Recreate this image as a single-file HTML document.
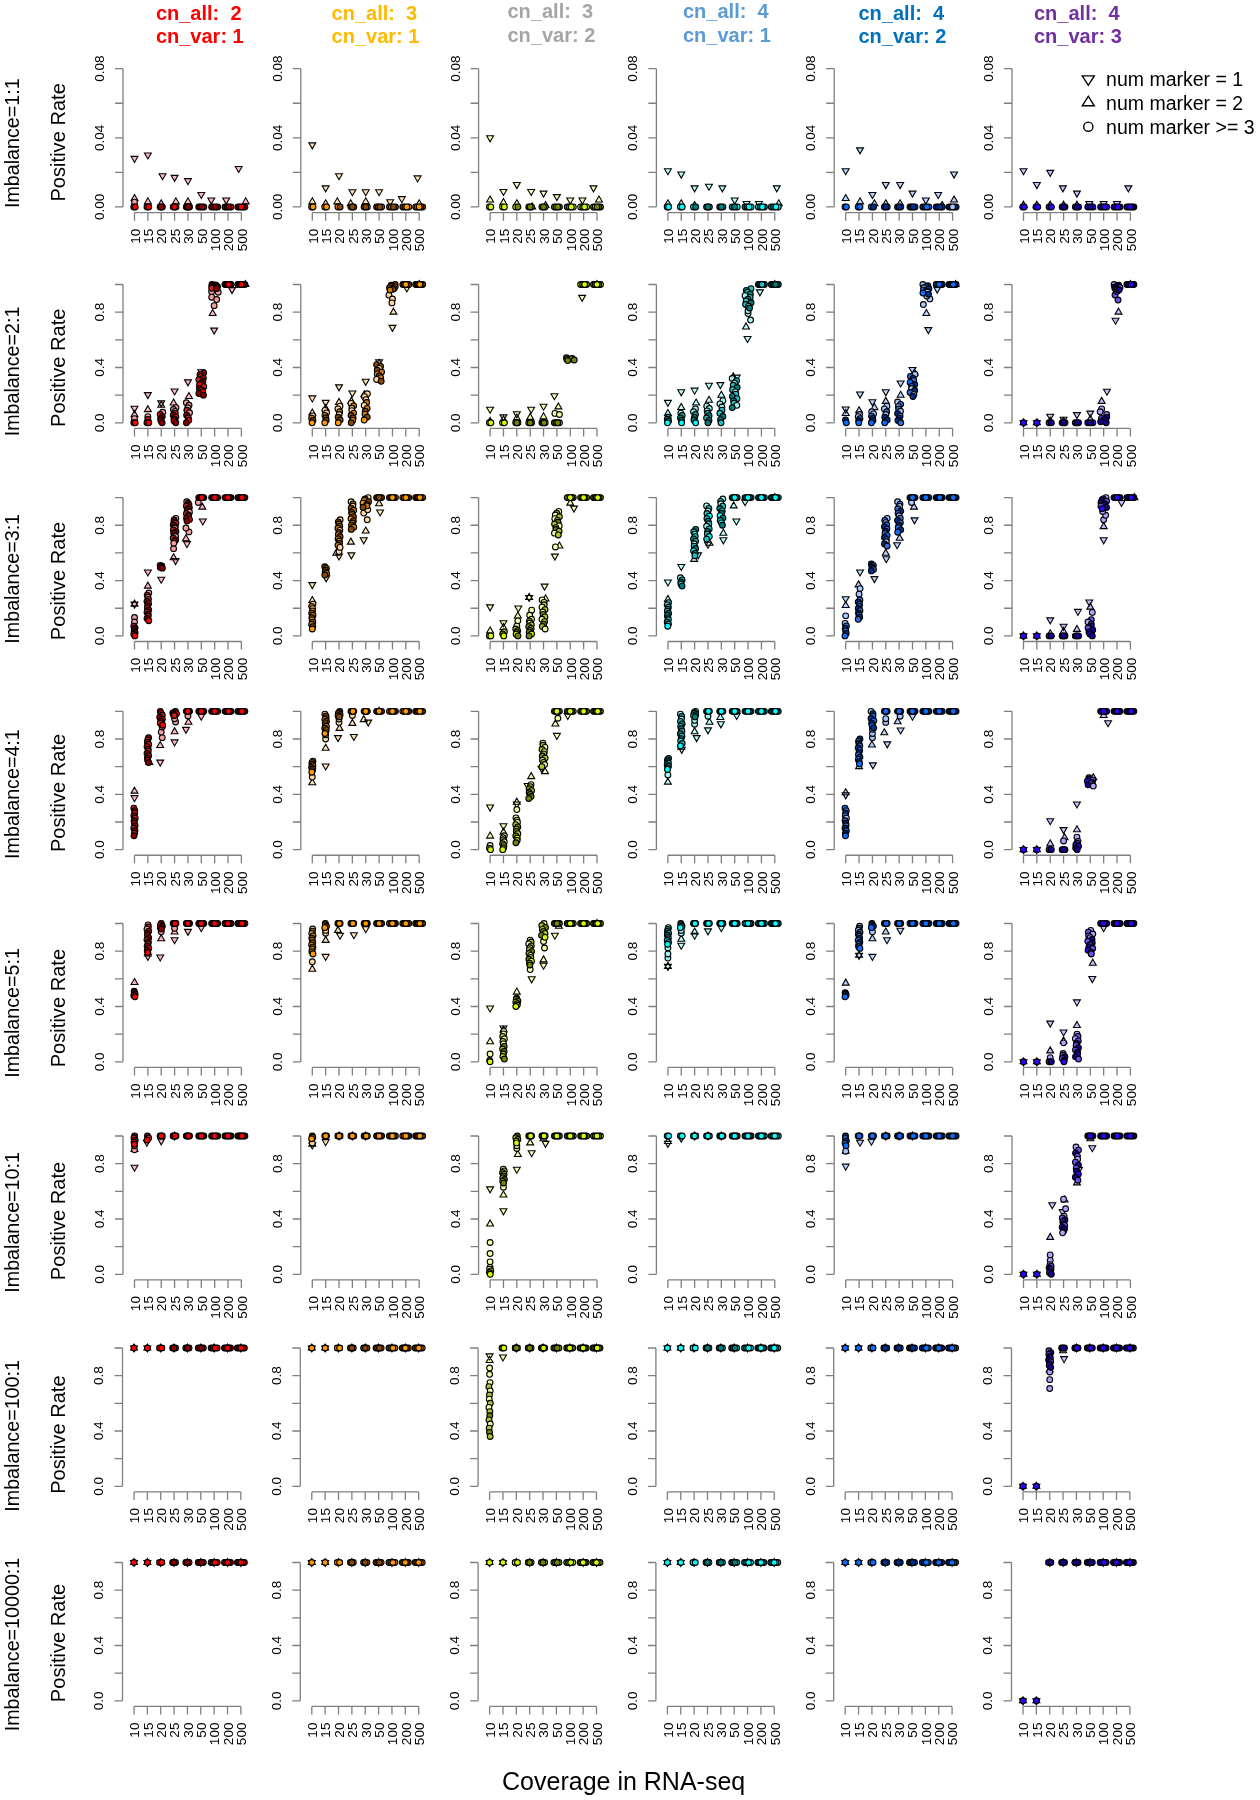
<!DOCTYPE html><html><head><meta charset="utf-8"><style>html,body{margin:0;padding:0;background:#fff;}svg{display:block;will-change:transform;}text{font-family:"Liberation Sans",sans-serif;}</style></head><body>
<svg width="1260" height="1800" viewBox="0 0 1260 1800">
<rect width="1260" height="1800" fill="#fff"/>
<text x="155.91" y="19.8" font-size="20" font-weight="bold" fill="#ff0000" xml:space="preserve">cn_all:  2</text>
<text x="155.91" y="42.9" font-size="20" font-weight="bold" fill="#ff0000" xml:space="preserve">cn_var: 1</text>
<text x="331.61" y="19.8" font-size="20" font-weight="bold" fill="#ffba00" xml:space="preserve">cn_all:  3</text>
<text x="331.61" y="42.9" font-size="20" font-weight="bold" fill="#ffba00" xml:space="preserve">cn_var: 1</text>
<text x="507.51" y="18.3" font-size="20" font-weight="bold" fill="#a5a5a5" xml:space="preserve">cn_all:  3</text>
<text x="507.51" y="41.6" font-size="20" font-weight="bold" fill="#a5a5a5" xml:space="preserve">cn_var: 2</text>
<text x="683.01" y="18.3" font-size="20" font-weight="bold" fill="#5b9bd5" xml:space="preserve">cn_all:  4</text>
<text x="683.01" y="41.6" font-size="20" font-weight="bold" fill="#5b9bd5" xml:space="preserve">cn_var: 1</text>
<text x="858.51" y="19.8" font-size="20" font-weight="bold" fill="#0070c0" xml:space="preserve">cn_all:  4</text>
<text x="858.51" y="42.9" font-size="20" font-weight="bold" fill="#0070c0" xml:space="preserve">cn_var: 2</text>
<text x="1034.01" y="19.8" font-size="20" font-weight="bold" fill="#7030a0" xml:space="preserve">cn_all:  4</text>
<text x="1034.01" y="42.9" font-size="20" font-weight="bold" fill="#7030a0" xml:space="preserve">cn_var: 3</text>
<text transform="translate(18.7,143.25) rotate(-90)" text-anchor="middle" font-size="19.7">Imbalance=1:1</text>
<text transform="translate(64.8,142.35) rotate(-90)" text-anchor="middle" font-size="20.1">Positive Rate</text>
<text transform="translate(18.7,371.5) rotate(-90)" text-anchor="middle" font-size="19.7">Imbalance=2:1</text>
<text transform="translate(64.8,367.8) rotate(-90)" text-anchor="middle" font-size="20.1">Positive Rate</text>
<text transform="translate(18.7,578.8) rotate(-90)" text-anchor="middle" font-size="19.7">Imbalance=3:1</text>
<text transform="translate(64.8,581) rotate(-90)" text-anchor="middle" font-size="20.1">Positive Rate</text>
<text transform="translate(18.7,794.1) rotate(-90)" text-anchor="middle" font-size="19.7">Imbalance=4:1</text>
<text transform="translate(64.8,792.9) rotate(-90)" text-anchor="middle" font-size="20.1">Positive Rate</text>
<text transform="translate(18.7,1013) rotate(-90)" text-anchor="middle" font-size="19.7">Imbalance=5:1</text>
<text transform="translate(64.8,1008.1) rotate(-90)" text-anchor="middle" font-size="20.1">Positive Rate</text>
<text transform="translate(18.7,1222.4) rotate(-90)" text-anchor="middle" font-size="19.7">Imbalance=10:1</text>
<text transform="translate(64.8,1221) rotate(-90)" text-anchor="middle" font-size="20.1">Positive Rate</text>
<text transform="translate(18.7,1435.9) rotate(-90)" text-anchor="middle" font-size="19.7">Imbalance=100:1</text>
<text transform="translate(64.8,1434.6) rotate(-90)" text-anchor="middle" font-size="20.1">Positive Rate</text>
<text transform="translate(18.7,1644.5) rotate(-90)" text-anchor="middle" font-size="19.7">Imbalance=10000:1</text>
<text transform="translate(64.8,1643) rotate(-90)" text-anchor="middle" font-size="20.1">Positive Rate</text>
<path d="M123 68.65V206.95M115 206.95H123M115 172.38H123M115 137.8H123M115 103.23H123M115 68.65H123M134.5 212.55H241.38M134.5 212.55V220.65M147.86 212.55V220.65M161.22 212.55V220.65M174.58 212.55V220.65M187.94 212.55V220.65M201.3 212.55V220.65M214.66 212.55V220.65M228.02 212.55V220.65M241.38 212.55V220.65M300.8 68.65V206.95M292.8 206.95H300.8M292.8 172.38H300.8M292.8 137.8H300.8M292.8 103.23H300.8M292.8 68.65H300.8M312.3 212.55H419.18M312.3 212.55V220.65M325.66 212.55V220.65M339.02 212.55V220.65M352.38 212.55V220.65M365.74 212.55V220.65M379.1 212.55V220.65M392.46 212.55V220.65M405.82 212.55V220.65M419.18 212.55V220.65M478.6 68.65V206.95M470.6 206.95H478.6M470.6 172.38H478.6M470.6 137.8H478.6M470.6 103.23H478.6M470.6 68.65H478.6M490.1 212.55H596.98M490.1 212.55V220.65M503.46 212.55V220.65M516.82 212.55V220.65M530.18 212.55V220.65M543.54 212.55V220.65M556.9 212.55V220.65M570.26 212.55V220.65M583.62 212.55V220.65M596.98 212.55V220.65M656.4 68.65V206.95M648.4 206.95H656.4M648.4 172.38H656.4M648.4 137.8H656.4M648.4 103.23H656.4M648.4 68.65H656.4M667.9 212.55H774.78M667.9 212.55V220.65M681.26 212.55V220.65M694.62 212.55V220.65M707.98 212.55V220.65M721.34 212.55V220.65M734.7 212.55V220.65M748.06 212.55V220.65M761.42 212.55V220.65M774.78 212.55V220.65M834.2 68.65V206.95M826.2 206.95H834.2M826.2 172.38H834.2M826.2 137.8H834.2M826.2 103.23H834.2M826.2 68.65H834.2M845.7 212.55H952.58M845.7 212.55V220.65M859.06 212.55V220.65M872.42 212.55V220.65M885.78 212.55V220.65M899.14 212.55V220.65M912.5 212.55V220.65M925.86 212.55V220.65M939.22 212.55V220.65M952.58 212.55V220.65M1012 68.65V206.95M1004 206.95H1012M1004 172.38H1012M1004 137.8H1012M1004 103.23H1012M1004 68.65H1012M1023.5 212.55H1130.38M1023.5 212.55V220.65M1036.86 212.55V220.65M1050.22 212.55V220.65M1063.58 212.55V220.65M1076.94 212.55V220.65M1090.3 212.55V220.65M1103.66 212.55V220.65M1117.02 212.55V220.65M1130.38 212.55V220.65M123 284.5V422.8M115 422.8H123M115 395.14H123M115 367.48H123M115 339.82H123M115 312.16H123M115 284.5H123M134.5 428.4H241.38M134.5 428.4V436.5M147.86 428.4V436.5M161.22 428.4V436.5M174.58 428.4V436.5M187.94 428.4V436.5M201.3 428.4V436.5M214.66 428.4V436.5M228.02 428.4V436.5M241.38 428.4V436.5M300.8 284.5V422.8M292.8 422.8H300.8M292.8 395.14H300.8M292.8 367.48H300.8M292.8 339.82H300.8M292.8 312.16H300.8M292.8 284.5H300.8M312.3 428.4H419.18M312.3 428.4V436.5M325.66 428.4V436.5M339.02 428.4V436.5M352.38 428.4V436.5M365.74 428.4V436.5M379.1 428.4V436.5M392.46 428.4V436.5M405.82 428.4V436.5M419.18 428.4V436.5M478.6 284.5V422.8M470.6 422.8H478.6M470.6 395.14H478.6M470.6 367.48H478.6M470.6 339.82H478.6M470.6 312.16H478.6M470.6 284.5H478.6M490.1 428.4H596.98M490.1 428.4V436.5M503.46 428.4V436.5M516.82 428.4V436.5M530.18 428.4V436.5M543.54 428.4V436.5M556.9 428.4V436.5M570.26 428.4V436.5M583.62 428.4V436.5M596.98 428.4V436.5M656.4 284.5V422.8M648.4 422.8H656.4M648.4 395.14H656.4M648.4 367.48H656.4M648.4 339.82H656.4M648.4 312.16H656.4M648.4 284.5H656.4M667.9 428.4H774.78M667.9 428.4V436.5M681.26 428.4V436.5M694.62 428.4V436.5M707.98 428.4V436.5M721.34 428.4V436.5M734.7 428.4V436.5M748.06 428.4V436.5M761.42 428.4V436.5M774.78 428.4V436.5M834.2 284.5V422.8M826.2 422.8H834.2M826.2 395.14H834.2M826.2 367.48H834.2M826.2 339.82H834.2M826.2 312.16H834.2M826.2 284.5H834.2M845.7 428.4H952.58M845.7 428.4V436.5M859.06 428.4V436.5M872.42 428.4V436.5M885.78 428.4V436.5M899.14 428.4V436.5M912.5 428.4V436.5M925.86 428.4V436.5M939.22 428.4V436.5M952.58 428.4V436.5M1012 284.5V422.8M1004 422.8H1012M1004 395.14H1012M1004 367.48H1012M1004 339.82H1012M1004 312.16H1012M1004 284.5H1012M1023.5 428.4H1130.38M1023.5 428.4V436.5M1036.86 428.4V436.5M1050.22 428.4V436.5M1063.58 428.4V436.5M1076.94 428.4V436.5M1090.3 428.4V436.5M1103.66 428.4V436.5M1117.02 428.4V436.5M1130.38 428.4V436.5M123 497.6V635.9M115 635.9H123M115 608.24H123M115 580.58H123M115 552.92H123M115 525.26H123M115 497.6H123M134.5 641.5H241.38M134.5 641.5V649.6M147.86 641.5V649.6M161.22 641.5V649.6M174.58 641.5V649.6M187.94 641.5V649.6M201.3 641.5V649.6M214.66 641.5V649.6M228.02 641.5V649.6M241.38 641.5V649.6M300.8 497.6V635.9M292.8 635.9H300.8M292.8 608.24H300.8M292.8 580.58H300.8M292.8 552.92H300.8M292.8 525.26H300.8M292.8 497.6H300.8M312.3 641.5H419.18M312.3 641.5V649.6M325.66 641.5V649.6M339.02 641.5V649.6M352.38 641.5V649.6M365.74 641.5V649.6M379.1 641.5V649.6M392.46 641.5V649.6M405.82 641.5V649.6M419.18 641.5V649.6M478.6 497.6V635.9M470.6 635.9H478.6M470.6 608.24H478.6M470.6 580.58H478.6M470.6 552.92H478.6M470.6 525.26H478.6M470.6 497.6H478.6M490.1 641.5H596.98M490.1 641.5V649.6M503.46 641.5V649.6M516.82 641.5V649.6M530.18 641.5V649.6M543.54 641.5V649.6M556.9 641.5V649.6M570.26 641.5V649.6M583.62 641.5V649.6M596.98 641.5V649.6M656.4 497.6V635.9M648.4 635.9H656.4M648.4 608.24H656.4M648.4 580.58H656.4M648.4 552.92H656.4M648.4 525.26H656.4M648.4 497.6H656.4M667.9 641.5H774.78M667.9 641.5V649.6M681.26 641.5V649.6M694.62 641.5V649.6M707.98 641.5V649.6M721.34 641.5V649.6M734.7 641.5V649.6M748.06 641.5V649.6M761.42 641.5V649.6M774.78 641.5V649.6M834.2 497.6V635.9M826.2 635.9H834.2M826.2 608.24H834.2M826.2 580.58H834.2M826.2 552.92H834.2M826.2 525.26H834.2M826.2 497.6H834.2M845.7 641.5H952.58M845.7 641.5V649.6M859.06 641.5V649.6M872.42 641.5V649.6M885.78 641.5V649.6M899.14 641.5V649.6M912.5 641.5V649.6M925.86 641.5V649.6M939.22 641.5V649.6M952.58 641.5V649.6M1012 497.6V635.9M1004 635.9H1012M1004 608.24H1012M1004 580.58H1012M1004 552.92H1012M1004 525.26H1012M1004 497.6H1012M1023.5 641.5H1130.38M1023.5 641.5V649.6M1036.86 641.5V649.6M1050.22 641.5V649.6M1063.58 641.5V649.6M1076.94 641.5V649.6M1090.3 641.5V649.6M1103.66 641.5V649.6M1117.02 641.5V649.6M1130.38 641.5V649.6M123 711.35V849.65M115 849.65H123M115 821.99H123M115 794.33H123M115 766.67H123M115 739.01H123M115 711.35H123M134.5 855.25H241.38M134.5 855.25V863.35M147.86 855.25V863.35M161.22 855.25V863.35M174.58 855.25V863.35M187.94 855.25V863.35M201.3 855.25V863.35M214.66 855.25V863.35M228.02 855.25V863.35M241.38 855.25V863.35M300.8 711.35V849.65M292.8 849.65H300.8M292.8 821.99H300.8M292.8 794.33H300.8M292.8 766.67H300.8M292.8 739.01H300.8M292.8 711.35H300.8M312.3 855.25H419.18M312.3 855.25V863.35M325.66 855.25V863.35M339.02 855.25V863.35M352.38 855.25V863.35M365.74 855.25V863.35M379.1 855.25V863.35M392.46 855.25V863.35M405.82 855.25V863.35M419.18 855.25V863.35M478.6 711.35V849.65M470.6 849.65H478.6M470.6 821.99H478.6M470.6 794.33H478.6M470.6 766.67H478.6M470.6 739.01H478.6M470.6 711.35H478.6M490.1 855.25H596.98M490.1 855.25V863.35M503.46 855.25V863.35M516.82 855.25V863.35M530.18 855.25V863.35M543.54 855.25V863.35M556.9 855.25V863.35M570.26 855.25V863.35M583.62 855.25V863.35M596.98 855.25V863.35M656.4 711.35V849.65M648.4 849.65H656.4M648.4 821.99H656.4M648.4 794.33H656.4M648.4 766.67H656.4M648.4 739.01H656.4M648.4 711.35H656.4M667.9 855.25H774.78M667.9 855.25V863.35M681.26 855.25V863.35M694.62 855.25V863.35M707.98 855.25V863.35M721.34 855.25V863.35M734.7 855.25V863.35M748.06 855.25V863.35M761.42 855.25V863.35M774.78 855.25V863.35M834.2 711.35V849.65M826.2 849.65H834.2M826.2 821.99H834.2M826.2 794.33H834.2M826.2 766.67H834.2M826.2 739.01H834.2M826.2 711.35H834.2M845.7 855.25H952.58M845.7 855.25V863.35M859.06 855.25V863.35M872.42 855.25V863.35M885.78 855.25V863.35M899.14 855.25V863.35M912.5 855.25V863.35M925.86 855.25V863.35M939.22 855.25V863.35M952.58 855.25V863.35M1012 711.35V849.65M1004 849.65H1012M1004 821.99H1012M1004 794.33H1012M1004 766.67H1012M1004 739.01H1012M1004 711.35H1012M1023.5 855.25H1130.38M1023.5 855.25V863.35M1036.86 855.25V863.35M1050.22 855.25V863.35M1063.58 855.25V863.35M1076.94 855.25V863.35M1090.3 855.25V863.35M1103.66 855.25V863.35M1117.02 855.25V863.35M1130.38 855.25V863.35M123 923.5V1061.8M115 1061.8H123M115 1034.14H123M115 1006.48H123M115 978.82H123M115 951.16H123M115 923.5H123M134.5 1067.4H241.38M134.5 1067.4V1075.5M147.86 1067.4V1075.5M161.22 1067.4V1075.5M174.58 1067.4V1075.5M187.94 1067.4V1075.5M201.3 1067.4V1075.5M214.66 1067.4V1075.5M228.02 1067.4V1075.5M241.38 1067.4V1075.5M300.8 923.5V1061.8M292.8 1061.8H300.8M292.8 1034.14H300.8M292.8 1006.48H300.8M292.8 978.82H300.8M292.8 951.16H300.8M292.8 923.5H300.8M312.3 1067.4H419.18M312.3 1067.4V1075.5M325.66 1067.4V1075.5M339.02 1067.4V1075.5M352.38 1067.4V1075.5M365.74 1067.4V1075.5M379.1 1067.4V1075.5M392.46 1067.4V1075.5M405.82 1067.4V1075.5M419.18 1067.4V1075.5M478.6 923.5V1061.8M470.6 1061.8H478.6M470.6 1034.14H478.6M470.6 1006.48H478.6M470.6 978.82H478.6M470.6 951.16H478.6M470.6 923.5H478.6M490.1 1067.4H596.98M490.1 1067.4V1075.5M503.46 1067.4V1075.5M516.82 1067.4V1075.5M530.18 1067.4V1075.5M543.54 1067.4V1075.5M556.9 1067.4V1075.5M570.26 1067.4V1075.5M583.62 1067.4V1075.5M596.98 1067.4V1075.5M656.4 923.5V1061.8M648.4 1061.8H656.4M648.4 1034.14H656.4M648.4 1006.48H656.4M648.4 978.82H656.4M648.4 951.16H656.4M648.4 923.5H656.4M667.9 1067.4H774.78M667.9 1067.4V1075.5M681.26 1067.4V1075.5M694.62 1067.4V1075.5M707.98 1067.4V1075.5M721.34 1067.4V1075.5M734.7 1067.4V1075.5M748.06 1067.4V1075.5M761.42 1067.4V1075.5M774.78 1067.4V1075.5M834.2 923.5V1061.8M826.2 1061.8H834.2M826.2 1034.14H834.2M826.2 1006.48H834.2M826.2 978.82H834.2M826.2 951.16H834.2M826.2 923.5H834.2M845.7 1067.4H952.58M845.7 1067.4V1075.5M859.06 1067.4V1075.5M872.42 1067.4V1075.5M885.78 1067.4V1075.5M899.14 1067.4V1075.5M912.5 1067.4V1075.5M925.86 1067.4V1075.5M939.22 1067.4V1075.5M952.58 1067.4V1075.5M1012 923.5V1061.8M1004 1061.8H1012M1004 1034.14H1012M1004 1006.48H1012M1004 978.82H1012M1004 951.16H1012M1004 923.5H1012M1023.5 1067.4H1130.38M1023.5 1067.4V1075.5M1036.86 1067.4V1075.5M1050.22 1067.4V1075.5M1063.58 1067.4V1075.5M1076.94 1067.4V1075.5M1090.3 1067.4V1075.5M1103.66 1067.4V1075.5M1117.02 1067.4V1075.5M1130.38 1067.4V1075.5M123 1136V1274.3M115 1274.3H123M115 1246.64H123M115 1218.98H123M115 1191.32H123M115 1163.66H123M115 1136H123M134.5 1279.9H241.38M134.5 1279.9V1288M147.86 1279.9V1288M161.22 1279.9V1288M174.58 1279.9V1288M187.94 1279.9V1288M201.3 1279.9V1288M214.66 1279.9V1288M228.02 1279.9V1288M241.38 1279.9V1288M300.8 1136V1274.3M292.8 1274.3H300.8M292.8 1246.64H300.8M292.8 1218.98H300.8M292.8 1191.32H300.8M292.8 1163.66H300.8M292.8 1136H300.8M312.3 1279.9H419.18M312.3 1279.9V1288M325.66 1279.9V1288M339.02 1279.9V1288M352.38 1279.9V1288M365.74 1279.9V1288M379.1 1279.9V1288M392.46 1279.9V1288M405.82 1279.9V1288M419.18 1279.9V1288M478.6 1136V1274.3M470.6 1274.3H478.6M470.6 1246.64H478.6M470.6 1218.98H478.6M470.6 1191.32H478.6M470.6 1163.66H478.6M470.6 1136H478.6M490.1 1279.9H596.98M490.1 1279.9V1288M503.46 1279.9V1288M516.82 1279.9V1288M530.18 1279.9V1288M543.54 1279.9V1288M556.9 1279.9V1288M570.26 1279.9V1288M583.62 1279.9V1288M596.98 1279.9V1288M656.4 1136V1274.3M648.4 1274.3H656.4M648.4 1246.64H656.4M648.4 1218.98H656.4M648.4 1191.32H656.4M648.4 1163.66H656.4M648.4 1136H656.4M667.9 1279.9H774.78M667.9 1279.9V1288M681.26 1279.9V1288M694.62 1279.9V1288M707.98 1279.9V1288M721.34 1279.9V1288M734.7 1279.9V1288M748.06 1279.9V1288M761.42 1279.9V1288M774.78 1279.9V1288M834.2 1136V1274.3M826.2 1274.3H834.2M826.2 1246.64H834.2M826.2 1218.98H834.2M826.2 1191.32H834.2M826.2 1163.66H834.2M826.2 1136H834.2M845.7 1279.9H952.58M845.7 1279.9V1288M859.06 1279.9V1288M872.42 1279.9V1288M885.78 1279.9V1288M899.14 1279.9V1288M912.5 1279.9V1288M925.86 1279.9V1288M939.22 1279.9V1288M952.58 1279.9V1288M1012 1136V1274.3M1004 1274.3H1012M1004 1246.64H1012M1004 1218.98H1012M1004 1191.32H1012M1004 1163.66H1012M1004 1136H1012M1023.5 1279.9H1130.38M1023.5 1279.9V1288M1036.86 1279.9V1288M1050.22 1279.9V1288M1063.58 1279.9V1288M1076.94 1279.9V1288M1090.3 1279.9V1288M1103.66 1279.9V1288M1117.02 1279.9V1288M1130.38 1279.9V1288M122.5 1348V1486.3M114.5 1486.3H122.5M114.5 1458.64H122.5M114.5 1430.98H122.5M114.5 1403.32H122.5M114.5 1375.66H122.5M114.5 1348H122.5M134 1491.9H240.88M134 1491.9V1500M147.36 1491.9V1500M160.72 1491.9V1500M174.08 1491.9V1500M187.44 1491.9V1500M200.8 1491.9V1500M214.16 1491.9V1500M227.52 1491.9V1500M240.88 1491.9V1500M300.3 1348V1486.3M292.3 1486.3H300.3M292.3 1458.64H300.3M292.3 1430.98H300.3M292.3 1403.32H300.3M292.3 1375.66H300.3M292.3 1348H300.3M311.8 1491.9H418.68M311.8 1491.9V1500M325.16 1491.9V1500M338.52 1491.9V1500M351.88 1491.9V1500M365.24 1491.9V1500M378.6 1491.9V1500M391.96 1491.9V1500M405.32 1491.9V1500M418.68 1491.9V1500M478.1 1348V1486.3M470.1 1486.3H478.1M470.1 1458.64H478.1M470.1 1430.98H478.1M470.1 1403.32H478.1M470.1 1375.66H478.1M470.1 1348H478.1M489.6 1491.9H596.48M489.6 1491.9V1500M502.96 1491.9V1500M516.32 1491.9V1500M529.68 1491.9V1500M543.04 1491.9V1500M556.4 1491.9V1500M569.76 1491.9V1500M583.12 1491.9V1500M596.48 1491.9V1500M655.9 1348V1486.3M647.9 1486.3H655.9M647.9 1458.64H655.9M647.9 1430.98H655.9M647.9 1403.32H655.9M647.9 1375.66H655.9M647.9 1348H655.9M667.4 1491.9H774.28M667.4 1491.9V1500M680.76 1491.9V1500M694.12 1491.9V1500M707.48 1491.9V1500M720.84 1491.9V1500M734.2 1491.9V1500M747.56 1491.9V1500M760.92 1491.9V1500M774.28 1491.9V1500M833.7 1348V1486.3M825.7 1486.3H833.7M825.7 1458.64H833.7M825.7 1430.98H833.7M825.7 1403.32H833.7M825.7 1375.66H833.7M825.7 1348H833.7M845.2 1491.9H952.08M845.2 1491.9V1500M858.56 1491.9V1500M871.92 1491.9V1500M885.28 1491.9V1500M898.64 1491.9V1500M912 1491.9V1500M925.36 1491.9V1500M938.72 1491.9V1500M952.08 1491.9V1500M1011.5 1348V1486.3M1003.5 1486.3H1011.5M1003.5 1458.64H1011.5M1003.5 1430.98H1011.5M1003.5 1403.32H1011.5M1003.5 1375.66H1011.5M1003.5 1348H1011.5M1023 1491.9H1129.88M1023 1491.9V1500M1036.36 1491.9V1500M1049.72 1491.9V1500M1063.08 1491.9V1500M1076.44 1491.9V1500M1089.8 1491.9V1500M1103.16 1491.9V1500M1116.52 1491.9V1500M1129.88 1491.9V1500M122.5 1562.5V1700.8M114.5 1700.8H122.5M114.5 1673.14H122.5M114.5 1645.48H122.5M114.5 1617.82H122.5M114.5 1590.16H122.5M114.5 1562.5H122.5M134 1706.4H240.88M134 1706.4V1714.5M147.36 1706.4V1714.5M160.72 1706.4V1714.5M174.08 1706.4V1714.5M187.44 1706.4V1714.5M200.8 1706.4V1714.5M214.16 1706.4V1714.5M227.52 1706.4V1714.5M240.88 1706.4V1714.5M300.3 1562.5V1700.8M292.3 1700.8H300.3M292.3 1673.14H300.3M292.3 1645.48H300.3M292.3 1617.82H300.3M292.3 1590.16H300.3M292.3 1562.5H300.3M311.8 1706.4H418.68M311.8 1706.4V1714.5M325.16 1706.4V1714.5M338.52 1706.4V1714.5M351.88 1706.4V1714.5M365.24 1706.4V1714.5M378.6 1706.4V1714.5M391.96 1706.4V1714.5M405.32 1706.4V1714.5M418.68 1706.4V1714.5M478.1 1562.5V1700.8M470.1 1700.8H478.1M470.1 1673.14H478.1M470.1 1645.48H478.1M470.1 1617.82H478.1M470.1 1590.16H478.1M470.1 1562.5H478.1M489.6 1706.4H596.48M489.6 1706.4V1714.5M502.96 1706.4V1714.5M516.32 1706.4V1714.5M529.68 1706.4V1714.5M543.04 1706.4V1714.5M556.4 1706.4V1714.5M569.76 1706.4V1714.5M583.12 1706.4V1714.5M596.48 1706.4V1714.5M655.9 1562.5V1700.8M647.9 1700.8H655.9M647.9 1673.14H655.9M647.9 1645.48H655.9M647.9 1617.82H655.9M647.9 1590.16H655.9M647.9 1562.5H655.9M667.4 1706.4H774.28M667.4 1706.4V1714.5M680.76 1706.4V1714.5M694.12 1706.4V1714.5M707.48 1706.4V1714.5M720.84 1706.4V1714.5M734.2 1706.4V1714.5M747.56 1706.4V1714.5M760.92 1706.4V1714.5M774.28 1706.4V1714.5M833.7 1562.5V1700.8M825.7 1700.8H833.7M825.7 1673.14H833.7M825.7 1645.48H833.7M825.7 1617.82H833.7M825.7 1590.16H833.7M825.7 1562.5H833.7M845.2 1706.4H952.08M845.2 1706.4V1714.5M858.56 1706.4V1714.5M871.92 1706.4V1714.5M885.28 1706.4V1714.5M898.64 1706.4V1714.5M912 1706.4V1714.5M925.36 1706.4V1714.5M938.72 1706.4V1714.5M952.08 1706.4V1714.5M1011.5 1562.5V1700.8M1003.5 1700.8H1011.5M1003.5 1673.14H1011.5M1003.5 1645.48H1011.5M1003.5 1617.82H1011.5M1003.5 1590.16H1011.5M1003.5 1562.5H1011.5M1023 1706.4H1129.88M1023 1706.4V1714.5M1036.36 1706.4V1714.5M1049.72 1706.4V1714.5M1063.08 1706.4V1714.5M1076.44 1706.4V1714.5M1089.8 1706.4V1714.5M1103.16 1706.4V1714.5M1116.52 1706.4V1714.5M1129.88 1706.4V1714.5" fill="none" stroke="#7f7f7f" stroke-width="1.3" stroke-linejoin="round"/>
<g font-size="13.5" fill="#000"><text transform="translate(103.9,206.95) rotate(-90)" text-anchor="middle">0.00</text><text transform="translate(103.9,137.8) rotate(-90)" text-anchor="middle">0.04</text><text transform="translate(103.9,68.65) rotate(-90)" text-anchor="middle">0.08</text><text transform="translate(139.76,228.75) rotate(-90)" text-anchor="end">10</text><text transform="translate(153.12,228.75) rotate(-90)" text-anchor="end">15</text><text transform="translate(166.48,228.75) rotate(-90)" text-anchor="end">20</text><text transform="translate(179.84,228.75) rotate(-90)" text-anchor="end">25</text><text transform="translate(193.2,228.75) rotate(-90)" text-anchor="end">30</text><text transform="translate(206.56,228.75) rotate(-90)" text-anchor="end">50</text><text transform="translate(219.92,228.75) rotate(-90)" text-anchor="end">100</text><text transform="translate(233.28,228.75) rotate(-90)" text-anchor="end">200</text><text transform="translate(246.64,228.75) rotate(-90)" text-anchor="end">500</text><text transform="translate(281.7,206.95) rotate(-90)" text-anchor="middle">0.00</text><text transform="translate(281.7,137.8) rotate(-90)" text-anchor="middle">0.04</text><text transform="translate(281.7,68.65) rotate(-90)" text-anchor="middle">0.08</text><text transform="translate(317.56,228.75) rotate(-90)" text-anchor="end">10</text><text transform="translate(330.92,228.75) rotate(-90)" text-anchor="end">15</text><text transform="translate(344.28,228.75) rotate(-90)" text-anchor="end">20</text><text transform="translate(357.64,228.75) rotate(-90)" text-anchor="end">25</text><text transform="translate(371,228.75) rotate(-90)" text-anchor="end">30</text><text transform="translate(384.36,228.75) rotate(-90)" text-anchor="end">50</text><text transform="translate(397.72,228.75) rotate(-90)" text-anchor="end">100</text><text transform="translate(411.08,228.75) rotate(-90)" text-anchor="end">200</text><text transform="translate(424.44,228.75) rotate(-90)" text-anchor="end">500</text><text transform="translate(459.5,206.95) rotate(-90)" text-anchor="middle">0.00</text><text transform="translate(459.5,137.8) rotate(-90)" text-anchor="middle">0.04</text><text transform="translate(459.5,68.65) rotate(-90)" text-anchor="middle">0.08</text><text transform="translate(495.36,228.75) rotate(-90)" text-anchor="end">10</text><text transform="translate(508.72,228.75) rotate(-90)" text-anchor="end">15</text><text transform="translate(522.08,228.75) rotate(-90)" text-anchor="end">20</text><text transform="translate(535.44,228.75) rotate(-90)" text-anchor="end">25</text><text transform="translate(548.8,228.75) rotate(-90)" text-anchor="end">30</text><text transform="translate(562.16,228.75) rotate(-90)" text-anchor="end">50</text><text transform="translate(575.52,228.75) rotate(-90)" text-anchor="end">100</text><text transform="translate(588.88,228.75) rotate(-90)" text-anchor="end">200</text><text transform="translate(602.24,228.75) rotate(-90)" text-anchor="end">500</text><text transform="translate(637.3,206.95) rotate(-90)" text-anchor="middle">0.00</text><text transform="translate(637.3,137.8) rotate(-90)" text-anchor="middle">0.04</text><text transform="translate(637.3,68.65) rotate(-90)" text-anchor="middle">0.08</text><text transform="translate(673.16,228.75) rotate(-90)" text-anchor="end">10</text><text transform="translate(686.52,228.75) rotate(-90)" text-anchor="end">15</text><text transform="translate(699.88,228.75) rotate(-90)" text-anchor="end">20</text><text transform="translate(713.24,228.75) rotate(-90)" text-anchor="end">25</text><text transform="translate(726.6,228.75) rotate(-90)" text-anchor="end">30</text><text transform="translate(739.96,228.75) rotate(-90)" text-anchor="end">50</text><text transform="translate(753.32,228.75) rotate(-90)" text-anchor="end">100</text><text transform="translate(766.68,228.75) rotate(-90)" text-anchor="end">200</text><text transform="translate(780.04,228.75) rotate(-90)" text-anchor="end">500</text><text transform="translate(815.1,206.95) rotate(-90)" text-anchor="middle">0.00</text><text transform="translate(815.1,137.8) rotate(-90)" text-anchor="middle">0.04</text><text transform="translate(815.1,68.65) rotate(-90)" text-anchor="middle">0.08</text><text transform="translate(850.96,228.75) rotate(-90)" text-anchor="end">10</text><text transform="translate(864.32,228.75) rotate(-90)" text-anchor="end">15</text><text transform="translate(877.68,228.75) rotate(-90)" text-anchor="end">20</text><text transform="translate(891.04,228.75) rotate(-90)" text-anchor="end">25</text><text transform="translate(904.4,228.75) rotate(-90)" text-anchor="end">30</text><text transform="translate(917.76,228.75) rotate(-90)" text-anchor="end">50</text><text transform="translate(931.12,228.75) rotate(-90)" text-anchor="end">100</text><text transform="translate(944.48,228.75) rotate(-90)" text-anchor="end">200</text><text transform="translate(957.84,228.75) rotate(-90)" text-anchor="end">500</text><text transform="translate(992.9,206.95) rotate(-90)" text-anchor="middle">0.00</text><text transform="translate(992.9,137.8) rotate(-90)" text-anchor="middle">0.04</text><text transform="translate(992.9,68.65) rotate(-90)" text-anchor="middle">0.08</text><text transform="translate(1028.76,228.75) rotate(-90)" text-anchor="end">10</text><text transform="translate(1042.12,228.75) rotate(-90)" text-anchor="end">15</text><text transform="translate(1055.48,228.75) rotate(-90)" text-anchor="end">20</text><text transform="translate(1068.84,228.75) rotate(-90)" text-anchor="end">25</text><text transform="translate(1082.2,228.75) rotate(-90)" text-anchor="end">30</text><text transform="translate(1095.56,228.75) rotate(-90)" text-anchor="end">50</text><text transform="translate(1108.92,228.75) rotate(-90)" text-anchor="end">100</text><text transform="translate(1122.28,228.75) rotate(-90)" text-anchor="end">200</text><text transform="translate(1135.64,228.75) rotate(-90)" text-anchor="end">500</text><text transform="translate(103.9,422.8) rotate(-90)" text-anchor="middle">0.0</text><text transform="translate(103.9,367.48) rotate(-90)" text-anchor="middle">0.4</text><text transform="translate(103.9,312.16) rotate(-90)" text-anchor="middle">0.8</text><text transform="translate(139.76,444.6) rotate(-90)" text-anchor="end">10</text><text transform="translate(153.12,444.6) rotate(-90)" text-anchor="end">15</text><text transform="translate(166.48,444.6) rotate(-90)" text-anchor="end">20</text><text transform="translate(179.84,444.6) rotate(-90)" text-anchor="end">25</text><text transform="translate(193.2,444.6) rotate(-90)" text-anchor="end">30</text><text transform="translate(206.56,444.6) rotate(-90)" text-anchor="end">50</text><text transform="translate(219.92,444.6) rotate(-90)" text-anchor="end">100</text><text transform="translate(233.28,444.6) rotate(-90)" text-anchor="end">200</text><text transform="translate(246.64,444.6) rotate(-90)" text-anchor="end">500</text><text transform="translate(281.7,422.8) rotate(-90)" text-anchor="middle">0.0</text><text transform="translate(281.7,367.48) rotate(-90)" text-anchor="middle">0.4</text><text transform="translate(281.7,312.16) rotate(-90)" text-anchor="middle">0.8</text><text transform="translate(317.56,444.6) rotate(-90)" text-anchor="end">10</text><text transform="translate(330.92,444.6) rotate(-90)" text-anchor="end">15</text><text transform="translate(344.28,444.6) rotate(-90)" text-anchor="end">20</text><text transform="translate(357.64,444.6) rotate(-90)" text-anchor="end">25</text><text transform="translate(371,444.6) rotate(-90)" text-anchor="end">30</text><text transform="translate(384.36,444.6) rotate(-90)" text-anchor="end">50</text><text transform="translate(397.72,444.6) rotate(-90)" text-anchor="end">100</text><text transform="translate(411.08,444.6) rotate(-90)" text-anchor="end">200</text><text transform="translate(424.44,444.6) rotate(-90)" text-anchor="end">500</text><text transform="translate(459.5,422.8) rotate(-90)" text-anchor="middle">0.0</text><text transform="translate(459.5,367.48) rotate(-90)" text-anchor="middle">0.4</text><text transform="translate(459.5,312.16) rotate(-90)" text-anchor="middle">0.8</text><text transform="translate(495.36,444.6) rotate(-90)" text-anchor="end">10</text><text transform="translate(508.72,444.6) rotate(-90)" text-anchor="end">15</text><text transform="translate(522.08,444.6) rotate(-90)" text-anchor="end">20</text><text transform="translate(535.44,444.6) rotate(-90)" text-anchor="end">25</text><text transform="translate(548.8,444.6) rotate(-90)" text-anchor="end">30</text><text transform="translate(562.16,444.6) rotate(-90)" text-anchor="end">50</text><text transform="translate(575.52,444.6) rotate(-90)" text-anchor="end">100</text><text transform="translate(588.88,444.6) rotate(-90)" text-anchor="end">200</text><text transform="translate(602.24,444.6) rotate(-90)" text-anchor="end">500</text><text transform="translate(637.3,422.8) rotate(-90)" text-anchor="middle">0.0</text><text transform="translate(637.3,367.48) rotate(-90)" text-anchor="middle">0.4</text><text transform="translate(637.3,312.16) rotate(-90)" text-anchor="middle">0.8</text><text transform="translate(673.16,444.6) rotate(-90)" text-anchor="end">10</text><text transform="translate(686.52,444.6) rotate(-90)" text-anchor="end">15</text><text transform="translate(699.88,444.6) rotate(-90)" text-anchor="end">20</text><text transform="translate(713.24,444.6) rotate(-90)" text-anchor="end">25</text><text transform="translate(726.6,444.6) rotate(-90)" text-anchor="end">30</text><text transform="translate(739.96,444.6) rotate(-90)" text-anchor="end">50</text><text transform="translate(753.32,444.6) rotate(-90)" text-anchor="end">100</text><text transform="translate(766.68,444.6) rotate(-90)" text-anchor="end">200</text><text transform="translate(780.04,444.6) rotate(-90)" text-anchor="end">500</text><text transform="translate(815.1,422.8) rotate(-90)" text-anchor="middle">0.0</text><text transform="translate(815.1,367.48) rotate(-90)" text-anchor="middle">0.4</text><text transform="translate(815.1,312.16) rotate(-90)" text-anchor="middle">0.8</text><text transform="translate(850.96,444.6) rotate(-90)" text-anchor="end">10</text><text transform="translate(864.32,444.6) rotate(-90)" text-anchor="end">15</text><text transform="translate(877.68,444.6) rotate(-90)" text-anchor="end">20</text><text transform="translate(891.04,444.6) rotate(-90)" text-anchor="end">25</text><text transform="translate(904.4,444.6) rotate(-90)" text-anchor="end">30</text><text transform="translate(917.76,444.6) rotate(-90)" text-anchor="end">50</text><text transform="translate(931.12,444.6) rotate(-90)" text-anchor="end">100</text><text transform="translate(944.48,444.6) rotate(-90)" text-anchor="end">200</text><text transform="translate(957.84,444.6) rotate(-90)" text-anchor="end">500</text><text transform="translate(992.9,422.8) rotate(-90)" text-anchor="middle">0.0</text><text transform="translate(992.9,367.48) rotate(-90)" text-anchor="middle">0.4</text><text transform="translate(992.9,312.16) rotate(-90)" text-anchor="middle">0.8</text><text transform="translate(1028.76,444.6) rotate(-90)" text-anchor="end">10</text><text transform="translate(1042.12,444.6) rotate(-90)" text-anchor="end">15</text><text transform="translate(1055.48,444.6) rotate(-90)" text-anchor="end">20</text><text transform="translate(1068.84,444.6) rotate(-90)" text-anchor="end">25</text><text transform="translate(1082.2,444.6) rotate(-90)" text-anchor="end">30</text><text transform="translate(1095.56,444.6) rotate(-90)" text-anchor="end">50</text><text transform="translate(1108.92,444.6) rotate(-90)" text-anchor="end">100</text><text transform="translate(1122.28,444.6) rotate(-90)" text-anchor="end">200</text><text transform="translate(1135.64,444.6) rotate(-90)" text-anchor="end">500</text><text transform="translate(103.9,635.9) rotate(-90)" text-anchor="middle">0.0</text><text transform="translate(103.9,580.58) rotate(-90)" text-anchor="middle">0.4</text><text transform="translate(103.9,525.26) rotate(-90)" text-anchor="middle">0.8</text><text transform="translate(139.76,657.7) rotate(-90)" text-anchor="end">10</text><text transform="translate(153.12,657.7) rotate(-90)" text-anchor="end">15</text><text transform="translate(166.48,657.7) rotate(-90)" text-anchor="end">20</text><text transform="translate(179.84,657.7) rotate(-90)" text-anchor="end">25</text><text transform="translate(193.2,657.7) rotate(-90)" text-anchor="end">30</text><text transform="translate(206.56,657.7) rotate(-90)" text-anchor="end">50</text><text transform="translate(219.92,657.7) rotate(-90)" text-anchor="end">100</text><text transform="translate(233.28,657.7) rotate(-90)" text-anchor="end">200</text><text transform="translate(246.64,657.7) rotate(-90)" text-anchor="end">500</text><text transform="translate(281.7,635.9) rotate(-90)" text-anchor="middle">0.0</text><text transform="translate(281.7,580.58) rotate(-90)" text-anchor="middle">0.4</text><text transform="translate(281.7,525.26) rotate(-90)" text-anchor="middle">0.8</text><text transform="translate(317.56,657.7) rotate(-90)" text-anchor="end">10</text><text transform="translate(330.92,657.7) rotate(-90)" text-anchor="end">15</text><text transform="translate(344.28,657.7) rotate(-90)" text-anchor="end">20</text><text transform="translate(357.64,657.7) rotate(-90)" text-anchor="end">25</text><text transform="translate(371,657.7) rotate(-90)" text-anchor="end">30</text><text transform="translate(384.36,657.7) rotate(-90)" text-anchor="end">50</text><text transform="translate(397.72,657.7) rotate(-90)" text-anchor="end">100</text><text transform="translate(411.08,657.7) rotate(-90)" text-anchor="end">200</text><text transform="translate(424.44,657.7) rotate(-90)" text-anchor="end">500</text><text transform="translate(459.5,635.9) rotate(-90)" text-anchor="middle">0.0</text><text transform="translate(459.5,580.58) rotate(-90)" text-anchor="middle">0.4</text><text transform="translate(459.5,525.26) rotate(-90)" text-anchor="middle">0.8</text><text transform="translate(495.36,657.7) rotate(-90)" text-anchor="end">10</text><text transform="translate(508.72,657.7) rotate(-90)" text-anchor="end">15</text><text transform="translate(522.08,657.7) rotate(-90)" text-anchor="end">20</text><text transform="translate(535.44,657.7) rotate(-90)" text-anchor="end">25</text><text transform="translate(548.8,657.7) rotate(-90)" text-anchor="end">30</text><text transform="translate(562.16,657.7) rotate(-90)" text-anchor="end">50</text><text transform="translate(575.52,657.7) rotate(-90)" text-anchor="end">100</text><text transform="translate(588.88,657.7) rotate(-90)" text-anchor="end">200</text><text transform="translate(602.24,657.7) rotate(-90)" text-anchor="end">500</text><text transform="translate(637.3,635.9) rotate(-90)" text-anchor="middle">0.0</text><text transform="translate(637.3,580.58) rotate(-90)" text-anchor="middle">0.4</text><text transform="translate(637.3,525.26) rotate(-90)" text-anchor="middle">0.8</text><text transform="translate(673.16,657.7) rotate(-90)" text-anchor="end">10</text><text transform="translate(686.52,657.7) rotate(-90)" text-anchor="end">15</text><text transform="translate(699.88,657.7) rotate(-90)" text-anchor="end">20</text><text transform="translate(713.24,657.7) rotate(-90)" text-anchor="end">25</text><text transform="translate(726.6,657.7) rotate(-90)" text-anchor="end">30</text><text transform="translate(739.96,657.7) rotate(-90)" text-anchor="end">50</text><text transform="translate(753.32,657.7) rotate(-90)" text-anchor="end">100</text><text transform="translate(766.68,657.7) rotate(-90)" text-anchor="end">200</text><text transform="translate(780.04,657.7) rotate(-90)" text-anchor="end">500</text><text transform="translate(815.1,635.9) rotate(-90)" text-anchor="middle">0.0</text><text transform="translate(815.1,580.58) rotate(-90)" text-anchor="middle">0.4</text><text transform="translate(815.1,525.26) rotate(-90)" text-anchor="middle">0.8</text><text transform="translate(850.96,657.7) rotate(-90)" text-anchor="end">10</text><text transform="translate(864.32,657.7) rotate(-90)" text-anchor="end">15</text><text transform="translate(877.68,657.7) rotate(-90)" text-anchor="end">20</text><text transform="translate(891.04,657.7) rotate(-90)" text-anchor="end">25</text><text transform="translate(904.4,657.7) rotate(-90)" text-anchor="end">30</text><text transform="translate(917.76,657.7) rotate(-90)" text-anchor="end">50</text><text transform="translate(931.12,657.7) rotate(-90)" text-anchor="end">100</text><text transform="translate(944.48,657.7) rotate(-90)" text-anchor="end">200</text><text transform="translate(957.84,657.7) rotate(-90)" text-anchor="end">500</text><text transform="translate(992.9,635.9) rotate(-90)" text-anchor="middle">0.0</text><text transform="translate(992.9,580.58) rotate(-90)" text-anchor="middle">0.4</text><text transform="translate(992.9,525.26) rotate(-90)" text-anchor="middle">0.8</text><text transform="translate(1028.76,657.7) rotate(-90)" text-anchor="end">10</text><text transform="translate(1042.12,657.7) rotate(-90)" text-anchor="end">15</text><text transform="translate(1055.48,657.7) rotate(-90)" text-anchor="end">20</text><text transform="translate(1068.84,657.7) rotate(-90)" text-anchor="end">25</text><text transform="translate(1082.2,657.7) rotate(-90)" text-anchor="end">30</text><text transform="translate(1095.56,657.7) rotate(-90)" text-anchor="end">50</text><text transform="translate(1108.92,657.7) rotate(-90)" text-anchor="end">100</text><text transform="translate(1122.28,657.7) rotate(-90)" text-anchor="end">200</text><text transform="translate(1135.64,657.7) rotate(-90)" text-anchor="end">500</text><text transform="translate(103.9,849.65) rotate(-90)" text-anchor="middle">0.0</text><text transform="translate(103.9,794.33) rotate(-90)" text-anchor="middle">0.4</text><text transform="translate(103.9,739.01) rotate(-90)" text-anchor="middle">0.8</text><text transform="translate(139.76,871.45) rotate(-90)" text-anchor="end">10</text><text transform="translate(153.12,871.45) rotate(-90)" text-anchor="end">15</text><text transform="translate(166.48,871.45) rotate(-90)" text-anchor="end">20</text><text transform="translate(179.84,871.45) rotate(-90)" text-anchor="end">25</text><text transform="translate(193.2,871.45) rotate(-90)" text-anchor="end">30</text><text transform="translate(206.56,871.45) rotate(-90)" text-anchor="end">50</text><text transform="translate(219.92,871.45) rotate(-90)" text-anchor="end">100</text><text transform="translate(233.28,871.45) rotate(-90)" text-anchor="end">200</text><text transform="translate(246.64,871.45) rotate(-90)" text-anchor="end">500</text><text transform="translate(281.7,849.65) rotate(-90)" text-anchor="middle">0.0</text><text transform="translate(281.7,794.33) rotate(-90)" text-anchor="middle">0.4</text><text transform="translate(281.7,739.01) rotate(-90)" text-anchor="middle">0.8</text><text transform="translate(317.56,871.45) rotate(-90)" text-anchor="end">10</text><text transform="translate(330.92,871.45) rotate(-90)" text-anchor="end">15</text><text transform="translate(344.28,871.45) rotate(-90)" text-anchor="end">20</text><text transform="translate(357.64,871.45) rotate(-90)" text-anchor="end">25</text><text transform="translate(371,871.45) rotate(-90)" text-anchor="end">30</text><text transform="translate(384.36,871.45) rotate(-90)" text-anchor="end">50</text><text transform="translate(397.72,871.45) rotate(-90)" text-anchor="end">100</text><text transform="translate(411.08,871.45) rotate(-90)" text-anchor="end">200</text><text transform="translate(424.44,871.45) rotate(-90)" text-anchor="end">500</text><text transform="translate(459.5,849.65) rotate(-90)" text-anchor="middle">0.0</text><text transform="translate(459.5,794.33) rotate(-90)" text-anchor="middle">0.4</text><text transform="translate(459.5,739.01) rotate(-90)" text-anchor="middle">0.8</text><text transform="translate(495.36,871.45) rotate(-90)" text-anchor="end">10</text><text transform="translate(508.72,871.45) rotate(-90)" text-anchor="end">15</text><text transform="translate(522.08,871.45) rotate(-90)" text-anchor="end">20</text><text transform="translate(535.44,871.45) rotate(-90)" text-anchor="end">25</text><text transform="translate(548.8,871.45) rotate(-90)" text-anchor="end">30</text><text transform="translate(562.16,871.45) rotate(-90)" text-anchor="end">50</text><text transform="translate(575.52,871.45) rotate(-90)" text-anchor="end">100</text><text transform="translate(588.88,871.45) rotate(-90)" text-anchor="end">200</text><text transform="translate(602.24,871.45) rotate(-90)" text-anchor="end">500</text><text transform="translate(637.3,849.65) rotate(-90)" text-anchor="middle">0.0</text><text transform="translate(637.3,794.33) rotate(-90)" text-anchor="middle">0.4</text><text transform="translate(637.3,739.01) rotate(-90)" text-anchor="middle">0.8</text><text transform="translate(673.16,871.45) rotate(-90)" text-anchor="end">10</text><text transform="translate(686.52,871.45) rotate(-90)" text-anchor="end">15</text><text transform="translate(699.88,871.45) rotate(-90)" text-anchor="end">20</text><text transform="translate(713.24,871.45) rotate(-90)" text-anchor="end">25</text><text transform="translate(726.6,871.45) rotate(-90)" text-anchor="end">30</text><text transform="translate(739.96,871.45) rotate(-90)" text-anchor="end">50</text><text transform="translate(753.32,871.45) rotate(-90)" text-anchor="end">100</text><text transform="translate(766.68,871.45) rotate(-90)" text-anchor="end">200</text><text transform="translate(780.04,871.45) rotate(-90)" text-anchor="end">500</text><text transform="translate(815.1,849.65) rotate(-90)" text-anchor="middle">0.0</text><text transform="translate(815.1,794.33) rotate(-90)" text-anchor="middle">0.4</text><text transform="translate(815.1,739.01) rotate(-90)" text-anchor="middle">0.8</text><text transform="translate(850.96,871.45) rotate(-90)" text-anchor="end">10</text><text transform="translate(864.32,871.45) rotate(-90)" text-anchor="end">15</text><text transform="translate(877.68,871.45) rotate(-90)" text-anchor="end">20</text><text transform="translate(891.04,871.45) rotate(-90)" text-anchor="end">25</text><text transform="translate(904.4,871.45) rotate(-90)" text-anchor="end">30</text><text transform="translate(917.76,871.45) rotate(-90)" text-anchor="end">50</text><text transform="translate(931.12,871.45) rotate(-90)" text-anchor="end">100</text><text transform="translate(944.48,871.45) rotate(-90)" text-anchor="end">200</text><text transform="translate(957.84,871.45) rotate(-90)" text-anchor="end">500</text><text transform="translate(992.9,849.65) rotate(-90)" text-anchor="middle">0.0</text><text transform="translate(992.9,794.33) rotate(-90)" text-anchor="middle">0.4</text><text transform="translate(992.9,739.01) rotate(-90)" text-anchor="middle">0.8</text><text transform="translate(1028.76,871.45) rotate(-90)" text-anchor="end">10</text><text transform="translate(1042.12,871.45) rotate(-90)" text-anchor="end">15</text><text transform="translate(1055.48,871.45) rotate(-90)" text-anchor="end">20</text><text transform="translate(1068.84,871.45) rotate(-90)" text-anchor="end">25</text><text transform="translate(1082.2,871.45) rotate(-90)" text-anchor="end">30</text><text transform="translate(1095.56,871.45) rotate(-90)" text-anchor="end">50</text><text transform="translate(1108.92,871.45) rotate(-90)" text-anchor="end">100</text><text transform="translate(1122.28,871.45) rotate(-90)" text-anchor="end">200</text><text transform="translate(1135.64,871.45) rotate(-90)" text-anchor="end">500</text><text transform="translate(103.9,1061.8) rotate(-90)" text-anchor="middle">0.0</text><text transform="translate(103.9,1006.48) rotate(-90)" text-anchor="middle">0.4</text><text transform="translate(103.9,951.16) rotate(-90)" text-anchor="middle">0.8</text><text transform="translate(139.76,1083.6) rotate(-90)" text-anchor="end">10</text><text transform="translate(153.12,1083.6) rotate(-90)" text-anchor="end">15</text><text transform="translate(166.48,1083.6) rotate(-90)" text-anchor="end">20</text><text transform="translate(179.84,1083.6) rotate(-90)" text-anchor="end">25</text><text transform="translate(193.2,1083.6) rotate(-90)" text-anchor="end">30</text><text transform="translate(206.56,1083.6) rotate(-90)" text-anchor="end">50</text><text transform="translate(219.92,1083.6) rotate(-90)" text-anchor="end">100</text><text transform="translate(233.28,1083.6) rotate(-90)" text-anchor="end">200</text><text transform="translate(246.64,1083.6) rotate(-90)" text-anchor="end">500</text><text transform="translate(281.7,1061.8) rotate(-90)" text-anchor="middle">0.0</text><text transform="translate(281.7,1006.48) rotate(-90)" text-anchor="middle">0.4</text><text transform="translate(281.7,951.16) rotate(-90)" text-anchor="middle">0.8</text><text transform="translate(317.56,1083.6) rotate(-90)" text-anchor="end">10</text><text transform="translate(330.92,1083.6) rotate(-90)" text-anchor="end">15</text><text transform="translate(344.28,1083.6) rotate(-90)" text-anchor="end">20</text><text transform="translate(357.64,1083.6) rotate(-90)" text-anchor="end">25</text><text transform="translate(371,1083.6) rotate(-90)" text-anchor="end">30</text><text transform="translate(384.36,1083.6) rotate(-90)" text-anchor="end">50</text><text transform="translate(397.72,1083.6) rotate(-90)" text-anchor="end">100</text><text transform="translate(411.08,1083.6) rotate(-90)" text-anchor="end">200</text><text transform="translate(424.44,1083.6) rotate(-90)" text-anchor="end">500</text><text transform="translate(459.5,1061.8) rotate(-90)" text-anchor="middle">0.0</text><text transform="translate(459.5,1006.48) rotate(-90)" text-anchor="middle">0.4</text><text transform="translate(459.5,951.16) rotate(-90)" text-anchor="middle">0.8</text><text transform="translate(495.36,1083.6) rotate(-90)" text-anchor="end">10</text><text transform="translate(508.72,1083.6) rotate(-90)" text-anchor="end">15</text><text transform="translate(522.08,1083.6) rotate(-90)" text-anchor="end">20</text><text transform="translate(535.44,1083.6) rotate(-90)" text-anchor="end">25</text><text transform="translate(548.8,1083.6) rotate(-90)" text-anchor="end">30</text><text transform="translate(562.16,1083.6) rotate(-90)" text-anchor="end">50</text><text transform="translate(575.52,1083.6) rotate(-90)" text-anchor="end">100</text><text transform="translate(588.88,1083.6) rotate(-90)" text-anchor="end">200</text><text transform="translate(602.24,1083.6) rotate(-90)" text-anchor="end">500</text><text transform="translate(637.3,1061.8) rotate(-90)" text-anchor="middle">0.0</text><text transform="translate(637.3,1006.48) rotate(-90)" text-anchor="middle">0.4</text><text transform="translate(637.3,951.16) rotate(-90)" text-anchor="middle">0.8</text><text transform="translate(673.16,1083.6) rotate(-90)" text-anchor="end">10</text><text transform="translate(686.52,1083.6) rotate(-90)" text-anchor="end">15</text><text transform="translate(699.88,1083.6) rotate(-90)" text-anchor="end">20</text><text transform="translate(713.24,1083.6) rotate(-90)" text-anchor="end">25</text><text transform="translate(726.6,1083.6) rotate(-90)" text-anchor="end">30</text><text transform="translate(739.96,1083.6) rotate(-90)" text-anchor="end">50</text><text transform="translate(753.32,1083.6) rotate(-90)" text-anchor="end">100</text><text transform="translate(766.68,1083.6) rotate(-90)" text-anchor="end">200</text><text transform="translate(780.04,1083.6) rotate(-90)" text-anchor="end">500</text><text transform="translate(815.1,1061.8) rotate(-90)" text-anchor="middle">0.0</text><text transform="translate(815.1,1006.48) rotate(-90)" text-anchor="middle">0.4</text><text transform="translate(815.1,951.16) rotate(-90)" text-anchor="middle">0.8</text><text transform="translate(850.96,1083.6) rotate(-90)" text-anchor="end">10</text><text transform="translate(864.32,1083.6) rotate(-90)" text-anchor="end">15</text><text transform="translate(877.68,1083.6) rotate(-90)" text-anchor="end">20</text><text transform="translate(891.04,1083.6) rotate(-90)" text-anchor="end">25</text><text transform="translate(904.4,1083.6) rotate(-90)" text-anchor="end">30</text><text transform="translate(917.76,1083.6) rotate(-90)" text-anchor="end">50</text><text transform="translate(931.12,1083.6) rotate(-90)" text-anchor="end">100</text><text transform="translate(944.48,1083.6) rotate(-90)" text-anchor="end">200</text><text transform="translate(957.84,1083.6) rotate(-90)" text-anchor="end">500</text><text transform="translate(992.9,1061.8) rotate(-90)" text-anchor="middle">0.0</text><text transform="translate(992.9,1006.48) rotate(-90)" text-anchor="middle">0.4</text><text transform="translate(992.9,951.16) rotate(-90)" text-anchor="middle">0.8</text><text transform="translate(1028.76,1083.6) rotate(-90)" text-anchor="end">10</text><text transform="translate(1042.12,1083.6) rotate(-90)" text-anchor="end">15</text><text transform="translate(1055.48,1083.6) rotate(-90)" text-anchor="end">20</text><text transform="translate(1068.84,1083.6) rotate(-90)" text-anchor="end">25</text><text transform="translate(1082.2,1083.6) rotate(-90)" text-anchor="end">30</text><text transform="translate(1095.56,1083.6) rotate(-90)" text-anchor="end">50</text><text transform="translate(1108.92,1083.6) rotate(-90)" text-anchor="end">100</text><text transform="translate(1122.28,1083.6) rotate(-90)" text-anchor="end">200</text><text transform="translate(1135.64,1083.6) rotate(-90)" text-anchor="end">500</text><text transform="translate(103.9,1274.3) rotate(-90)" text-anchor="middle">0.0</text><text transform="translate(103.9,1218.98) rotate(-90)" text-anchor="middle">0.4</text><text transform="translate(103.9,1163.66) rotate(-90)" text-anchor="middle">0.8</text><text transform="translate(139.76,1296.1) rotate(-90)" text-anchor="end">10</text><text transform="translate(153.12,1296.1) rotate(-90)" text-anchor="end">15</text><text transform="translate(166.48,1296.1) rotate(-90)" text-anchor="end">20</text><text transform="translate(179.84,1296.1) rotate(-90)" text-anchor="end">25</text><text transform="translate(193.2,1296.1) rotate(-90)" text-anchor="end">30</text><text transform="translate(206.56,1296.1) rotate(-90)" text-anchor="end">50</text><text transform="translate(219.92,1296.1) rotate(-90)" text-anchor="end">100</text><text transform="translate(233.28,1296.1) rotate(-90)" text-anchor="end">200</text><text transform="translate(246.64,1296.1) rotate(-90)" text-anchor="end">500</text><text transform="translate(281.7,1274.3) rotate(-90)" text-anchor="middle">0.0</text><text transform="translate(281.7,1218.98) rotate(-90)" text-anchor="middle">0.4</text><text transform="translate(281.7,1163.66) rotate(-90)" text-anchor="middle">0.8</text><text transform="translate(317.56,1296.1) rotate(-90)" text-anchor="end">10</text><text transform="translate(330.92,1296.1) rotate(-90)" text-anchor="end">15</text><text transform="translate(344.28,1296.1) rotate(-90)" text-anchor="end">20</text><text transform="translate(357.64,1296.1) rotate(-90)" text-anchor="end">25</text><text transform="translate(371,1296.1) rotate(-90)" text-anchor="end">30</text><text transform="translate(384.36,1296.1) rotate(-90)" text-anchor="end">50</text><text transform="translate(397.72,1296.1) rotate(-90)" text-anchor="end">100</text><text transform="translate(411.08,1296.1) rotate(-90)" text-anchor="end">200</text><text transform="translate(424.44,1296.1) rotate(-90)" text-anchor="end">500</text><text transform="translate(459.5,1274.3) rotate(-90)" text-anchor="middle">0.0</text><text transform="translate(459.5,1218.98) rotate(-90)" text-anchor="middle">0.4</text><text transform="translate(459.5,1163.66) rotate(-90)" text-anchor="middle">0.8</text><text transform="translate(495.36,1296.1) rotate(-90)" text-anchor="end">10</text><text transform="translate(508.72,1296.1) rotate(-90)" text-anchor="end">15</text><text transform="translate(522.08,1296.1) rotate(-90)" text-anchor="end">20</text><text transform="translate(535.44,1296.1) rotate(-90)" text-anchor="end">25</text><text transform="translate(548.8,1296.1) rotate(-90)" text-anchor="end">30</text><text transform="translate(562.16,1296.1) rotate(-90)" text-anchor="end">50</text><text transform="translate(575.52,1296.1) rotate(-90)" text-anchor="end">100</text><text transform="translate(588.88,1296.1) rotate(-90)" text-anchor="end">200</text><text transform="translate(602.24,1296.1) rotate(-90)" text-anchor="end">500</text><text transform="translate(637.3,1274.3) rotate(-90)" text-anchor="middle">0.0</text><text transform="translate(637.3,1218.98) rotate(-90)" text-anchor="middle">0.4</text><text transform="translate(637.3,1163.66) rotate(-90)" text-anchor="middle">0.8</text><text transform="translate(673.16,1296.1) rotate(-90)" text-anchor="end">10</text><text transform="translate(686.52,1296.1) rotate(-90)" text-anchor="end">15</text><text transform="translate(699.88,1296.1) rotate(-90)" text-anchor="end">20</text><text transform="translate(713.24,1296.1) rotate(-90)" text-anchor="end">25</text><text transform="translate(726.6,1296.1) rotate(-90)" text-anchor="end">30</text><text transform="translate(739.96,1296.1) rotate(-90)" text-anchor="end">50</text><text transform="translate(753.32,1296.1) rotate(-90)" text-anchor="end">100</text><text transform="translate(766.68,1296.1) rotate(-90)" text-anchor="end">200</text><text transform="translate(780.04,1296.1) rotate(-90)" text-anchor="end">500</text><text transform="translate(815.1,1274.3) rotate(-90)" text-anchor="middle">0.0</text><text transform="translate(815.1,1218.98) rotate(-90)" text-anchor="middle">0.4</text><text transform="translate(815.1,1163.66) rotate(-90)" text-anchor="middle">0.8</text><text transform="translate(850.96,1296.1) rotate(-90)" text-anchor="end">10</text><text transform="translate(864.32,1296.1) rotate(-90)" text-anchor="end">15</text><text transform="translate(877.68,1296.1) rotate(-90)" text-anchor="end">20</text><text transform="translate(891.04,1296.1) rotate(-90)" text-anchor="end">25</text><text transform="translate(904.4,1296.1) rotate(-90)" text-anchor="end">30</text><text transform="translate(917.76,1296.1) rotate(-90)" text-anchor="end">50</text><text transform="translate(931.12,1296.1) rotate(-90)" text-anchor="end">100</text><text transform="translate(944.48,1296.1) rotate(-90)" text-anchor="end">200</text><text transform="translate(957.84,1296.1) rotate(-90)" text-anchor="end">500</text><text transform="translate(992.9,1274.3) rotate(-90)" text-anchor="middle">0.0</text><text transform="translate(992.9,1218.98) rotate(-90)" text-anchor="middle">0.4</text><text transform="translate(992.9,1163.66) rotate(-90)" text-anchor="middle">0.8</text><text transform="translate(1028.76,1296.1) rotate(-90)" text-anchor="end">10</text><text transform="translate(1042.12,1296.1) rotate(-90)" text-anchor="end">15</text><text transform="translate(1055.48,1296.1) rotate(-90)" text-anchor="end">20</text><text transform="translate(1068.84,1296.1) rotate(-90)" text-anchor="end">25</text><text transform="translate(1082.2,1296.1) rotate(-90)" text-anchor="end">30</text><text transform="translate(1095.56,1296.1) rotate(-90)" text-anchor="end">50</text><text transform="translate(1108.92,1296.1) rotate(-90)" text-anchor="end">100</text><text transform="translate(1122.28,1296.1) rotate(-90)" text-anchor="end">200</text><text transform="translate(1135.64,1296.1) rotate(-90)" text-anchor="end">500</text><text transform="translate(103.4,1486.3) rotate(-90)" text-anchor="middle">0.0</text><text transform="translate(103.4,1430.98) rotate(-90)" text-anchor="middle">0.4</text><text transform="translate(103.4,1375.66) rotate(-90)" text-anchor="middle">0.8</text><text transform="translate(139.26,1508.1) rotate(-90)" text-anchor="end">10</text><text transform="translate(152.62,1508.1) rotate(-90)" text-anchor="end">15</text><text transform="translate(165.98,1508.1) rotate(-90)" text-anchor="end">20</text><text transform="translate(179.34,1508.1) rotate(-90)" text-anchor="end">25</text><text transform="translate(192.7,1508.1) rotate(-90)" text-anchor="end">30</text><text transform="translate(206.06,1508.1) rotate(-90)" text-anchor="end">50</text><text transform="translate(219.42,1508.1) rotate(-90)" text-anchor="end">100</text><text transform="translate(232.78,1508.1) rotate(-90)" text-anchor="end">200</text><text transform="translate(246.14,1508.1) rotate(-90)" text-anchor="end">500</text><text transform="translate(281.2,1486.3) rotate(-90)" text-anchor="middle">0.0</text><text transform="translate(281.2,1430.98) rotate(-90)" text-anchor="middle">0.4</text><text transform="translate(281.2,1375.66) rotate(-90)" text-anchor="middle">0.8</text><text transform="translate(317.06,1508.1) rotate(-90)" text-anchor="end">10</text><text transform="translate(330.42,1508.1) rotate(-90)" text-anchor="end">15</text><text transform="translate(343.78,1508.1) rotate(-90)" text-anchor="end">20</text><text transform="translate(357.14,1508.1) rotate(-90)" text-anchor="end">25</text><text transform="translate(370.5,1508.1) rotate(-90)" text-anchor="end">30</text><text transform="translate(383.86,1508.1) rotate(-90)" text-anchor="end">50</text><text transform="translate(397.22,1508.1) rotate(-90)" text-anchor="end">100</text><text transform="translate(410.58,1508.1) rotate(-90)" text-anchor="end">200</text><text transform="translate(423.94,1508.1) rotate(-90)" text-anchor="end">500</text><text transform="translate(459,1486.3) rotate(-90)" text-anchor="middle">0.0</text><text transform="translate(459,1430.98) rotate(-90)" text-anchor="middle">0.4</text><text transform="translate(459,1375.66) rotate(-90)" text-anchor="middle">0.8</text><text transform="translate(494.86,1508.1) rotate(-90)" text-anchor="end">10</text><text transform="translate(508.22,1508.1) rotate(-90)" text-anchor="end">15</text><text transform="translate(521.58,1508.1) rotate(-90)" text-anchor="end">20</text><text transform="translate(534.94,1508.1) rotate(-90)" text-anchor="end">25</text><text transform="translate(548.3,1508.1) rotate(-90)" text-anchor="end">30</text><text transform="translate(561.66,1508.1) rotate(-90)" text-anchor="end">50</text><text transform="translate(575.02,1508.1) rotate(-90)" text-anchor="end">100</text><text transform="translate(588.38,1508.1) rotate(-90)" text-anchor="end">200</text><text transform="translate(601.74,1508.1) rotate(-90)" text-anchor="end">500</text><text transform="translate(636.8,1486.3) rotate(-90)" text-anchor="middle">0.0</text><text transform="translate(636.8,1430.98) rotate(-90)" text-anchor="middle">0.4</text><text transform="translate(636.8,1375.66) rotate(-90)" text-anchor="middle">0.8</text><text transform="translate(672.66,1508.1) rotate(-90)" text-anchor="end">10</text><text transform="translate(686.02,1508.1) rotate(-90)" text-anchor="end">15</text><text transform="translate(699.38,1508.1) rotate(-90)" text-anchor="end">20</text><text transform="translate(712.74,1508.1) rotate(-90)" text-anchor="end">25</text><text transform="translate(726.1,1508.1) rotate(-90)" text-anchor="end">30</text><text transform="translate(739.46,1508.1) rotate(-90)" text-anchor="end">50</text><text transform="translate(752.82,1508.1) rotate(-90)" text-anchor="end">100</text><text transform="translate(766.18,1508.1) rotate(-90)" text-anchor="end">200</text><text transform="translate(779.54,1508.1) rotate(-90)" text-anchor="end">500</text><text transform="translate(814.6,1486.3) rotate(-90)" text-anchor="middle">0.0</text><text transform="translate(814.6,1430.98) rotate(-90)" text-anchor="middle">0.4</text><text transform="translate(814.6,1375.66) rotate(-90)" text-anchor="middle">0.8</text><text transform="translate(850.46,1508.1) rotate(-90)" text-anchor="end">10</text><text transform="translate(863.82,1508.1) rotate(-90)" text-anchor="end">15</text><text transform="translate(877.18,1508.1) rotate(-90)" text-anchor="end">20</text><text transform="translate(890.54,1508.1) rotate(-90)" text-anchor="end">25</text><text transform="translate(903.9,1508.1) rotate(-90)" text-anchor="end">30</text><text transform="translate(917.26,1508.1) rotate(-90)" text-anchor="end">50</text><text transform="translate(930.62,1508.1) rotate(-90)" text-anchor="end">100</text><text transform="translate(943.98,1508.1) rotate(-90)" text-anchor="end">200</text><text transform="translate(957.34,1508.1) rotate(-90)" text-anchor="end">500</text><text transform="translate(992.4,1486.3) rotate(-90)" text-anchor="middle">0.0</text><text transform="translate(992.4,1430.98) rotate(-90)" text-anchor="middle">0.4</text><text transform="translate(992.4,1375.66) rotate(-90)" text-anchor="middle">0.8</text><text transform="translate(1028.26,1508.1) rotate(-90)" text-anchor="end">10</text><text transform="translate(1041.62,1508.1) rotate(-90)" text-anchor="end">15</text><text transform="translate(1054.98,1508.1) rotate(-90)" text-anchor="end">20</text><text transform="translate(1068.34,1508.1) rotate(-90)" text-anchor="end">25</text><text transform="translate(1081.7,1508.1) rotate(-90)" text-anchor="end">30</text><text transform="translate(1095.06,1508.1) rotate(-90)" text-anchor="end">50</text><text transform="translate(1108.42,1508.1) rotate(-90)" text-anchor="end">100</text><text transform="translate(1121.78,1508.1) rotate(-90)" text-anchor="end">200</text><text transform="translate(1135.14,1508.1) rotate(-90)" text-anchor="end">500</text><text transform="translate(103.4,1700.8) rotate(-90)" text-anchor="middle">0.0</text><text transform="translate(103.4,1645.48) rotate(-90)" text-anchor="middle">0.4</text><text transform="translate(103.4,1590.16) rotate(-90)" text-anchor="middle">0.8</text><text transform="translate(139.26,1722.6) rotate(-90)" text-anchor="end">10</text><text transform="translate(152.62,1722.6) rotate(-90)" text-anchor="end">15</text><text transform="translate(165.98,1722.6) rotate(-90)" text-anchor="end">20</text><text transform="translate(179.34,1722.6) rotate(-90)" text-anchor="end">25</text><text transform="translate(192.7,1722.6) rotate(-90)" text-anchor="end">30</text><text transform="translate(206.06,1722.6) rotate(-90)" text-anchor="end">50</text><text transform="translate(219.42,1722.6) rotate(-90)" text-anchor="end">100</text><text transform="translate(232.78,1722.6) rotate(-90)" text-anchor="end">200</text><text transform="translate(246.14,1722.6) rotate(-90)" text-anchor="end">500</text><text transform="translate(281.2,1700.8) rotate(-90)" text-anchor="middle">0.0</text><text transform="translate(281.2,1645.48) rotate(-90)" text-anchor="middle">0.4</text><text transform="translate(281.2,1590.16) rotate(-90)" text-anchor="middle">0.8</text><text transform="translate(317.06,1722.6) rotate(-90)" text-anchor="end">10</text><text transform="translate(330.42,1722.6) rotate(-90)" text-anchor="end">15</text><text transform="translate(343.78,1722.6) rotate(-90)" text-anchor="end">20</text><text transform="translate(357.14,1722.6) rotate(-90)" text-anchor="end">25</text><text transform="translate(370.5,1722.6) rotate(-90)" text-anchor="end">30</text><text transform="translate(383.86,1722.6) rotate(-90)" text-anchor="end">50</text><text transform="translate(397.22,1722.6) rotate(-90)" text-anchor="end">100</text><text transform="translate(410.58,1722.6) rotate(-90)" text-anchor="end">200</text><text transform="translate(423.94,1722.6) rotate(-90)" text-anchor="end">500</text><text transform="translate(459,1700.8) rotate(-90)" text-anchor="middle">0.0</text><text transform="translate(459,1645.48) rotate(-90)" text-anchor="middle">0.4</text><text transform="translate(459,1590.16) rotate(-90)" text-anchor="middle">0.8</text><text transform="translate(494.86,1722.6) rotate(-90)" text-anchor="end">10</text><text transform="translate(508.22,1722.6) rotate(-90)" text-anchor="end">15</text><text transform="translate(521.58,1722.6) rotate(-90)" text-anchor="end">20</text><text transform="translate(534.94,1722.6) rotate(-90)" text-anchor="end">25</text><text transform="translate(548.3,1722.6) rotate(-90)" text-anchor="end">30</text><text transform="translate(561.66,1722.6) rotate(-90)" text-anchor="end">50</text><text transform="translate(575.02,1722.6) rotate(-90)" text-anchor="end">100</text><text transform="translate(588.38,1722.6) rotate(-90)" text-anchor="end">200</text><text transform="translate(601.74,1722.6) rotate(-90)" text-anchor="end">500</text><text transform="translate(636.8,1700.8) rotate(-90)" text-anchor="middle">0.0</text><text transform="translate(636.8,1645.48) rotate(-90)" text-anchor="middle">0.4</text><text transform="translate(636.8,1590.16) rotate(-90)" text-anchor="middle">0.8</text><text transform="translate(672.66,1722.6) rotate(-90)" text-anchor="end">10</text><text transform="translate(686.02,1722.6) rotate(-90)" text-anchor="end">15</text><text transform="translate(699.38,1722.6) rotate(-90)" text-anchor="end">20</text><text transform="translate(712.74,1722.6) rotate(-90)" text-anchor="end">25</text><text transform="translate(726.1,1722.6) rotate(-90)" text-anchor="end">30</text><text transform="translate(739.46,1722.6) rotate(-90)" text-anchor="end">50</text><text transform="translate(752.82,1722.6) rotate(-90)" text-anchor="end">100</text><text transform="translate(766.18,1722.6) rotate(-90)" text-anchor="end">200</text><text transform="translate(779.54,1722.6) rotate(-90)" text-anchor="end">500</text><text transform="translate(814.6,1700.8) rotate(-90)" text-anchor="middle">0.0</text><text transform="translate(814.6,1645.48) rotate(-90)" text-anchor="middle">0.4</text><text transform="translate(814.6,1590.16) rotate(-90)" text-anchor="middle">0.8</text><text transform="translate(850.46,1722.6) rotate(-90)" text-anchor="end">10</text><text transform="translate(863.82,1722.6) rotate(-90)" text-anchor="end">15</text><text transform="translate(877.18,1722.6) rotate(-90)" text-anchor="end">20</text><text transform="translate(890.54,1722.6) rotate(-90)" text-anchor="end">25</text><text transform="translate(903.9,1722.6) rotate(-90)" text-anchor="end">30</text><text transform="translate(917.26,1722.6) rotate(-90)" text-anchor="end">50</text><text transform="translate(930.62,1722.6) rotate(-90)" text-anchor="end">100</text><text transform="translate(943.98,1722.6) rotate(-90)" text-anchor="end">200</text><text transform="translate(957.34,1722.6) rotate(-90)" text-anchor="end">500</text><text transform="translate(992.4,1700.8) rotate(-90)" text-anchor="middle">0.0</text><text transform="translate(992.4,1645.48) rotate(-90)" text-anchor="middle">0.4</text><text transform="translate(992.4,1590.16) rotate(-90)" text-anchor="middle">0.8</text><text transform="translate(1028.26,1722.6) rotate(-90)" text-anchor="end">10</text><text transform="translate(1041.62,1722.6) rotate(-90)" text-anchor="end">15</text><text transform="translate(1054.98,1722.6) rotate(-90)" text-anchor="end">20</text><text transform="translate(1068.34,1722.6) rotate(-90)" text-anchor="end">25</text><text transform="translate(1081.7,1722.6) rotate(-90)" text-anchor="end">30</text><text transform="translate(1095.06,1722.6) rotate(-90)" text-anchor="end">50</text><text transform="translate(1108.42,1722.6) rotate(-90)" text-anchor="end">100</text><text transform="translate(1121.78,1722.6) rotate(-90)" text-anchor="end">200</text><text transform="translate(1135.14,1722.6) rotate(-90)" text-anchor="end">500</text></g>
<g stroke="#000" stroke-width="1.1" stroke-linejoin="miter">
<path d="M131.05 156.41H137.95L134.5 162.41ZM134.5 194.51L137.95 200.51H131.05ZM144.41 152.95H151.31L147.86 158.95ZM147.86 197.83L151.31 203.83H144.41ZM159.07 173.69H165.97L162.52 179.69ZM161.22 199.77L164.67 205.77H157.77ZM171.13 175.35H178.03L174.58 181.35ZM175.88 197.83L179.33 203.83H172.43ZM184.49 178.67H191.39L187.94 184.67ZM187.94 197.83L191.39 203.83H184.49ZM197.85 192.5H204.75L201.3 198.5ZM207.81 198.04H214.71L211.26 204.04ZM222.77 198.04H229.67L226.22 204.04ZM235.23 166.5H242.13L238.68 172.5ZM245.68 197.83L249.13 203.83H242.23Z" fill="#ffb6c1"/>
<circle cx="134.5" cy="202.11" r="2.9" fill="#f4a0a0"/><circle cx="133.8" cy="206.95" r="2.9" fill="#ff0000"/><circle cx="135.2" cy="206.95" r="2.9" fill="#ff0000"/><circle cx="146.96" cy="206.95" r="2.9" fill="#ff0000"/><circle cx="148.76" cy="206.95" r="2.9" fill="#ff0000"/><circle cx="160.12" cy="206.95" r="2.9" fill="#8b0000"/><circle cx="162.32" cy="206.95" r="2.9" fill="#ff0000"/><circle cx="161.22" cy="206.95" r="2.9" fill="#8b0000"/><circle cx="173.18" cy="206.95" r="2.9" fill="#8b0000"/><circle cx="175.98" cy="206.95" r="2.9" fill="#8b0000"/><circle cx="174.58" cy="206.95" r="2.9" fill="#ff0000"/><circle cx="186.34" cy="206.95" r="2.9" fill="#8b0000"/><circle cx="189.54" cy="206.95" r="2.9" fill="#8b0000"/><circle cx="187.41" cy="206.95" r="2.9" fill="#ff0000"/><circle cx="188.47" cy="206.95" r="2.9" fill="#8b0000"/><circle cx="198.8" cy="206.95" r="2.9" fill="#8b0000"/><circle cx="203.8" cy="206.95" r="2.9" fill="#ff0000"/><circle cx="200.47" cy="206.95" r="2.9" fill="#8b0000"/><circle cx="202.13" cy="206.95" r="2.9" fill="#8b0000"/><circle cx="211.66" cy="206.95" r="2.9" fill="#8b0000"/><circle cx="217.66" cy="206.95" r="2.9" fill="#8b0000"/><circle cx="213.66" cy="206.95" r="2.9" fill="#ff0000"/><circle cx="215.66" cy="206.95" r="2.9" fill="#8b0000"/><circle cx="225.02" cy="206.95" r="2.9" fill="#8b0000"/><circle cx="231.02" cy="206.95" r="2.9" fill="#ff0000"/><circle cx="227.02" cy="206.95" r="2.9" fill="#8b0000"/><circle cx="229.02" cy="206.95" r="2.9" fill="#8b0000"/><circle cx="237.88" cy="206.95" r="2.9" fill="#8b0000"/><circle cx="244.88" cy="206.95" r="2.9" fill="#ff0000"/><circle cx="239.63" cy="206.95" r="2.9" fill="#8b0000"/><circle cx="243.13" cy="206.95" r="2.9" fill="#8b0000"/><circle cx="241.38" cy="206.95" r="2.9" fill="#ff0000"/>
<path d="M308.85 142.85H315.75L312.3 148.85ZM312.3 197.83L315.75 203.83H308.85ZM322.21 185.86H329.11L325.66 191.86ZM325.66 199.77L329.11 205.77H322.21ZM335.57 173.69H342.47L339.02 179.69ZM337.32 197.83L340.77 203.83H333.87ZM348.93 189.74H355.83L352.38 195.74ZM350.68 199.77L354.13 205.77H347.23ZM362.29 189.74H369.19L365.74 195.74ZM365.74 197.83L369.19 203.83H362.29ZM375.65 189.74H382.55L379.1 195.74ZM386.71 199.69H393.61L390.16 205.69ZM398.37 196.65H405.27L401.82 202.65ZM414.13 175.91H421.03L417.58 181.91ZM419.18 199.77L422.63 205.77H415.73Z" fill="#ffe4b5"/>
<circle cx="311.6" cy="206.95" r="2.9" fill="#ff9900"/><circle cx="313" cy="206.95" r="2.9" fill="#ff9900"/><circle cx="324.76" cy="206.95" r="2.9" fill="#ff9900"/><circle cx="326.56" cy="206.95" r="2.9" fill="#ff9900"/><circle cx="337.92" cy="206.95" r="2.9" fill="#ff9900"/><circle cx="340.12" cy="206.95" r="2.9" fill="#8b4a00"/><circle cx="350.98" cy="206.95" r="2.9" fill="#8b4a00"/><circle cx="353.78" cy="206.95" r="2.9" fill="#ff9900"/><circle cx="352.38" cy="206.95" r="2.9" fill="#8b4a00"/><circle cx="364.14" cy="206.95" r="2.9" fill="#8b4a00"/><circle cx="367.34" cy="206.95" r="2.9" fill="#ff9900"/><circle cx="365.74" cy="206.95" r="2.9" fill="#8b4a00"/><circle cx="376.6" cy="206.95" r="2.9" fill="#8b4a00"/><circle cx="381.6" cy="206.95" r="2.9" fill="#ff9900"/><circle cx="378.27" cy="206.95" r="2.9" fill="#8b4a00"/><circle cx="379.93" cy="206.95" r="2.9" fill="#8b4a00"/><circle cx="389.46" cy="206.95" r="2.9" fill="#8b4a00"/><circle cx="395.46" cy="206.95" r="2.9" fill="#8b4a00"/><circle cx="391.46" cy="206.95" r="2.9" fill="#ff9900"/><circle cx="393.46" cy="206.95" r="2.9" fill="#8b4a00"/><circle cx="402.82" cy="206.95" r="2.9" fill="#8b4a00"/><circle cx="408.82" cy="206.95" r="2.9" fill="#ff9900"/><circle cx="404.82" cy="206.95" r="2.9" fill="#8b4a00"/><circle cx="406.82" cy="206.95" r="2.9" fill="#ff9900"/><circle cx="415.68" cy="206.95" r="2.9" fill="#8b4a00"/><circle cx="422.68" cy="206.95" r="2.9" fill="#8b4a00"/><circle cx="417.43" cy="206.95" r="2.9" fill="#ff9900"/><circle cx="420.93" cy="206.95" r="2.9" fill="#8b4a00"/><circle cx="419.18" cy="206.95" r="2.9" fill="#ff9900"/>
<path d="M486.65 135.8H493.55L490.1 141.8ZM490.1 196.04L493.55 202.04H486.65ZM500.01 189.46H506.91L503.46 195.46ZM503.46 198.52L506.91 204.52H500.01ZM513.37 182.55H520.27L516.82 188.55ZM516.82 199.77L520.27 205.77H513.37ZM527.73 189.46H534.63L531.18 195.46ZM532.18 202.95L535.63 208.95H528.73ZM540.09 191.12H546.99L543.54 197.12ZM545.54 201.57L548.99 207.57H542.09ZM553.45 194.58H560.35L556.9 200.58ZM566.81 198.04H573.71L570.26 204.04ZM578.97 198.04H585.87L582.42 204.04ZM590.03 185.86H596.93L593.48 191.86ZM598.98 196.04L602.43 202.04H595.53Z" fill="#f4ffb4"/>
<circle cx="489.4" cy="206.95" r="2.9" fill="#ccff00"/><circle cx="490.8" cy="206.95" r="2.9" fill="#ccff00"/><circle cx="502.56" cy="206.95" r="2.9" fill="#ccff00"/><circle cx="504.36" cy="206.95" r="2.9" fill="#ccff00"/><circle cx="515.72" cy="206.95" r="2.9" fill="#ccff00"/><circle cx="517.92" cy="206.95" r="2.9" fill="#6e8800"/><circle cx="528.78" cy="206.95" r="2.9" fill="#6e8800"/><circle cx="531.58" cy="206.95" r="2.9" fill="#ccff00"/><circle cx="530.18" cy="206.95" r="2.9" fill="#6e8800"/><circle cx="541.94" cy="206.95" r="2.9" fill="#6e8800"/><circle cx="545.14" cy="206.95" r="2.9" fill="#ccff00"/><circle cx="543.54" cy="206.95" r="2.9" fill="#6e8800"/><circle cx="554.4" cy="206.95" r="2.9" fill="#6e8800"/><circle cx="559.4" cy="206.95" r="2.9" fill="#6e8800"/><circle cx="556.07" cy="206.95" r="2.9" fill="#ccff00"/><circle cx="557.73" cy="206.95" r="2.9" fill="#6e8800"/><circle cx="567.26" cy="206.95" r="2.9" fill="#6e8800"/><circle cx="573.26" cy="206.95" r="2.9" fill="#ccff00"/><circle cx="569.26" cy="206.95" r="2.9" fill="#6e8800"/><circle cx="571.26" cy="206.95" r="2.9" fill="#ccff00"/><circle cx="580.62" cy="206.95" r="2.9" fill="#eeffa8"/><circle cx="586.62" cy="206.95" r="2.9" fill="#ccff00"/><circle cx="582.62" cy="206.95" r="2.9" fill="#6e8800"/><circle cx="584.62" cy="206.95" r="2.9" fill="#ccff00"/><circle cx="593.48" cy="206.95" r="2.9" fill="#6e8800"/><circle cx="600.48" cy="206.95" r="2.9" fill="#6e8800"/><circle cx="595.23" cy="206.95" r="2.9" fill="#ccff00"/><circle cx="598.73" cy="206.95" r="2.9" fill="#6e8800"/><circle cx="596.98" cy="206.95" r="2.9" fill="#6e8800"/>
<path d="M664.45 168.72H671.35L667.9 174.72ZM667.9 199.77L671.35 205.77H664.45ZM677.81 172.03H684.71L681.26 178.03ZM681.26 199.77L684.71 205.77H677.81ZM691.17 185.86H698.07L694.62 191.86ZM694.62 201.57L698.07 207.57H691.17ZM705.53 184.21H712.43L708.98 190.21ZM718.89 185.86H725.79L722.34 191.86ZM731.25 198.04H738.15L734.7 204.04ZM743.11 201.49H750.01L746.56 207.49ZM755.47 201.49H762.37L758.92 207.49ZM773.33 185.86H780.23L776.78 191.86ZM778.78 199.77L782.23 205.77H775.33Z" fill="#b8ffff"/>
<circle cx="667.2" cy="206.95" r="2.9" fill="#00ffff"/><circle cx="668.6" cy="206.95" r="2.9" fill="#00ffff"/><circle cx="680.36" cy="206.95" r="2.9" fill="#00ffff"/><circle cx="682.16" cy="206.95" r="2.9" fill="#00ffff"/><circle cx="693.52" cy="206.95" r="2.9" fill="#00ffff"/><circle cx="695.72" cy="206.95" r="2.9" fill="#007f7f"/><circle cx="706.58" cy="206.95" r="2.9" fill="#007f7f"/><circle cx="709.38" cy="206.95" r="2.9" fill="#00ffff"/><circle cx="707.98" cy="206.95" r="2.9" fill="#007f7f"/><circle cx="719.74" cy="206.95" r="2.9" fill="#007f7f"/><circle cx="722.94" cy="206.95" r="2.9" fill="#00ffff"/><circle cx="721.34" cy="206.95" r="2.9" fill="#007f7f"/><circle cx="732.2" cy="206.95" r="2.9" fill="#007f7f"/><circle cx="737.2" cy="206.95" r="2.9" fill="#00ffff"/><circle cx="734.7" cy="206.95" r="2.9" fill="#007f7f"/><circle cx="745.06" cy="206.95" r="2.9" fill="#007f7f"/><circle cx="751.06" cy="206.95" r="2.9" fill="#00ffff"/><circle cx="747.06" cy="206.95" r="2.9" fill="#007f7f"/><circle cx="749.06" cy="206.95" r="2.9" fill="#00ffff"/><circle cx="758.42" cy="206.95" r="2.9" fill="#00ffff"/><circle cx="764.42" cy="206.95" r="2.9" fill="#007f7f"/><circle cx="760.42" cy="206.95" r="2.9" fill="#007f7f"/><circle cx="762.42" cy="206.95" r="2.9" fill="#00ffff"/><circle cx="771.28" cy="206.95" r="2.9" fill="#007f7f"/><circle cx="778.28" cy="206.95" r="2.9" fill="#00ffff"/><circle cx="773.61" cy="206.95" r="2.9" fill="#007f7f"/><circle cx="775.95" cy="206.95" r="2.9" fill="#00ffff"/>
<path d="M842.25 168.72H849.15L845.7 174.72ZM845.7 194.51L849.15 200.51H842.25ZM856.61 147.83H863.51L860.06 153.83ZM860.06 197.83L863.51 203.83H856.61ZM868.97 192.5H875.87L872.42 198.5ZM874.42 199.77L877.87 205.77H870.97ZM882.33 182.55H889.23L885.78 188.55ZM885.78 199.77L889.23 205.77H882.33ZM896.69 182.55H903.59L900.14 188.55ZM900.14 199.77L903.59 205.77H896.69ZM909.05 191.12H915.95L912.5 197.12ZM922.41 198.04H929.31L925.86 204.04ZM934.77 192.5H941.67L938.22 198.5ZM942.22 201.57L945.67 207.57H938.77ZM950.63 172.03H957.53L954.08 178.03ZM954.08 196.04L957.53 202.04H950.63Z" fill="#b8d4ff"/>
<circle cx="845" cy="206.95" r="2.9" fill="#0a6eff"/><circle cx="846.4" cy="206.95" r="2.9" fill="#0a6eff"/><circle cx="858.16" cy="206.95" r="2.9" fill="#0a6eff"/><circle cx="859.96" cy="206.95" r="2.9" fill="#0a6eff"/><circle cx="871.32" cy="206.95" r="2.9" fill="#0a6eff"/><circle cx="873.52" cy="206.95" r="2.9" fill="#003090"/><circle cx="884.38" cy="206.95" r="2.9" fill="#003090"/><circle cx="887.18" cy="206.95" r="2.9" fill="#0a6eff"/><circle cx="885.78" cy="206.95" r="2.9" fill="#003090"/><circle cx="897.54" cy="206.95" r="2.9" fill="#003090"/><circle cx="900.74" cy="206.95" r="2.9" fill="#0a6eff"/><circle cx="899.14" cy="206.95" r="2.9" fill="#003090"/><circle cx="910" cy="206.95" r="2.9" fill="#003090"/><circle cx="915" cy="206.95" r="2.9" fill="#0a6eff"/><circle cx="911.67" cy="206.95" r="2.9" fill="#003090"/><circle cx="913.33" cy="206.95" r="2.9" fill="#003090"/><circle cx="922.86" cy="206.95" r="2.9" fill="#003090"/><circle cx="928.86" cy="206.95" r="2.9" fill="#0a6eff"/><circle cx="924.86" cy="206.95" r="2.9" fill="#003090"/><circle cx="926.86" cy="206.95" r="2.9" fill="#0a6eff"/><circle cx="936.22" cy="206.95" r="2.9" fill="#003090"/><circle cx="942.22" cy="206.95" r="2.9" fill="#0a6eff"/><circle cx="938.22" cy="206.95" r="2.9" fill="#003090"/><circle cx="940.22" cy="206.95" r="2.9" fill="#003090"/><circle cx="949.08" cy="206.95" r="2.9" fill="#003090"/><circle cx="956.08" cy="206.95" r="2.9" fill="#003090"/><circle cx="950.83" cy="206.95" r="2.9" fill="#003090"/><circle cx="954.33" cy="206.95" r="2.9" fill="#0a6eff"/><circle cx="952.58" cy="206.95" r="2.9" fill="#a8c8ff"/>
<path d="M1020.05 168.72H1026.95L1023.5 174.72ZM1023.5 201.15L1026.95 207.15H1020.05ZM1033.41 182.55H1040.31L1036.86 188.55ZM1036.86 201.15L1040.31 207.15H1033.41ZM1046.77 170.38H1053.67L1050.22 176.38ZM1050.22 201.15L1053.67 207.15H1046.77ZM1059.43 185.86H1066.33L1062.88 191.86ZM1063.58 201.15L1067.03 207.15H1060.13ZM1073.49 191.12H1080.39L1076.94 197.12ZM1076.94 201.15L1080.39 207.15H1073.49ZM1085.85 201.49H1092.75L1089.3 207.49ZM1092.3 202.95L1095.75 208.95H1088.85ZM1100.21 201.49H1107.11L1103.66 207.49ZM1113.57 201.49H1120.47L1117.02 207.49ZM1124.93 185.86H1131.83L1128.38 191.86Z" fill="#c8c0ff"/>
<circle cx="1022.8" cy="206.95" r="2.9" fill="#3300ff"/><circle cx="1024.2" cy="206.95" r="2.9" fill="#3300ff"/><circle cx="1035.96" cy="206.95" r="2.9" fill="#3300ff"/><circle cx="1037.76" cy="206.95" r="2.9" fill="#3300ff"/><circle cx="1049.12" cy="206.95" r="2.9" fill="#3300ff"/><circle cx="1051.32" cy="206.95" r="2.9" fill="#3300ff"/><circle cx="1062.18" cy="206.95" r="2.9" fill="#1a0090"/><circle cx="1064.98" cy="206.95" r="2.9" fill="#3300ff"/><circle cx="1063.58" cy="206.95" r="2.9" fill="#1a0090"/><circle cx="1075.34" cy="206.95" r="2.9" fill="#1a0090"/><circle cx="1078.54" cy="206.95" r="2.9" fill="#3300ff"/><circle cx="1076.94" cy="206.95" r="2.9" fill="#1a0090"/><circle cx="1087.8" cy="206.95" r="2.9" fill="#1a0090"/><circle cx="1092.8" cy="206.95" r="2.9" fill="#3300ff"/><circle cx="1090.3" cy="206.95" r="2.9" fill="#1a0090"/><circle cx="1100.66" cy="206.95" r="2.9" fill="#1a0090"/><circle cx="1106.66" cy="206.95" r="2.9" fill="#3300ff"/><circle cx="1102.66" cy="206.95" r="2.9" fill="#1a0090"/><circle cx="1104.66" cy="206.95" r="2.9" fill="#3300ff"/><circle cx="1114.02" cy="206.95" r="2.9" fill="#1a0090"/><circle cx="1120.02" cy="206.95" r="2.9" fill="#3300ff"/><circle cx="1116.02" cy="206.95" r="2.9" fill="#1a0090"/><circle cx="1118.02" cy="206.95" r="2.9" fill="#3300ff"/><circle cx="1126.88" cy="206.95" r="2.9" fill="#1a0090"/><circle cx="1133.88" cy="206.95" r="2.9" fill="#1a0090"/><circle cx="1128.63" cy="206.95" r="2.9" fill="#3300ff"/><circle cx="1132.13" cy="206.95" r="2.9" fill="#1a0090"/><circle cx="1130.38" cy="206.95" r="2.9" fill="#3300ff"/>
<path d="M131.05 406.28H137.95L134.5 412.28ZM134.5 410.64L137.95 416.64H131.05ZM144.41 392.59H151.31L147.86 398.59ZM147.86 405.66L151.31 411.66H144.41ZM157.77 400.88H164.67L161.22 406.88ZM161.22 401.24L164.67 407.24H157.77ZM171.13 388.99H178.03L174.58 394.99ZM173.58 399.02L177.03 405.02H170.13ZM184.49 379.86H191.39L187.94 385.86ZM188.94 392.52L192.39 398.52H185.49ZM197.85 369.77H204.75L201.3 375.77ZM212.66 309.54L216.11 315.54H209.21ZM210.71 328.14H217.61L214.16 334.14ZM228.57 287.62H235.47L232.02 293.62ZM245.38 280.5L248.83 286.5H241.93Z" fill="#ffb6c1"/>
<circle cx="134.5" cy="418.65" r="2.9" fill="#f4a0a0"/><circle cx="133.8" cy="422.8" r="2.9" fill="#ff0000"/><circle cx="135.2" cy="422.8" r="2.9" fill="#ff0000"/><circle cx="147.86" cy="416.71" r="2.9" fill="#f4a0a0"/><circle cx="147.86" cy="419.48" r="2.9" fill="#d02020"/><circle cx="146.96" cy="422.8" r="2.9" fill="#ff0000"/><circle cx="148.76" cy="422.8" r="2.9" fill="#ff0000"/><circle cx="162.72" cy="412.29" r="2.9" fill="#f4a0a0"/><circle cx="160.22" cy="414.5" r="2.9" fill="#d02020"/><circle cx="162.26" cy="416.58" r="2.9" fill="#8b0000"/><circle cx="160.69" cy="418.65" r="2.9" fill="#8b0000"/><circle cx="160.96" cy="420.73" r="2.9" fill="#ff0000"/><circle cx="162.13" cy="422.8" r="2.9" fill="#8b0000"/><circle cx="175.96" cy="407.59" r="2.9" fill="#f4a0a0"/><circle cx="173.4" cy="409.49" r="2.9" fill="#f4a0a0"/><circle cx="174.95" cy="411.39" r="2.9" fill="#f4a0a0"/><circle cx="175.22" cy="413.29" r="2.9" fill="#d02020"/><circle cx="173.27" cy="415.19" r="2.9" fill="#8b0000"/><circle cx="175.87" cy="417.1" r="2.9" fill="#d02020"/><circle cx="173.99" cy="419" r="2.9" fill="#8b0000"/><circle cx="174.16" cy="420.9" r="2.9" fill="#ff0000"/><circle cx="175.79" cy="422.8" r="2.9" fill="#8b0000"/><circle cx="186.34" cy="402.75" r="2.9" fill="#f4a0a0"/><circle cx="189.05" cy="405.25" r="2.9" fill="#f4a0a0"/><circle cx="187.9" cy="407.76" r="2.9" fill="#f4a0a0"/><circle cx="186.89" cy="410.27" r="2.9" fill="#d02020"/><circle cx="189.53" cy="412.77" r="2.9" fill="#f4a0a0"/><circle cx="186.65" cy="415.28" r="2.9" fill="#8b0000"/><circle cx="188.25" cy="417.79" r="2.9" fill="#d02020"/><circle cx="188.77" cy="420.29" r="2.9" fill="#ff0000"/><circle cx="186.4" cy="422.8" r="2.9" fill="#8b0000"/><circle cx="203.69" cy="373.01" r="2.9" fill="#8b0000"/><circle cx="200.05" cy="374.71" r="2.9" fill="#d02020"/><circle cx="200.76" cy="376.42" r="2.9" fill="#ff0000"/><circle cx="203.35" cy="378.12" r="2.9" fill="#8b0000"/><circle cx="198.82" cy="379.82" r="2.9" fill="#d02020"/><circle cx="202.9" cy="381.52" r="2.9" fill="#8b0000"/><circle cx="201.42" cy="383.22" r="2.9" fill="#8b0000"/><circle cx="199.53" cy="384.93" r="2.9" fill="#ff0000"/><circle cx="203.8" cy="386.63" r="2.9" fill="#d02020"/><circle cx="199.39" cy="388.33" r="2.9" fill="#8b0000"/><circle cx="201.61" cy="390.03" r="2.9" fill="#d02020"/><circle cx="202.75" cy="391.74" r="2.9" fill="#ff0000"/><circle cx="198.85" cy="393.44" r="2.9" fill="#8b0000"/><circle cx="203.45" cy="395.14" r="2.9" fill="#8b0000"/><circle cx="211.66" cy="291.69" r="2.9" fill="#f4a0a0"/><circle cx="218.16" cy="292.24" r="2.9" fill="#f4a0a0"/><circle cx="211.66" cy="297.22" r="2.9" fill="#f4a0a0"/><circle cx="216.66" cy="299.57" r="2.9" fill="#f4a0a0"/><circle cx="214.16" cy="305.66" r="2.9" fill="#f4a0a0"/><circle cx="212.09" cy="284.5" r="2.9" fill="#8b0000"/><circle cx="215.5" cy="284.96" r="2.9" fill="#ff0000"/><circle cx="215.99" cy="285.42" r="2.9" fill="#8b0000"/><circle cx="211.86" cy="285.88" r="2.9" fill="#d02020"/><circle cx="217.45" cy="286.34" r="2.9" fill="#8b0000"/><circle cx="213.34" cy="286.81" r="2.9" fill="#ff0000"/><circle cx="213.81" cy="287.27" r="2.9" fill="#8b0000"/><circle cx="217.23" cy="287.73" r="2.9" fill="#8b0000"/><circle cx="211.72" cy="288.19" r="2.9" fill="#d02020"/><circle cx="216.42" cy="288.65" r="2.9" fill="#8b0000"/><circle cx="225.02" cy="284.5" r="2.9" fill="#8b0000"/><circle cx="231.02" cy="284.5" r="2.9" fill="#ff0000"/><circle cx="226.22" cy="284.5" r="2.9" fill="#8b0000"/><circle cx="229.82" cy="284.5" r="2.9" fill="#d02020"/><circle cx="227.42" cy="284.5" r="2.9" fill="#8b0000"/><circle cx="228.62" cy="284.5" r="2.9" fill="#ff0000"/><circle cx="237.88" cy="284.5" r="2.9" fill="#8b0000"/><circle cx="244.88" cy="284.5" r="2.9" fill="#ff0000"/><circle cx="239.05" cy="284.5" r="2.9" fill="#8b0000"/><circle cx="243.71" cy="284.5" r="2.9" fill="#8b0000"/><circle cx="240.21" cy="284.5" r="2.9" fill="#8b0000"/><circle cx="242.55" cy="284.5" r="2.9" fill="#d02020"/><circle cx="241.38" cy="284.5" r="2.9" fill="#ff0000"/>
<path d="M308.85 395.91H315.75L312.3 401.91ZM312.3 408.98L315.75 414.98H308.85ZM322.21 400.33H329.11L325.66 406.33ZM325.66 404.56L329.11 410.56H322.21ZM335.57 384.84H342.47L339.02 390.84ZM339.02 398.47L342.47 404.47H335.57ZM348.93 390.93H355.83L352.38 396.93ZM351.38 397.36L354.83 403.36H347.93ZM362.29 379.31H369.19L365.74 385.31ZM364.24 390.73L367.69 396.73H360.79ZM375.65 359.81H382.55L379.1 365.81ZM379.1 359.33L382.55 365.33H375.65ZM393.46 308.16L396.91 314.16H390.01ZM389.01 325.37H395.91L392.46 331.37ZM403.37 285.96H410.27L406.82 291.96ZM419.18 280.5L422.63 286.5H415.73Z" fill="#ffe4b5"/>
<circle cx="312.67" cy="415.88" r="2.9" fill="#ffd8a0"/><circle cx="311.63" cy="418.19" r="2.9" fill="#d07a10"/><circle cx="312.92" cy="420.5" r="2.9" fill="#8b4a00"/><circle cx="312.06" cy="422.8" r="2.9" fill="#ff9900"/><circle cx="325.01" cy="410.35" r="2.9" fill="#ffd8a0"/><circle cx="326.56" cy="412.84" r="2.9" fill="#ffd8a0"/><circle cx="324.98" cy="415.33" r="2.9" fill="#d07a10"/><circle cx="325.76" cy="417.82" r="2.9" fill="#8b4a00"/><circle cx="326.19" cy="420.31" r="2.9" fill="#8b4a00"/><circle cx="324.78" cy="422.8" r="2.9" fill="#ff9900"/><circle cx="339.97" cy="406.2" r="2.9" fill="#ffd8a0"/><circle cx="337.94" cy="408.97" r="2.9" fill="#ffd8a0"/><circle cx="339.66" cy="411.74" r="2.9" fill="#d07a10"/><circle cx="339.16" cy="414.5" r="2.9" fill="#ffd8a0"/><circle cx="338.18" cy="417.27" r="2.9" fill="#8b4a00"/><circle cx="340.12" cy="420.03" r="2.9" fill="#8b4a00"/><circle cx="338.24" cy="422.8" r="2.9" fill="#ff9900"/><circle cx="351.04" cy="403.44" r="2.9" fill="#ffd8a0"/><circle cx="353.64" cy="405.86" r="2.9" fill="#d07a10"/><circle cx="351.87" cy="408.28" r="2.9" fill="#ffd8a0"/><circle cx="351.88" cy="410.7" r="2.9" fill="#ffd8a0"/><circle cx="353.63" cy="413.12" r="2.9" fill="#d07a10"/><circle cx="351.04" cy="415.54" r="2.9" fill="#8b4a00"/><circle cx="353.11" cy="417.96" r="2.9" fill="#8b4a00"/><circle cx="352.65" cy="420.38" r="2.9" fill="#ff9900"/><circle cx="351.25" cy="422.8" r="2.9" fill="#8b4a00"/><circle cx="367.34" cy="393.76" r="2.9" fill="#ffd8a0"/><circle cx="364.51" cy="396.68" r="2.9" fill="#ffd8a0"/><circle cx="365.95" cy="399.6" r="2.9" fill="#ffd8a0"/><circle cx="366.66" cy="402.52" r="2.9" fill="#d07a10"/><circle cx="364.18" cy="405.44" r="2.9" fill="#ffd8a0"/><circle cx="367.12" cy="408.36" r="2.9" fill="#d07a10"/><circle cx="365.26" cy="411.28" r="2.9" fill="#8b4a00"/><circle cx="365.06" cy="414.19" r="2.9" fill="#d07a10"/><circle cx="367.22" cy="417.11" r="2.9" fill="#8b4a00"/><circle cx="364.24" cy="420.03" r="2.9" fill="#ff9900"/><circle cx="376.65" cy="364.71" r="2.9" fill="#8b4a00"/><circle cx="380.58" cy="366.56" r="2.9" fill="#d07a10"/><circle cx="379.37" cy="368.4" r="2.9" fill="#ffd8a0"/><circle cx="377.22" cy="370.25" r="2.9" fill="#8b4a00"/><circle cx="381.6" cy="372.09" r="2.9" fill="#d07a10"/><circle cx="377.3" cy="373.93" r="2.9" fill="#ff9900"/><circle cx="379.26" cy="375.78" r="2.9" fill="#8b4a00"/><circle cx="380.67" cy="377.62" r="2.9" fill="#d07a10"/><circle cx="376.63" cy="379.47" r="2.9" fill="#ffd8a0"/><circle cx="381.17" cy="381.31" r="2.9" fill="#8b4a00"/><circle cx="388.96" cy="295.15" r="2.9" fill="#ffd8a0"/><circle cx="392.46" cy="299.02" r="2.9" fill="#ffd8a0"/><circle cx="391.96" cy="302.89" r="2.9" fill="#ffd8a0"/><circle cx="395.18" cy="284.5" r="2.9" fill="#8b4a00"/><circle cx="391.31" cy="285.29" r="2.9" fill="#ff9900"/><circle cx="391.43" cy="286.08" r="2.9" fill="#8b4a00"/><circle cx="395.12" cy="286.87" r="2.9" fill="#d07a10"/><circle cx="389.56" cy="287.66" r="2.9" fill="#8b4a00"/><circle cx="394.06" cy="288.45" r="2.9" fill="#ffd8a0"/><circle cx="393" cy="289.24" r="2.9" fill="#8b4a00"/><circle cx="390.07" cy="290.03" r="2.9" fill="#d07a10"/><circle cx="402.82" cy="284.5" r="2.9" fill="#8b4a00"/><circle cx="408.82" cy="284.5" r="2.9" fill="#ff9900"/><circle cx="404.32" cy="284.5" r="2.9" fill="#8b4a00"/><circle cx="407.32" cy="284.5" r="2.9" fill="#d07a10"/><circle cx="405.82" cy="284.5" r="2.9" fill="#ff9900"/><circle cx="415.68" cy="284.5" r="2.9" fill="#8b4a00"/><circle cx="422.68" cy="284.5" r="2.9" fill="#ff9900"/><circle cx="417.08" cy="284.5" r="2.9" fill="#8b4a00"/><circle cx="421.28" cy="284.5" r="2.9" fill="#d07a10"/><circle cx="418.48" cy="284.5" r="2.9" fill="#8b4a00"/><circle cx="419.88" cy="284.5" r="2.9" fill="#ff9900"/>
<path d="M486.65 407.25H493.55L490.1 413.25ZM490.1 417.42L493.55 423.42H486.65ZM500.01 414.85H506.91L503.46 420.85ZM503.46 416.03L506.91 422.03H500.01ZM513.37 411.81H520.27L516.82 417.81ZM516.82 414.1L520.27 420.1H513.37ZM527.73 407.25H534.63L531.18 413.25ZM530.18 413.41L533.63 419.41H526.73ZM540.09 404.2H546.99L543.54 410.2ZM543.54 412.85L546.99 418.85H540.09ZM550.95 393.69H557.85L554.4 399.69ZM558.4 402.9L561.85 408.9H554.95ZM578.67 295.36H585.57L582.12 301.36ZM596.98 280.5L600.43 286.5H593.53Z" fill="#f4ffb4"/>
<circle cx="489.4" cy="422.8" r="2.9" fill="#ccff00"/><circle cx="490.8" cy="422.8" r="2.9" fill="#ccff00"/><circle cx="502.56" cy="422.8" r="2.9" fill="#ccff00"/><circle cx="504.36" cy="422.8" r="2.9" fill="#ccff00"/><circle cx="515.72" cy="422.8" r="2.9" fill="#6e8800"/><circle cx="517.92" cy="422.8" r="2.9" fill="#ccff00"/><circle cx="516.82" cy="422.8" r="2.9" fill="#6e8800"/><circle cx="528.78" cy="422.8" r="2.9" fill="#ccff00"/><circle cx="531.58" cy="422.8" r="2.9" fill="#6e8800"/><circle cx="530.18" cy="422.8" r="2.9" fill="#6e8800"/><circle cx="541.94" cy="422.8" r="2.9" fill="#6e8800"/><circle cx="545.14" cy="422.8" r="2.9" fill="#ccff00"/><circle cx="543.01" cy="422.8" r="2.9" fill="#6e8800"/><circle cx="544.07" cy="422.8" r="2.9" fill="#6e8800"/><circle cx="554.9" cy="413.4" r="2.9" fill="#eeffa8"/><circle cx="559.4" cy="414.5" r="2.9" fill="#eeffa8"/><circle cx="554.4" cy="422.8" r="2.9" fill="#6e8800"/><circle cx="559.4" cy="422.8" r="2.9" fill="#ccff00"/><circle cx="556.07" cy="422.8" r="2.9" fill="#6e8800"/><circle cx="557.73" cy="422.8" r="2.9" fill="#6e8800"/><circle cx="566.47" cy="357.8" r="2.9" fill="#6e8800"/><circle cx="572.18" cy="358.35" r="2.9" fill="#6e8800"/><circle cx="571.22" cy="358.91" r="2.9" fill="#a8c830"/><circle cx="566.93" cy="359.46" r="2.9" fill="#ccff00"/><circle cx="574.21" cy="360.01" r="2.9" fill="#6e8800"/><circle cx="567.77" cy="360.56" r="2.9" fill="#6e8800"/><circle cx="580.62" cy="284.5" r="2.9" fill="#ccff00"/><circle cx="586.62" cy="284.5" r="2.9" fill="#6e8800"/><circle cx="582.62" cy="284.5" r="2.9" fill="#6e8800"/><circle cx="584.62" cy="284.5" r="2.9" fill="#ccff00"/><circle cx="593.48" cy="284.5" r="2.9" fill="#6e8800"/><circle cx="600.48" cy="284.5" r="2.9" fill="#ccff00"/><circle cx="595.23" cy="284.5" r="2.9" fill="#6e8800"/><circle cx="598.73" cy="284.5" r="2.9" fill="#6e8800"/><circle cx="596.98" cy="284.5" r="2.9" fill="#ccff00"/>
<path d="M664.45 400.33H671.35L667.9 406.33ZM667.9 409.53L671.35 415.53H664.45ZM677.81 389.82H684.71L681.26 395.82ZM681.26 403.45L684.71 409.45H677.81ZM691.17 388.16H698.07L694.62 394.16ZM696.12 399.02L699.57 405.02H692.67ZM705.53 383.18H712.43L708.98 389.18ZM708.98 396.26L712.43 402.26H705.53ZM716.89 382.63H723.79L720.34 388.63ZM721.34 391.28L724.79 397.28H717.89ZM733.2 372.88L736.65 378.88H729.75ZM733.25 375.16H740.15L736.7 381.16ZM746.06 322.96L749.51 328.96H742.61ZM744.11 336.44H751.01L747.56 342.44ZM756.47 289.83H763.37L759.92 295.83ZM774.78 280.5L778.23 286.5H771.33Z" fill="#b8ffff"/>
<circle cx="668.13" cy="417.27" r="2.9" fill="#20c0c0"/><circle cx="667.28" cy="419.11" r="2.9" fill="#007f7f"/><circle cx="668.58" cy="420.96" r="2.9" fill="#007f7f"/><circle cx="667.52" cy="422.8" r="2.9" fill="#00ffff"/><circle cx="680.77" cy="413.12" r="2.9" fill="#a0f4f4"/><circle cx="682.13" cy="415.54" r="2.9" fill="#20c0c0"/><circle cx="680.47" cy="417.96" r="2.9" fill="#007f7f"/><circle cx="681.55" cy="420.38" r="2.9" fill="#007f7f"/><circle cx="681.62" cy="422.8" r="2.9" fill="#00ffff"/><circle cx="695.43" cy="408.97" r="2.9" fill="#a0f4f4"/><circle cx="693.52" cy="411.74" r="2.9" fill="#a0f4f4"/><circle cx="695.43" cy="414.5" r="2.9" fill="#20c0c0"/><circle cx="694.52" cy="417.27" r="2.9" fill="#007f7f"/><circle cx="693.95" cy="420.03" r="2.9" fill="#007f7f"/><circle cx="695.7" cy="422.8" r="2.9" fill="#00ffff"/><circle cx="706.76" cy="406.2" r="2.9" fill="#a0f4f4"/><circle cx="709.34" cy="408.57" r="2.9" fill="#a0f4f4"/><circle cx="707.2" cy="410.95" r="2.9" fill="#a0f4f4"/><circle cx="707.77" cy="413.32" r="2.9" fill="#20c0c0"/><circle cx="709.07" cy="415.69" r="2.9" fill="#007f7f"/><circle cx="706.58" cy="418.06" r="2.9" fill="#20c0c0"/><circle cx="708.95" cy="420.43" r="2.9" fill="#007f7f"/><circle cx="707.95" cy="422.8" r="2.9" fill="#007f7f"/><circle cx="722.88" cy="400.67" r="2.9" fill="#a0f4f4"/><circle cx="719.92" cy="403.83" r="2.9" fill="#a0f4f4"/><circle cx="721.89" cy="406.99" r="2.9" fill="#a0f4f4"/><circle cx="721.95" cy="410.16" r="2.9" fill="#20c0c0"/><circle cx="719.89" cy="413.32" r="2.9" fill="#20c0c0"/><circle cx="722.87" cy="416.48" r="2.9" fill="#007f7f"/><circle cx="720.54" cy="419.64" r="2.9" fill="#007f7f"/><circle cx="720.99" cy="422.8" r="2.9" fill="#20c0c0"/><circle cx="732.2" cy="378.54" r="2.9" fill="#a0f4f4"/><circle cx="736.58" cy="380.78" r="2.9" fill="#20c0c0"/><circle cx="734.43" cy="383.01" r="2.9" fill="#a0f4f4"/><circle cx="733.22" cy="385.25" r="2.9" fill="#20c0c0"/><circle cx="737.15" cy="387.48" r="2.9" fill="#007f7f"/><circle cx="732.57" cy="389.71" r="2.9" fill="#20c0c0"/><circle cx="735.39" cy="391.95" r="2.9" fill="#a0f4f4"/><circle cx="735.82" cy="394.18" r="2.9" fill="#20c0c0"/><circle cx="732.37" cy="396.42" r="2.9" fill="#007f7f"/><circle cx="737.02" cy="398.65" r="2.9" fill="#20c0c0"/><circle cx="733.61" cy="400.88" r="2.9" fill="#007f7f"/><circle cx="733.98" cy="403.12" r="2.9" fill="#20c0c0"/><circle cx="736.85" cy="405.35" r="2.9" fill="#a0f4f4"/><circle cx="732.25" cy="407.59" r="2.9" fill="#007f7f"/><circle cx="750.56" cy="320.04" r="2.9" fill="#a0f4f4"/><circle cx="748.06" cy="313.54" r="2.9" fill="#a0f4f4"/><circle cx="748.06" cy="310.78" r="2.9" fill="#a0f4f4"/><circle cx="750.99" cy="288.65" r="2.9" fill="#20c0c0"/><circle cx="746.34" cy="290.41" r="2.9" fill="#007f7f"/><circle cx="747.66" cy="292.17" r="2.9" fill="#20c0c0"/><circle cx="750.36" cy="293.93" r="2.9" fill="#007f7f"/><circle cx="745.06" cy="295.69" r="2.9" fill="#a0f4f4"/><circle cx="750.17" cy="297.45" r="2.9" fill="#20c0c0"/><circle cx="747.95" cy="299.21" r="2.9" fill="#007f7f"/><circle cx="746.12" cy="300.97" r="2.9" fill="#20c0c0"/><circle cx="751.04" cy="302.73" r="2.9" fill="#007f7f"/><circle cx="745.62" cy="304.49" r="2.9" fill="#20c0c0"/><circle cx="748.68" cy="306.25" r="2.9" fill="#a0f4f4"/><circle cx="749.58" cy="308.01" r="2.9" fill="#007f7f"/><circle cx="758.42" cy="284.5" r="2.9" fill="#007f7f"/><circle cx="764.42" cy="284.5" r="2.9" fill="#20c0c0"/><circle cx="759.62" cy="284.5" r="2.9" fill="#007f7f"/><circle cx="763.22" cy="284.5" r="2.9" fill="#00ffff"/><circle cx="760.82" cy="284.5" r="2.9" fill="#007f7f"/><circle cx="762.02" cy="284.5" r="2.9" fill="#20c0c0"/><circle cx="771.28" cy="284.5" r="2.9" fill="#007f7f"/><circle cx="778.28" cy="284.5" r="2.9" fill="#20c0c0"/><circle cx="772.68" cy="284.5" r="2.9" fill="#007f7f"/><circle cx="776.88" cy="284.5" r="2.9" fill="#00ffff"/><circle cx="774.08" cy="284.5" r="2.9" fill="#007f7f"/><circle cx="775.48" cy="284.5" r="2.9" fill="#007f7f"/>
<path d="M842.25 406.97H849.15L845.7 412.97ZM845.7 409.53L849.15 415.53H842.25ZM856.61 392.03H863.51L860.06 398.03ZM859.06 406.77L862.51 412.77H855.61ZM868.97 399.78H875.87L872.42 405.78ZM874.42 403.59L877.87 409.59H870.97ZM882.33 389.82H889.23L885.78 395.82ZM885.78 397.36L889.23 403.36H882.33ZM897.19 380.97H904.09L900.64 386.97ZM900.64 391.28L904.09 397.28H897.19ZM909.05 367.55H915.95L912.5 373.55ZM914.5 369.01L917.95 375.01H911.05ZM926.36 309.54L929.81 315.54H922.91ZM924.91 327.59H931.81L928.36 333.59ZM933.77 287.06H940.67L937.22 293.06ZM955.58 280.5L959.03 286.5H952.13Z" fill="#b8d4ff"/>
<circle cx="845.54" cy="420.03" r="2.9" fill="#003090"/><circle cx="846.28" cy="422.8" r="2.9" fill="#0a6eff"/><circle cx="859.47" cy="414.5" r="2.9" fill="#a8c8ff"/><circle cx="858.22" cy="416.58" r="2.9" fill="#a8c8ff"/><circle cx="859.89" cy="418.65" r="2.9" fill="#3070d8"/><circle cx="858.68" cy="420.73" r="2.9" fill="#003090"/><circle cx="858.79" cy="422.8" r="2.9" fill="#0a6eff"/><circle cx="871.7" cy="411.74" r="2.9" fill="#a8c8ff"/><circle cx="873.51" cy="413.95" r="2.9" fill="#a8c8ff"/><circle cx="871.53" cy="416.16" r="2.9" fill="#3070d8"/><circle cx="872.64" cy="418.37" r="2.9" fill="#003090"/><circle cx="872.99" cy="420.59" r="2.9" fill="#003090"/><circle cx="871.36" cy="422.8" r="2.9" fill="#0a6eff"/><circle cx="886.92" cy="406.2" r="2.9" fill="#a8c8ff"/><circle cx="884.39" cy="408.97" r="2.9" fill="#a8c8ff"/><circle cx="886.68" cy="411.74" r="2.9" fill="#3070d8"/><circle cx="885.84" cy="414.5" r="2.9" fill="#a8c8ff"/><circle cx="884.79" cy="417.27" r="2.9" fill="#003090"/><circle cx="887.18" cy="420.03" r="2.9" fill="#003090"/><circle cx="884.71" cy="422.8" r="2.9" fill="#0a6eff"/><circle cx="897.65" cy="402.06" r="2.9" fill="#a8c8ff"/><circle cx="900.63" cy="404.36" r="2.9" fill="#3070d8"/><circle cx="898.43" cy="406.67" r="2.9" fill="#a8c8ff"/><circle cx="898.69" cy="408.97" r="2.9" fill="#3070d8"/><circle cx="900.51" cy="411.28" r="2.9" fill="#a8c8ff"/><circle cx="897.57" cy="413.58" r="2.9" fill="#003090"/><circle cx="900.08" cy="415.88" r="2.9" fill="#3070d8"/><circle cx="899.32" cy="418.19" r="2.9" fill="#003090"/><circle cx="897.93" cy="420.5" r="2.9" fill="#003090"/><circle cx="900.74" cy="422.8" r="2.9" fill="#3070d8"/><circle cx="914.98" cy="374.39" r="2.9" fill="#a8c8ff"/><circle cx="910.45" cy="376.41" r="2.9" fill="#3070d8"/><circle cx="913.04" cy="378.42" r="2.9" fill="#003090"/><circle cx="913.75" cy="380.43" r="2.9" fill="#3070d8"/><circle cx="910.11" cy="382.44" r="2.9" fill="#0a6eff"/><circle cx="914.76" cy="384.45" r="2.9" fill="#003090"/><circle cx="911.55" cy="386.46" r="2.9" fill="#3070d8"/><circle cx="911.63" cy="388.48" r="2.9" fill="#a8c8ff"/><circle cx="914.72" cy="390.49" r="2.9" fill="#003090"/><circle cx="910.09" cy="392.5" r="2.9" fill="#3070d8"/><circle cx="913.83" cy="394.51" r="2.9" fill="#a8c8ff"/><circle cx="912.95" cy="396.52" r="2.9" fill="#003090"/><circle cx="923.36" cy="304.55" r="2.9" fill="#a8c8ff"/><circle cx="929.86" cy="298.88" r="2.9" fill="#a8c8ff"/><circle cx="926.86" cy="296.12" r="2.9" fill="#a8c8ff"/><circle cx="922.88" cy="284.5" r="2.9" fill="#a8c8ff"/><circle cx="927.83" cy="285.58" r="2.9" fill="#003090"/><circle cx="925.93" cy="286.65" r="2.9" fill="#0a6eff"/><circle cx="923.78" cy="287.73" r="2.9" fill="#a8c8ff"/><circle cx="928.85" cy="288.8" r="2.9" fill="#003090"/><circle cx="923.53" cy="289.88" r="2.9" fill="#3070d8"/><circle cx="926.3" cy="290.95" r="2.9" fill="#003090"/><circle cx="927.54" cy="292.03" r="2.9" fill="#a8c8ff"/><circle cx="922.94" cy="293.11" r="2.9" fill="#0a6eff"/><circle cx="928.48" cy="294.18" r="2.9" fill="#003090"/><circle cx="936.22" cy="284.5" r="2.9" fill="#0a6eff"/><circle cx="942.22" cy="284.5" r="2.9" fill="#003090"/><circle cx="937.72" cy="284.5" r="2.9" fill="#3070d8"/><circle cx="940.72" cy="284.5" r="2.9" fill="#003090"/><circle cx="939.22" cy="284.5" r="2.9" fill="#0a6eff"/><circle cx="949.08" cy="284.5" r="2.9" fill="#003090"/><circle cx="956.08" cy="284.5" r="2.9" fill="#0a6eff"/><circle cx="950.48" cy="284.5" r="2.9" fill="#003090"/><circle cx="954.68" cy="284.5" r="2.9" fill="#003090"/><circle cx="951.88" cy="284.5" r="2.9" fill="#003090"/><circle cx="953.28" cy="284.5" r="2.9" fill="#0a6eff"/>
<path d="M1020.05 420.8H1026.95L1023.5 426.8ZM1023.5 418.8L1026.95 424.8H1020.05ZM1033.41 420.8H1040.31L1036.86 426.8ZM1036.86 418.8L1040.31 424.8H1033.41ZM1046.77 414.3H1053.67L1050.22 420.3ZM1050.22 417.42L1053.67 423.42H1046.77ZM1060.13 417.2H1067.03L1063.58 423.2ZM1063.58 417.42L1067.03 423.42H1060.13ZM1073.49 412.64H1080.39L1076.94 418.64ZM1086.85 411.12H1093.75L1090.3 417.12ZM1090.3 415.2L1093.75 421.2H1086.85ZM1103.51 389.27H1110.41L1106.96 395.27ZM1101.66 397.36L1105.11 403.36H1098.21ZM1118.52 308.16L1121.97 314.16H1115.07ZM1112.07 318.18H1118.97L1115.52 324.18ZM1130.38 280.5L1133.83 286.5H1126.93Z" fill="#c8c0ff"/>
<circle cx="1023.5" cy="422.8" r="2.9" fill="#3300ff"/><circle cx="1036.86" cy="422.8" r="2.9" fill="#3300ff"/><circle cx="1049.12" cy="422.8" r="2.9" fill="#3300ff"/><circle cx="1051.32" cy="422.8" r="2.9" fill="#1a0090"/><circle cx="1062.18" cy="422.8" r="2.9" fill="#1a0090"/><circle cx="1064.98" cy="422.8" r="2.9" fill="#3300ff"/><circle cx="1063.58" cy="422.8" r="2.9" fill="#1a0090"/><circle cx="1075.34" cy="422.8" r="2.9" fill="#1a0090"/><circle cx="1078.54" cy="422.8" r="2.9" fill="#3300ff"/><circle cx="1076.94" cy="422.8" r="2.9" fill="#1a0090"/><circle cx="1087.8" cy="422.8" r="2.9" fill="#1a0090"/><circle cx="1092.8" cy="422.8" r="2.9" fill="#3300ff"/><circle cx="1090.3" cy="422.8" r="2.9" fill="#1a0090"/><circle cx="1101.66" cy="408.97" r="2.9" fill="#b0a4ff"/><circle cx="1100.16" cy="411.74" r="2.9" fill="#b0a4ff"/><circle cx="1106.66" cy="414.5" r="2.9" fill="#b0a4ff"/><circle cx="1106.66" cy="417.27" r="2.9" fill="#1a0090"/><circle cx="1101.45" cy="418.37" r="2.9" fill="#6a50f0"/><circle cx="1103.91" cy="419.48" r="2.9" fill="#1a0090"/><circle cx="1105.49" cy="420.59" r="2.9" fill="#3300ff"/><circle cx="1100.7" cy="421.69" r="2.9" fill="#1a0090"/><circle cx="1106.18" cy="422.8" r="2.9" fill="#1a0090"/><circle cx="1118.02" cy="299.99" r="2.9" fill="#6a50f0"/><circle cx="1115.02" cy="295.01" r="2.9" fill="#6a50f0"/><circle cx="1117.02" cy="291.42" r="2.9" fill="#6a50f0"/><circle cx="1114.11" cy="284.5" r="2.9" fill="#b0a4ff"/><circle cx="1118.68" cy="285.29" r="2.9" fill="#1a0090"/><circle cx="1117.49" cy="286.08" r="2.9" fill="#3300ff"/><circle cx="1114.67" cy="286.87" r="2.9" fill="#1a0090"/><circle cx="1120.01" cy="287.66" r="2.9" fill="#6a50f0"/><circle cx="1114.96" cy="288.45" r="2.9" fill="#1a0090"/><circle cx="1117.06" cy="289.24" r="2.9" fill="#3300ff"/><circle cx="1119.02" cy="290.03" r="2.9" fill="#1a0090"/><circle cx="1126.88" cy="284.5" r="2.9" fill="#1a0090"/><circle cx="1133.88" cy="284.5" r="2.9" fill="#3300ff"/><circle cx="1128.28" cy="284.5" r="2.9" fill="#1a0090"/><circle cx="1132.48" cy="284.5" r="2.9" fill="#1a0090"/><circle cx="1129.68" cy="284.5" r="2.9" fill="#1a0090"/><circle cx="1131.08" cy="284.5" r="2.9" fill="#3300ff"/>
<path d="M131.05 602.09H137.95L134.5 608.09ZM134.5 600.09L137.95 606.09H131.05ZM144.41 570.01H151.31L147.86 576.01ZM147.86 582.11L151.31 588.11H144.41ZM157.77 577.2H164.67L161.22 583.2ZM172.13 558.53H179.03L175.58 564.53ZM173.58 553.76L177.03 559.76H170.13ZM183.49 541.65H190.39L186.94 547.65ZM185.94 534.81L189.39 540.81H182.49ZM199.35 518.97H206.25L202.8 524.97ZM202.3 503.14L205.75 509.14H198.85Z" fill="#ffb6c1"/>
<circle cx="134.5" cy="617.51" r="2.9" fill="#f4a0a0"/><circle cx="134.5" cy="622.07" r="2.9" fill="#f4a0a0"/><circle cx="133.82" cy="626.22" r="2.9" fill="#d02020"/><circle cx="135.11" cy="627.83" r="2.9" fill="#8b0000"/><circle cx="134.28" cy="629.45" r="2.9" fill="#d02020"/><circle cx="134.22" cy="631.06" r="2.9" fill="#8b0000"/><circle cx="135.14" cy="632.67" r="2.9" fill="#8b0000"/><circle cx="133.84" cy="634.29" r="2.9" fill="#8b0000"/><circle cx="134.83" cy="635.9" r="2.9" fill="#ff0000"/><circle cx="148.76" cy="593.03" r="2.9" fill="#f4a0a0"/><circle cx="147.2" cy="595.15" r="2.9" fill="#d02020"/><circle cx="147.93" cy="597.28" r="2.9" fill="#f4a0a0"/><circle cx="148.41" cy="599.41" r="2.9" fill="#d02020"/><circle cx="146.97" cy="601.54" r="2.9" fill="#8b0000"/><circle cx="148.62" cy="603.67" r="2.9" fill="#d02020"/><circle cx="147.63" cy="605.79" r="2.9" fill="#8b0000"/><circle cx="147.44" cy="607.92" r="2.9" fill="#ff0000"/><circle cx="148.71" cy="610.05" r="2.9" fill="#8b0000"/><circle cx="147.03" cy="612.18" r="2.9" fill="#d02020"/><circle cx="148.23" cy="614.3" r="2.9" fill="#8b0000"/><circle cx="148.14" cy="616.43" r="2.9" fill="#d02020"/><circle cx="147.07" cy="618.56" r="2.9" fill="#8b0000"/><circle cx="148.74" cy="620.69" r="2.9" fill="#ff0000"/><circle cx="160.15" cy="565.37" r="2.9" fill="#8b0000"/><circle cx="161.83" cy="566.06" r="2.9" fill="#8b0000"/><circle cx="161.39" cy="566.75" r="2.9" fill="#d02020"/><circle cx="160.36" cy="567.44" r="2.9" fill="#8b0000"/><circle cx="162.32" cy="568.13" r="2.9" fill="#8b0000"/><circle cx="173.58" cy="548.63" r="2.9" fill="#f4a0a0"/><circle cx="175.82" cy="518.35" r="2.9" fill="#f4a0a0"/><circle cx="174.11" cy="520" r="2.9" fill="#d02020"/><circle cx="174.03" cy="521.66" r="2.9" fill="#8b0000"/><circle cx="175.85" cy="523.32" r="2.9" fill="#d02020"/><circle cx="173.25" cy="524.98" r="2.9" fill="#8b0000"/><circle cx="175.27" cy="526.64" r="2.9" fill="#d02020"/><circle cx="174.9" cy="528.3" r="2.9" fill="#f4a0a0"/><circle cx="173.42" cy="529.96" r="2.9" fill="#d02020"/><circle cx="175.97" cy="531.62" r="2.9" fill="#8b0000"/><circle cx="173.7" cy="533.28" r="2.9" fill="#d02020"/><circle cx="174.5" cy="534.94" r="2.9" fill="#8b0000"/><circle cx="175.59" cy="536.6" r="2.9" fill="#f4a0a0"/><circle cx="173.18" cy="538.26" r="2.9" fill="#d02020"/><circle cx="175.64" cy="539.92" r="2.9" fill="#8b0000"/><circle cx="174.42" cy="541.58" r="2.9" fill="#d02020"/><circle cx="173.76" cy="543.24" r="2.9" fill="#f4a0a0"/><circle cx="188.94" cy="531.9" r="2.9" fill="#f4a0a0"/><circle cx="185.94" cy="528.03" r="2.9" fill="#f4a0a0"/><circle cx="186.75" cy="501.75" r="2.9" fill="#f4a0a0"/><circle cx="188.1" cy="503.24" r="2.9" fill="#d02020"/><circle cx="188.9" cy="504.73" r="2.9" fill="#8b0000"/><circle cx="186.37" cy="506.22" r="2.9" fill="#d02020"/><circle cx="189.3" cy="507.71" r="2.9" fill="#8b0000"/><circle cx="187.51" cy="509.2" r="2.9" fill="#d02020"/><circle cx="187.21" cy="510.69" r="2.9" fill="#8b0000"/><circle cx="189.44" cy="512.17" r="2.9" fill="#f4a0a0"/><circle cx="186.46" cy="513.66" r="2.9" fill="#d02020"/><circle cx="188.62" cy="515.15" r="2.9" fill="#8b0000"/><circle cx="188.41" cy="516.64" r="2.9" fill="#d02020"/><circle cx="186.56" cy="518.13" r="2.9" fill="#8b0000"/><circle cx="189.5" cy="519.62" r="2.9" fill="#d02020"/><circle cx="187.02" cy="521.11" r="2.9" fill="#8b0000"/><circle cx="198.3" cy="502.44" r="2.9" fill="#f4a0a0"/><circle cx="198.8" cy="497.6" r="2.9" fill="#8b0000"/><circle cx="203.8" cy="497.6" r="2.9" fill="#ff0000"/><circle cx="199.8" cy="497.6" r="2.9" fill="#8b0000"/><circle cx="202.8" cy="497.6" r="2.9" fill="#d02020"/><circle cx="200.8" cy="497.6" r="2.9" fill="#8b0000"/><circle cx="201.8" cy="497.6" r="2.9" fill="#ff0000"/><circle cx="211.66" cy="497.6" r="2.9" fill="#8b0000"/><circle cx="217.66" cy="497.6" r="2.9" fill="#ff0000"/><circle cx="213.16" cy="497.6" r="2.9" fill="#8b0000"/><circle cx="216.16" cy="497.6" r="2.9" fill="#8b0000"/><circle cx="214.66" cy="497.6" r="2.9" fill="#ff0000"/><circle cx="225.02" cy="497.6" r="2.9" fill="#ff0000"/><circle cx="231.02" cy="497.6" r="2.9" fill="#8b0000"/><circle cx="226.52" cy="497.6" r="2.9" fill="#ff0000"/><circle cx="229.52" cy="497.6" r="2.9" fill="#8b0000"/><circle cx="228.02" cy="497.6" r="2.9" fill="#ff0000"/><circle cx="237.88" cy="497.6" r="2.9" fill="#8b0000"/><circle cx="244.88" cy="497.6" r="2.9" fill="#ff0000"/><circle cx="239.28" cy="497.6" r="2.9" fill="#8b0000"/><circle cx="243.48" cy="497.6" r="2.9" fill="#d02020"/><circle cx="240.68" cy="497.6" r="2.9" fill="#8b0000"/><circle cx="242.08" cy="497.6" r="2.9" fill="#ff0000"/>
<path d="M308.85 582.59H315.75L312.3 588.59ZM312.3 596.5L315.75 602.5H308.85ZM322.71 575.81H329.61L326.16 581.81ZM336.32 549.2L339.77 555.2H332.87ZM335.57 553.96H342.47L339.02 559.96ZM350.88 538.13L354.33 544.13H347.43ZM347.93 552.86H354.83L351.38 558.86ZM365.74 527.07L369.19 533.07H362.29ZM360.29 537.78H367.19L363.74 543.78ZM376.65 509.98H383.55L380.1 515.98ZM379.1 499.82L382.55 505.82H375.65Z" fill="#ffe4b5"/>
<circle cx="312.96" cy="604.09" r="2.9" fill="#ffd8a0"/><circle cx="311.65" cy="606.35" r="2.9" fill="#d07a10"/><circle cx="312.59" cy="608.62" r="2.9" fill="#ffd8a0"/><circle cx="312.51" cy="610.88" r="2.9" fill="#d07a10"/><circle cx="311.69" cy="613.14" r="2.9" fill="#8b4a00"/><circle cx="312.98" cy="615.41" r="2.9" fill="#d07a10"/><circle cx="311.9" cy="617.67" r="2.9" fill="#8b4a00"/><circle cx="312.2" cy="619.93" r="2.9" fill="#ff9900"/><circle cx="312.84" cy="622.2" r="2.9" fill="#8b4a00"/><circle cx="311.6" cy="624.46" r="2.9" fill="#d07a10"/><circle cx="312.79" cy="626.72" r="2.9" fill="#8b4a00"/><circle cx="312.28" cy="628.99" r="2.9" fill="#ff9900"/><circle cx="324.76" cy="566.75" r="2.9" fill="#8b4a00"/><circle cx="326.38" cy="568.41" r="2.9" fill="#d07a10"/><circle cx="325.49" cy="570.07" r="2.9" fill="#ff9900"/><circle cx="325.19" cy="571.73" r="2.9" fill="#8b4a00"/><circle cx="326.53" cy="573.39" r="2.9" fill="#d07a10"/><circle cx="324.86" cy="575.05" r="2.9" fill="#8b4a00"/><circle cx="339.02" cy="551.54" r="2.9" fill="#ffd8a0"/><circle cx="340.11" cy="519.73" r="2.9" fill="#ffd8a0"/><circle cx="338.32" cy="521.86" r="2.9" fill="#8b4a00"/><circle cx="338.96" cy="523.98" r="2.9" fill="#d07a10"/><circle cx="339.8" cy="526.11" r="2.9" fill="#8b4a00"/><circle cx="337.92" cy="528.24" r="2.9" fill="#d07a10"/><circle cx="339.86" cy="530.37" r="2.9" fill="#ffd8a0"/><circle cx="338.89" cy="532.49" r="2.9" fill="#8b4a00"/><circle cx="338.38" cy="534.62" r="2.9" fill="#d07a10"/><circle cx="340.1" cy="536.75" r="2.9" fill="#8b4a00"/><circle cx="338.07" cy="538.88" r="2.9" fill="#d07a10"/><circle cx="339.34" cy="541" r="2.9" fill="#ff9900"/><circle cx="339.5" cy="543.13" r="2.9" fill="#8b4a00"/><circle cx="338" cy="545.26" r="2.9" fill="#d07a10"/><circle cx="340.05" cy="547.39" r="2.9" fill="#ffd8a0"/><circle cx="351.08" cy="501.75" r="2.9" fill="#ffd8a0"/><circle cx="352.99" cy="503.88" r="2.9" fill="#d07a10"/><circle cx="352.78" cy="506" r="2.9" fill="#ffd8a0"/><circle cx="351.18" cy="508.13" r="2.9" fill="#8b4a00"/><circle cx="353.75" cy="510.26" r="2.9" fill="#d07a10"/><circle cx="351.56" cy="512.39" r="2.9" fill="#8b4a00"/><circle cx="352.21" cy="514.52" r="2.9" fill="#d07a10"/><circle cx="353.44" cy="516.64" r="2.9" fill="#8b4a00"/><circle cx="350.98" cy="518.77" r="2.9" fill="#ff9900"/><circle cx="353.38" cy="520.9" r="2.9" fill="#8b4a00"/><circle cx="352.31" cy="523.03" r="2.9" fill="#d07a10"/><circle cx="351.49" cy="525.15" r="2.9" fill="#8b4a00"/><circle cx="353.77" cy="527.28" r="2.9" fill="#d07a10"/><circle cx="351.23" cy="529.41" r="2.9" fill="#8b4a00"/><circle cx="367.24" cy="519.73" r="2.9" fill="#ffd8a0"/><circle cx="363.74" cy="513.09" r="2.9" fill="#ffd8a0"/><circle cx="367.74" cy="509.77" r="2.9" fill="#ffd8a0"/><circle cx="368.18" cy="497.6" r="2.9" fill="#ffd8a0"/><circle cx="365.12" cy="498.98" r="2.9" fill="#8b4a00"/><circle cx="364.21" cy="500.37" r="2.9" fill="#d07a10"/><circle cx="368.61" cy="501.75" r="2.9" fill="#8b4a00"/><circle cx="363.04" cy="503.13" r="2.9" fill="#ff9900"/><circle cx="366.85" cy="504.52" r="2.9" fill="#8b4a00"/><circle cx="366.8" cy="505.9" r="2.9" fill="#d07a10"/><circle cx="363.06" cy="507.28" r="2.9" fill="#8b4a00"/><circle cx="376.6" cy="497.6" r="2.9" fill="#8b4a00"/><circle cx="381.6" cy="497.6" r="2.9" fill="#ff9900"/><circle cx="377.85" cy="497.6" r="2.9" fill="#8b4a00"/><circle cx="380.35" cy="497.6" r="2.9" fill="#d07a10"/><circle cx="379.1" cy="497.6" r="2.9" fill="#8b4a00"/><circle cx="389.46" cy="497.6" r="2.9" fill="#8b4a00"/><circle cx="395.46" cy="497.6" r="2.9" fill="#ff9900"/><circle cx="390.96" cy="497.6" r="2.9" fill="#8b4a00"/><circle cx="393.96" cy="497.6" r="2.9" fill="#8b4a00"/><circle cx="392.46" cy="497.6" r="2.9" fill="#ff9900"/><circle cx="402.82" cy="497.6" r="2.9" fill="#ff9900"/><circle cx="408.82" cy="497.6" r="2.9" fill="#8b4a00"/><circle cx="404.32" cy="497.6" r="2.9" fill="#ff9900"/><circle cx="407.32" cy="497.6" r="2.9" fill="#8b4a00"/><circle cx="405.82" cy="497.6" r="2.9" fill="#ff9900"/><circle cx="415.68" cy="497.6" r="2.9" fill="#8b4a00"/><circle cx="422.68" cy="497.6" r="2.9" fill="#ff9900"/><circle cx="417.08" cy="497.6" r="2.9" fill="#8b4a00"/><circle cx="421.28" cy="497.6" r="2.9" fill="#ff9900"/><circle cx="418.48" cy="497.6" r="2.9" fill="#8b4a00"/><circle cx="419.88" cy="497.6" r="2.9" fill="#ff9900"/>
<path d="M486.65 604.86H493.55L490.1 610.86ZM490.1 627.06L493.55 633.06H486.65ZM500.01 620.76H506.91L503.46 626.76ZM503.46 623.6L506.91 629.6H500.01ZM514.87 605.96H521.77L518.32 611.96ZM517.82 611.98L521.27 617.98H514.37ZM525.73 595.45H532.63L529.18 601.45ZM529.18 593.45L532.63 599.45H525.73ZM541.09 584.11H547.99L544.54 590.11ZM545.54 594.84L548.99 600.84H542.09ZM551.45 554.1H558.35L554.9 560.1ZM559.4 542.01L562.85 548.01H555.95ZM570.51 506.11H577.41L573.96 512.11ZM570.26 499.13L573.71 505.13H566.81Z" fill="#f4ffb4"/>
<circle cx="489.4" cy="635.9" r="2.9" fill="#ccff00"/><circle cx="490.8" cy="635.9" r="2.9" fill="#ccff00"/><circle cx="504.34" cy="631.75" r="2.9" fill="#a8c830"/><circle cx="502.68" cy="633.83" r="2.9" fill="#6e8800"/><circle cx="503.73" cy="635.9" r="2.9" fill="#ccff00"/><circle cx="517.82" cy="620.83" r="2.9" fill="#eeffa8"/><circle cx="516.82" cy="626.22" r="2.9" fill="#eeffa8"/><circle cx="515.72" cy="628.99" r="2.9" fill="#a8c830"/><circle cx="517.61" cy="630.71" r="2.9" fill="#6e8800"/><circle cx="516.76" cy="632.44" r="2.9" fill="#6e8800"/><circle cx="516.12" cy="634.17" r="2.9" fill="#ccff00"/><circle cx="517.91" cy="635.9" r="2.9" fill="#6e8800"/><circle cx="531.68" cy="610.18" r="2.9" fill="#eeffa8"/><circle cx="529.68" cy="615.29" r="2.9" fill="#eeffa8"/><circle cx="531.53" cy="619.3" r="2.9" fill="#eeffa8"/><circle cx="529.44" cy="621.15" r="2.9" fill="#a8c830"/><circle cx="529.92" cy="622.99" r="2.9" fill="#eeffa8"/><circle cx="531.3" cy="624.84" r="2.9" fill="#a8c830"/><circle cx="528.79" cy="626.68" r="2.9" fill="#6e8800"/><circle cx="531.11" cy="628.52" r="2.9" fill="#a8c830"/><circle cx="530.2" cy="630.37" r="2.9" fill="#6e8800"/><circle cx="529.22" cy="632.21" r="2.9" fill="#6e8800"/><circle cx="531.58" cy="634.06" r="2.9" fill="#ccff00"/><circle cx="529.08" cy="635.9" r="2.9" fill="#6e8800"/><circle cx="542.14" cy="599.94" r="2.9" fill="#eeffa8"/><circle cx="544.04" cy="602.36" r="2.9" fill="#eeffa8"/><circle cx="544.2" cy="604.78" r="2.9" fill="#a8c830"/><circle cx="542.07" cy="607.2" r="2.9" fill="#eeffa8"/><circle cx="545.05" cy="609.62" r="2.9" fill="#a8c830"/><circle cx="542.79" cy="612.04" r="2.9" fill="#eeffa8"/><circle cx="543.14" cy="614.46" r="2.9" fill="#6e8800"/><circle cx="544.88" cy="616.88" r="2.9" fill="#a8c830"/><circle cx="541.96" cy="619.3" r="2.9" fill="#eeffa8"/><circle cx="544.52" cy="621.72" r="2.9" fill="#a8c830"/><circle cx="543.67" cy="624.14" r="2.9" fill="#6e8800"/><circle cx="542.36" cy="626.56" r="2.9" fill="#a8c830"/><circle cx="545.14" cy="628.99" r="2.9" fill="#eeffa8"/><circle cx="555.4" cy="546.97" r="2.9" fill="#eeffa8"/><circle cx="558.73" cy="511.43" r="2.9" fill="#eeffa8"/><circle cx="556.71" cy="513.24" r="2.9" fill="#a8c830"/><circle cx="555.35" cy="515.05" r="2.9" fill="#eeffa8"/><circle cx="559.37" cy="516.86" r="2.9" fill="#a8c830"/><circle cx="554.81" cy="518.66" r="2.9" fill="#eeffa8"/><circle cx="557.51" cy="520.47" r="2.9" fill="#a8c830"/><circle cx="558.09" cy="522.28" r="2.9" fill="#6e8800"/><circle cx="554.54" cy="524.09" r="2.9" fill="#a8c830"/><circle cx="559.19" cy="525.9" r="2.9" fill="#eeffa8"/><circle cx="555.88" cy="527.71" r="2.9" fill="#a8c830"/><circle cx="556.1" cy="529.52" r="2.9" fill="#6e8800"/><circle cx="559.09" cy="531.32" r="2.9" fill="#a8c830"/><circle cx="554.47" cy="533.13" r="2.9" fill="#eeffa8"/><circle cx="558.29" cy="534.94" r="2.9" fill="#a8c830"/><circle cx="567.26" cy="497.6" r="2.9" fill="#ccff00"/><circle cx="573.26" cy="497.6" r="2.9" fill="#6e8800"/><circle cx="568.76" cy="497.6" r="2.9" fill="#ccff00"/><circle cx="571.76" cy="497.6" r="2.9" fill="#6e8800"/><circle cx="570.26" cy="497.6" r="2.9" fill="#ccff00"/><circle cx="580.62" cy="497.6" r="2.9" fill="#6e8800"/><circle cx="586.62" cy="497.6" r="2.9" fill="#ccff00"/><circle cx="582.12" cy="497.6" r="2.9" fill="#6e8800"/><circle cx="585.12" cy="497.6" r="2.9" fill="#6e8800"/><circle cx="583.62" cy="497.6" r="2.9" fill="#ccff00"/><circle cx="593.48" cy="497.6" r="2.9" fill="#6e8800"/><circle cx="600.48" cy="497.6" r="2.9" fill="#ccff00"/><circle cx="594.88" cy="497.6" r="2.9" fill="#6e8800"/><circle cx="599.08" cy="497.6" r="2.9" fill="#6e8800"/><circle cx="596.28" cy="497.6" r="2.9" fill="#6e8800"/><circle cx="597.68" cy="497.6" r="2.9" fill="#ccff00"/>
<path d="M664.45 579.96H671.35L667.9 585.96ZM667.9 595.39L671.35 601.39H664.45ZM677.81 564.47H684.71L681.26 570.47ZM694.12 555.42L697.57 561.42H690.67ZM694.67 552.86H701.57L698.12 558.86ZM709.48 539.24L712.93 545.24H706.03ZM704.53 542.21H711.43L707.98 548.21ZM723.34 529.28L726.79 535.28H719.89ZM719.89 537.78H726.79L723.34 543.78ZM732.95 518.97H739.85L736.4 524.97ZM733.7 501.9L737.15 507.9H730.25ZM741.61 499.75H748.51L745.06 505.75ZM774.78 493.6L778.23 499.6H771.33Z" fill="#b8ffff"/>
<circle cx="668.49" cy="602.71" r="2.9" fill="#20c0c0"/><circle cx="667.21" cy="604.85" r="2.9" fill="#a0f4f4"/><circle cx="668.32" cy="606.98" r="2.9" fill="#20c0c0"/><circle cx="667.96" cy="609.12" r="2.9" fill="#007f7f"/><circle cx="667.38" cy="611.26" r="2.9" fill="#20c0c0"/><circle cx="668.6" cy="613.39" r="2.9" fill="#007f7f"/><circle cx="667.39" cy="615.53" r="2.9" fill="#20c0c0"/><circle cx="667.96" cy="617.67" r="2.9" fill="#007f7f"/><circle cx="668.33" cy="619.81" r="2.9" fill="#00ffff"/><circle cx="667.21" cy="621.94" r="2.9" fill="#007f7f"/><circle cx="668.49" cy="624.08" r="2.9" fill="#20c0c0"/><circle cx="667.73" cy="626.22" r="2.9" fill="#00ffff"/><circle cx="680.41" cy="577.81" r="2.9" fill="#a0f4f4"/><circle cx="682.08" cy="579.89" r="2.9" fill="#20c0c0"/><circle cx="680.9" cy="581.96" r="2.9" fill="#007f7f"/><circle cx="680.96" cy="584.04" r="2.9" fill="#00ffff"/><circle cx="682.05" cy="586.11" r="2.9" fill="#007f7f"/><circle cx="695.72" cy="529.41" r="2.9" fill="#007f7f"/><circle cx="693.75" cy="531.8" r="2.9" fill="#20c0c0"/><circle cx="694.8" cy="534.19" r="2.9" fill="#00ffff"/><circle cx="695.22" cy="536.58" r="2.9" fill="#20c0c0"/><circle cx="693.55" cy="538.96" r="2.9" fill="#007f7f"/><circle cx="695.59" cy="541.35" r="2.9" fill="#20c0c0"/><circle cx="694.25" cy="543.74" r="2.9" fill="#a0f4f4"/><circle cx="694.19" cy="546.13" r="2.9" fill="#20c0c0"/><circle cx="695.62" cy="548.52" r="2.9" fill="#007f7f"/><circle cx="693.58" cy="550.91" r="2.9" fill="#00ffff"/><circle cx="695.16" cy="553.3" r="2.9" fill="#007f7f"/><circle cx="694.87" cy="555.69" r="2.9" fill="#20c0c0"/><circle cx="706.6" cy="505.9" r="2.9" fill="#a0f4f4"/><circle cx="708.85" cy="508.45" r="2.9" fill="#20c0c0"/><circle cx="708.08" cy="511" r="2.9" fill="#a0f4f4"/><circle cx="706.96" cy="513.56" r="2.9" fill="#20c0c0"/><circle cx="709.38" cy="516.11" r="2.9" fill="#00ffff"/><circle cx="706.94" cy="518.66" r="2.9" fill="#20c0c0"/><circle cx="708.12" cy="521.22" r="2.9" fill="#007f7f"/><circle cx="708.82" cy="523.77" r="2.9" fill="#20c0c0"/><circle cx="706.6" cy="526.32" r="2.9" fill="#a0f4f4"/><circle cx="709.17" cy="528.88" r="2.9" fill="#20c0c0"/><circle cx="707.61" cy="531.43" r="2.9" fill="#007f7f"/><circle cx="707.34" cy="533.98" r="2.9" fill="#20c0c0"/><circle cx="709.29" cy="536.54" r="2.9" fill="#00ffff"/><circle cx="706.68" cy="539.09" r="2.9" fill="#20c0c0"/><circle cx="722.81" cy="498.98" r="2.9" fill="#a0f4f4"/><circle cx="720.68" cy="501.37" r="2.9" fill="#20c0c0"/><circle cx="720.84" cy="503.76" r="2.9" fill="#a0f4f4"/><circle cx="722.73" cy="506.15" r="2.9" fill="#20c0c0"/><circle cx="719.78" cy="508.54" r="2.9" fill="#007f7f"/><circle cx="722.24" cy="510.93" r="2.9" fill="#20c0c0"/><circle cx="721.57" cy="513.32" r="2.9" fill="#007f7f"/><circle cx="720.1" cy="515.7" r="2.9" fill="#00ffff"/><circle cx="722.94" cy="518.09" r="2.9" fill="#007f7f"/><circle cx="720.23" cy="520.48" r="2.9" fill="#20c0c0"/><circle cx="721.38" cy="522.87" r="2.9" fill="#00ffff"/><circle cx="722.39" cy="525.26" r="2.9" fill="#007f7f"/><circle cx="732.2" cy="497.6" r="2.9" fill="#007f7f"/><circle cx="737.2" cy="497.6" r="2.9" fill="#00ffff"/><circle cx="733.45" cy="497.6" r="2.9" fill="#007f7f"/><circle cx="735.95" cy="497.6" r="2.9" fill="#007f7f"/><circle cx="734.7" cy="497.6" r="2.9" fill="#00ffff"/><circle cx="745.06" cy="497.6" r="2.9" fill="#007f7f"/><circle cx="751.06" cy="497.6" r="2.9" fill="#00ffff"/><circle cx="746.56" cy="497.6" r="2.9" fill="#007f7f"/><circle cx="749.56" cy="497.6" r="2.9" fill="#007f7f"/><circle cx="748.06" cy="497.6" r="2.9" fill="#00ffff"/><circle cx="758.42" cy="497.6" r="2.9" fill="#007f7f"/><circle cx="764.42" cy="497.6" r="2.9" fill="#00ffff"/><circle cx="759.92" cy="497.6" r="2.9" fill="#007f7f"/><circle cx="762.92" cy="497.6" r="2.9" fill="#007f7f"/><circle cx="761.42" cy="497.6" r="2.9" fill="#00ffff"/><circle cx="771.28" cy="497.6" r="2.9" fill="#007f7f"/><circle cx="778.28" cy="497.6" r="2.9" fill="#00ffff"/><circle cx="772.68" cy="497.6" r="2.9" fill="#007f7f"/><circle cx="776.88" cy="497.6" r="2.9" fill="#007f7f"/><circle cx="774.08" cy="497.6" r="2.9" fill="#007f7f"/><circle cx="775.48" cy="497.6" r="2.9" fill="#00ffff"/>
<path d="M842.25 596.7H849.15L845.7 602.7ZM845.7 601.47L849.15 607.47H842.25ZM856.61 570.01H863.51L860.06 576.01ZM858.56 580.87L862.01 586.87H855.11ZM870.97 576.64H877.87L874.42 582.64ZM882.83 556.73H889.73L886.28 562.73ZM885.78 549.2L889.23 555.2H882.33ZM893.69 542.76H900.59L897.14 548.76ZM899.64 534.26L903.09 540.26H896.19ZM911.05 517.87H917.95L914.5 523.87ZM914 503.14L917.45 509.14H910.55Z" fill="#b8d4ff"/>
<circle cx="845.7" cy="615.85" r="2.9" fill="#a8c8ff"/><circle cx="845.15" cy="623.45" r="2.9" fill="#a8c8ff"/><circle cx="846.4" cy="625.94" r="2.9" fill="#3070d8"/><circle cx="845.22" cy="628.43" r="2.9" fill="#003090"/><circle cx="845.71" cy="630.92" r="2.9" fill="#3070d8"/><circle cx="846.16" cy="633.41" r="2.9" fill="#003090"/><circle cx="845" cy="635.9" r="2.9" fill="#0a6eff"/><circle cx="860.06" cy="588.6" r="2.9" fill="#a8c8ff"/><circle cx="859.06" cy="594.13" r="2.9" fill="#a8c8ff"/><circle cx="859.88" cy="599.94" r="2.9" fill="#3070d8"/><circle cx="858.2" cy="602.09" r="2.9" fill="#003090"/><circle cx="859.51" cy="604.24" r="2.9" fill="#3070d8"/><circle cx="859.26" cy="606.4" r="2.9" fill="#0a6eff"/><circle cx="858.32" cy="608.55" r="2.9" fill="#003090"/><circle cx="859.95" cy="610.7" r="2.9" fill="#3070d8"/><circle cx="858.49" cy="612.85" r="2.9" fill="#003090"/><circle cx="859.01" cy="615" r="2.9" fill="#0a6eff"/><circle cx="859.7" cy="617.15" r="2.9" fill="#003090"/><circle cx="858.16" cy="619.3" r="2.9" fill="#3070d8"/><circle cx="871.34" cy="563.98" r="2.9" fill="#003090"/><circle cx="873.36" cy="565.37" r="2.9" fill="#3070d8"/><circle cx="872.12" cy="566.75" r="2.9" fill="#0a6eff"/><circle cx="871.93" cy="568.13" r="2.9" fill="#003090"/><circle cx="873.45" cy="569.52" r="2.9" fill="#3070d8"/><circle cx="871.4" cy="570.9" r="2.9" fill="#003090"/><circle cx="887.18" cy="518.35" r="2.9" fill="#a8c8ff"/><circle cx="884.8" cy="520.47" r="2.9" fill="#3070d8"/><circle cx="885.83" cy="522.6" r="2.9" fill="#a8c8ff"/><circle cx="886.69" cy="524.73" r="2.9" fill="#0a6eff"/><circle cx="884.39" cy="526.86" r="2.9" fill="#003090"/><circle cx="886.92" cy="528.98" r="2.9" fill="#3070d8"/><circle cx="885.49" cy="531.11" r="2.9" fill="#003090"/><circle cx="885.06" cy="533.24" r="2.9" fill="#3070d8"/><circle cx="887.12" cy="535.37" r="2.9" fill="#0a6eff"/><circle cx="884.52" cy="537.49" r="2.9" fill="#003090"/><circle cx="886.3" cy="539.62" r="2.9" fill="#3070d8"/><circle cx="886.28" cy="541.75" r="2.9" fill="#a8c8ff"/><circle cx="884.53" cy="543.88" r="2.9" fill="#003090"/><circle cx="887.13" cy="546.01" r="2.9" fill="#3070d8"/><circle cx="897.61" cy="501.75" r="2.9" fill="#a8c8ff"/><circle cx="899.96" cy="504.09" r="2.9" fill="#3070d8"/><circle cx="899.47" cy="506.43" r="2.9" fill="#a8c8ff"/><circle cx="897.84" cy="508.77" r="2.9" fill="#3070d8"/><circle cx="900.73" cy="511.11" r="2.9" fill="#003090"/><circle cx="898.1" cy="513.45" r="2.9" fill="#3070d8"/><circle cx="899.08" cy="515.79" r="2.9" fill="#a8c8ff"/><circle cx="900.26" cy="518.13" r="2.9" fill="#3070d8"/><circle cx="897.54" cy="520.47" r="2.9" fill="#003090"/><circle cx="900.37" cy="522.81" r="2.9" fill="#3070d8"/><circle cx="898.92" cy="525.15" r="2.9" fill="#003090"/><circle cx="898.23" cy="527.49" r="2.9" fill="#0a6eff"/><circle cx="900.7" cy="529.83" r="2.9" fill="#003090"/><circle cx="897.75" cy="532.18" r="2.9" fill="#0a6eff"/><circle cx="911.5" cy="502.44" r="2.9" fill="#a8c8ff"/><circle cx="910" cy="497.6" r="2.9" fill="#003090"/><circle cx="915" cy="497.6" r="2.9" fill="#0a6eff"/><circle cx="911.25" cy="497.6" r="2.9" fill="#003090"/><circle cx="913.75" cy="497.6" r="2.9" fill="#003090"/><circle cx="912.5" cy="497.6" r="2.9" fill="#0a6eff"/><circle cx="922.86" cy="497.6" r="2.9" fill="#003090"/><circle cx="928.86" cy="497.6" r="2.9" fill="#0a6eff"/><circle cx="924.36" cy="497.6" r="2.9" fill="#003090"/><circle cx="927.36" cy="497.6" r="2.9" fill="#003090"/><circle cx="925.86" cy="497.6" r="2.9" fill="#0a6eff"/><circle cx="936.22" cy="497.6" r="2.9" fill="#003090"/><circle cx="942.22" cy="497.6" r="2.9" fill="#0a6eff"/><circle cx="937.42" cy="497.6" r="2.9" fill="#003090"/><circle cx="941.02" cy="497.6" r="2.9" fill="#003090"/><circle cx="938.62" cy="497.6" r="2.9" fill="#003090"/><circle cx="939.82" cy="497.6" r="2.9" fill="#0a6eff"/><circle cx="949.08" cy="497.6" r="2.9" fill="#003090"/><circle cx="956.08" cy="497.6" r="2.9" fill="#0a6eff"/><circle cx="950.48" cy="497.6" r="2.9" fill="#003090"/><circle cx="954.68" cy="497.6" r="2.9" fill="#003090"/><circle cx="951.88" cy="497.6" r="2.9" fill="#003090"/><circle cx="953.28" cy="497.6" r="2.9" fill="#0a6eff"/>
<path d="M1020.05 633.9H1026.95L1023.5 639.9ZM1023.5 631.9L1026.95 637.9H1020.05ZM1033.41 633.9H1040.31L1036.86 639.9ZM1036.86 631.9L1040.31 637.9H1033.41ZM1046.77 617.86H1053.67L1050.22 623.86ZM1050.22 629.83L1053.67 635.83H1046.77ZM1060.13 624.22H1067.03L1063.58 630.22ZM1063.58 627.47L1067.03 633.47H1060.13ZM1074.49 609.42H1081.39L1077.94 615.42ZM1076.94 625.4L1080.39 631.4H1073.49ZM1085.85 600.02H1092.75L1089.3 606.02ZM1090.3 603.13L1093.75 609.13H1086.85ZM1100.21 537.78H1107.11L1103.66 543.78ZM1103.66 522.64L1107.11 528.64H1100.21ZM1118.07 500.44H1124.97L1121.52 506.44ZM1134.38 493.6L1137.83 499.6H1130.93Z" fill="#c8c0ff"/>
<circle cx="1023.5" cy="635.9" r="2.9" fill="#3300ff"/><circle cx="1036.86" cy="635.9" r="2.9" fill="#3300ff"/><circle cx="1049.12" cy="635.9" r="2.9" fill="#3300ff"/><circle cx="1051.32" cy="635.9" r="2.9" fill="#1a0090"/><circle cx="1062.18" cy="635.9" r="2.9" fill="#1a0090"/><circle cx="1064.98" cy="635.9" r="2.9" fill="#3300ff"/><circle cx="1063.58" cy="635.9" r="2.9" fill="#1a0090"/><circle cx="1075.34" cy="635.9" r="2.9" fill="#1a0090"/><circle cx="1078.54" cy="635.9" r="2.9" fill="#3300ff"/><circle cx="1076.94" cy="635.9" r="2.9" fill="#1a0090"/><circle cx="1092.3" cy="612.39" r="2.9" fill="#b0a4ff"/><circle cx="1091.3" cy="619.72" r="2.9" fill="#6a50f0"/><circle cx="1088.02" cy="622.07" r="2.9" fill="#b0a4ff"/><circle cx="1091.28" cy="624.05" r="2.9" fill="#6a50f0"/><circle cx="1091.13" cy="626.02" r="2.9" fill="#1a0090"/><circle cx="1088.09" cy="628" r="2.9" fill="#6a50f0"/><circle cx="1092.72" cy="629.97" r="2.9" fill="#1a0090"/><circle cx="1088.94" cy="631.95" r="2.9" fill="#3300ff"/><circle cx="1089.88" cy="633.92" r="2.9" fill="#1a0090"/><circle cx="1092.28" cy="635.9" r="2.9" fill="#1a0090"/><circle cx="1103.66" cy="519.73" r="2.9" fill="#b0a4ff"/><circle cx="1105.66" cy="515.3" r="2.9" fill="#b0a4ff"/><circle cx="1102.66" cy="511.43" r="2.9" fill="#b0a4ff"/><circle cx="1106.02" cy="497.6" r="2.9" fill="#b0a4ff"/><circle cx="1103.18" cy="498.83" r="2.9" fill="#6a50f0"/><circle cx="1102.01" cy="500.06" r="2.9" fill="#1a0090"/><circle cx="1106.57" cy="501.29" r="2.9" fill="#6a50f0"/><circle cx="1101.02" cy="502.52" r="2.9" fill="#1a0090"/><circle cx="1104.64" cy="503.75" r="2.9" fill="#3300ff"/><circle cx="1104.86" cy="504.98" r="2.9" fill="#1a0090"/><circle cx="1100.92" cy="506.21" r="2.9" fill="#6a50f0"/><circle cx="1106.5" cy="507.43" r="2.9" fill="#1a0090"/><circle cx="1102.21" cy="508.66" r="2.9" fill="#3300ff"/><circle cx="1114.02" cy="497.6" r="2.9" fill="#1a0090"/><circle cx="1120.02" cy="497.6" r="2.9" fill="#3300ff"/><circle cx="1115.52" cy="497.6" r="2.9" fill="#1a0090"/><circle cx="1118.52" cy="497.6" r="2.9" fill="#1a0090"/><circle cx="1117.02" cy="497.6" r="2.9" fill="#3300ff"/><circle cx="1126.88" cy="497.6" r="2.9" fill="#1a0090"/><circle cx="1133.88" cy="497.6" r="2.9" fill="#3300ff"/><circle cx="1128.28" cy="497.6" r="2.9" fill="#1a0090"/><circle cx="1132.48" cy="497.6" r="2.9" fill="#3300ff"/><circle cx="1129.68" cy="497.6" r="2.9" fill="#1a0090"/><circle cx="1131.08" cy="497.6" r="2.9" fill="#3300ff"/>
<path d="M134.5 787.15L137.95 793.15H131.05ZM131.05 795.65H137.95L134.5 801.65ZM149.36 758.52L152.81 764.52H145.91ZM156.77 760.11H163.67L160.22 766.11ZM160.22 741.51L163.67 747.51H156.77ZM171.13 739.91H178.03L174.58 745.91ZM174.58 727.68L178.03 733.68H171.13ZM182.49 727.33H189.39L185.94 733.33ZM188.44 718.28L191.89 724.28H184.99ZM197.85 714.19H204.75L201.3 720.19Z" fill="#ffb6c1"/>
<circle cx="133.86" cy="808.16" r="2.9" fill="#d02020"/><circle cx="134.77" cy="810.67" r="2.9" fill="#8b0000"/><circle cx="134.74" cy="813.19" r="2.9" fill="#d02020"/><circle cx="133.88" cy="815.7" r="2.9" fill="#8b0000"/><circle cx="135.18" cy="818.22" r="2.9" fill="#d02020"/><circle cx="134.12" cy="820.73" r="2.9" fill="#8b0000"/><circle cx="134.38" cy="823.25" r="2.9" fill="#ff0000"/><circle cx="135.05" cy="825.76" r="2.9" fill="#8b0000"/><circle cx="133.8" cy="828.28" r="2.9" fill="#d02020"/><circle cx="134.97" cy="830.79" r="2.9" fill="#8b0000"/><circle cx="134.5" cy="833.31" r="2.9" fill="#d02020"/><circle cx="134.03" cy="835.82" r="2.9" fill="#8b0000"/><circle cx="148.57" cy="737.63" r="2.9" fill="#8b0000"/><circle cx="147.72" cy="739.89" r="2.9" fill="#d02020"/><circle cx="147.36" cy="742.15" r="2.9" fill="#8b0000"/><circle cx="148.73" cy="744.42" r="2.9" fill="#d02020"/><circle cx="147.07" cy="746.68" r="2.9" fill="#ff0000"/><circle cx="148.15" cy="748.94" r="2.9" fill="#8b0000"/><circle cx="148.22" cy="751.21" r="2.9" fill="#d02020"/><circle cx="147.04" cy="753.47" r="2.9" fill="#8b0000"/><circle cx="148.71" cy="755.73" r="2.9" fill="#d02020"/><circle cx="147.43" cy="757.99" r="2.9" fill="#8b0000"/><circle cx="147.64" cy="760.26" r="2.9" fill="#ff0000"/><circle cx="148.61" cy="762.52" r="2.9" fill="#8b0000"/><circle cx="162.22" cy="737.63" r="2.9" fill="#f4a0a0"/><circle cx="161.22" cy="732.1" r="2.9" fill="#f4a0a0"/><circle cx="162.22" cy="726.98" r="2.9" fill="#f4a0a0"/><circle cx="160.72" cy="721.03" r="2.9" fill="#f4a0a0"/><circle cx="160.3" cy="711.35" r="2.9" fill="#8b0000"/><circle cx="161.1" cy="713.33" r="2.9" fill="#ff0000"/><circle cx="162.32" cy="715.3" r="2.9" fill="#d02020"/><circle cx="159.72" cy="717.28" r="2.9" fill="#8b0000"/><circle cx="162.33" cy="719.25" r="2.9" fill="#ff0000"/><circle cx="161.09" cy="721.23" r="2.9" fill="#8b0000"/><circle cx="160.31" cy="723.2" r="2.9" fill="#d02020"/><circle cx="162.7" cy="725.18" r="2.9" fill="#ff0000"/><circle cx="175.58" cy="722" r="2.9" fill="#f4a0a0"/><circle cx="174.58" cy="718.68" r="2.9" fill="#f4a0a0"/><circle cx="175.39" cy="711.35" r="2.9" fill="#8b0000"/><circle cx="175.22" cy="712.18" r="2.9" fill="#ff0000"/><circle cx="172.83" cy="713.01" r="2.9" fill="#8b0000"/><circle cx="176.52" cy="713.84" r="2.9" fill="#ff0000"/><circle cx="173.47" cy="714.67" r="2.9" fill="#8b0000"/><circle cx="174.27" cy="715.5" r="2.9" fill="#d02020"/><circle cx="187.94" cy="715.91" r="2.9" fill="#f4a0a0"/><circle cx="186.34" cy="711.35" r="2.9" fill="#8b0000"/><circle cx="189.54" cy="711.35" r="2.9" fill="#ff0000"/><circle cx="187.14" cy="711.35" r="2.9" fill="#8b0000"/><circle cx="188.74" cy="711.35" r="2.9" fill="#8b0000"/><circle cx="187.94" cy="711.35" r="2.9" fill="#ff0000"/><circle cx="198.8" cy="711.35" r="2.9" fill="#8b0000"/><circle cx="203.8" cy="711.35" r="2.9" fill="#ff0000"/><circle cx="200.05" cy="711.35" r="2.9" fill="#8b0000"/><circle cx="202.55" cy="711.35" r="2.9" fill="#8b0000"/><circle cx="201.3" cy="711.35" r="2.9" fill="#ff0000"/><circle cx="211.66" cy="711.35" r="2.9" fill="#8b0000"/><circle cx="217.66" cy="711.35" r="2.9" fill="#ff0000"/><circle cx="213.16" cy="711.35" r="2.9" fill="#8b0000"/><circle cx="216.16" cy="711.35" r="2.9" fill="#8b0000"/><circle cx="214.66" cy="711.35" r="2.9" fill="#ff0000"/><circle cx="225.02" cy="711.35" r="2.9" fill="#8b0000"/><circle cx="231.02" cy="711.35" r="2.9" fill="#ff0000"/><circle cx="226.22" cy="711.35" r="2.9" fill="#8b0000"/><circle cx="229.82" cy="711.35" r="2.9" fill="#8b0000"/><circle cx="227.42" cy="711.35" r="2.9" fill="#8b0000"/><circle cx="228.62" cy="711.35" r="2.9" fill="#ff0000"/><circle cx="237.88" cy="711.35" r="2.9" fill="#8b0000"/><circle cx="244.88" cy="711.35" r="2.9" fill="#ff0000"/><circle cx="239.28" cy="711.35" r="2.9" fill="#8b0000"/><circle cx="243.48" cy="711.35" r="2.9" fill="#8b0000"/><circle cx="240.68" cy="711.35" r="2.9" fill="#8b0000"/><circle cx="242.08" cy="711.35" r="2.9" fill="#ff0000"/>
<path d="M312.3 778.71L315.75 784.71H308.85ZM322.21 763.98H329.11L325.66 769.98ZM325.66 744.28L329.11 750.28H322.21ZM334.57 735.63H341.47L338.02 741.63ZM339.52 724.36L342.97 730.36H336.07ZM350.43 734.52H357.33L353.88 740.52ZM352.38 719.38L355.83 725.38H348.93ZM364.79 720.14H371.69L368.24 726.14ZM363.74 715.65L367.19 721.65H360.29ZM379.1 707.35L382.55 713.35H375.65Z" fill="#ffe4b5"/>
<circle cx="312.3" cy="777.04" r="2.9" fill="#ffd8a0"/><circle cx="312.96" cy="761.14" r="2.9" fill="#8b4a00"/><circle cx="311.96" cy="762.72" r="2.9" fill="#d07a10"/><circle cx="312.14" cy="764.3" r="2.9" fill="#8b4a00"/><circle cx="312.88" cy="765.88" r="2.9" fill="#ff9900"/><circle cx="311.61" cy="767.46" r="2.9" fill="#8b4a00"/><circle cx="312.74" cy="769.04" r="2.9" fill="#d07a10"/><circle cx="312.34" cy="770.62" r="2.9" fill="#8b4a00"/><circle cx="311.8" cy="772.2" r="2.9" fill="#ff9900"/><circle cx="325.66" cy="739.01" r="2.9" fill="#ffd8a0"/><circle cx="325.66" cy="734.86" r="2.9" fill="#ffd8a0"/><circle cx="324.9" cy="714.12" r="2.9" fill="#ffd8a0"/><circle cx="325.9" cy="715.88" r="2.9" fill="#d07a10"/><circle cx="326.07" cy="717.64" r="2.9" fill="#8b4a00"/><circle cx="324.82" cy="719.4" r="2.9" fill="#d07a10"/><circle cx="326.49" cy="721.16" r="2.9" fill="#8b4a00"/><circle cx="325.28" cy="722.92" r="2.9" fill="#ff9900"/><circle cx="325.39" cy="724.68" r="2.9" fill="#8b4a00"/><circle cx="326.44" cy="726.44" r="2.9" fill="#d07a10"/><circle cx="324.78" cy="728.2" r="2.9" fill="#8b4a00"/><circle cx="326.18" cy="729.96" r="2.9" fill="#ff9900"/><circle cx="325.78" cy="731.72" r="2.9" fill="#d07a10"/><circle cx="324.97" cy="733.48" r="2.9" fill="#ff9900"/><circle cx="339.02" cy="722.41" r="2.9" fill="#ffd8a0"/><circle cx="339.02" cy="718.96" r="2.9" fill="#ffd8a0"/><circle cx="339.78" cy="711.35" r="2.9" fill="#8b4a00"/><circle cx="338.99" cy="712.46" r="2.9" fill="#ff9900"/><circle cx="338.3" cy="713.56" r="2.9" fill="#d07a10"/><circle cx="340.11" cy="714.67" r="2.9" fill="#8b4a00"/><circle cx="338.13" cy="715.78" r="2.9" fill="#ff9900"/><circle cx="339.24" cy="716.88" r="2.9" fill="#8b4a00"/><circle cx="352.38" cy="715.5" r="2.9" fill="#ffd8a0"/><circle cx="350.98" cy="711.35" r="2.9" fill="#8b4a00"/><circle cx="353.78" cy="711.35" r="2.9" fill="#ff9900"/><circle cx="351.91" cy="711.35" r="2.9" fill="#8b4a00"/><circle cx="352.85" cy="711.35" r="2.9" fill="#ff9900"/><circle cx="364.14" cy="711.35" r="2.9" fill="#8b4a00"/><circle cx="367.34" cy="711.35" r="2.9" fill="#ff9900"/><circle cx="364.94" cy="711.35" r="2.9" fill="#8b4a00"/><circle cx="366.54" cy="711.35" r="2.9" fill="#8b4a00"/><circle cx="365.74" cy="711.35" r="2.9" fill="#ff9900"/><circle cx="376.6" cy="711.35" r="2.9" fill="#8b4a00"/><circle cx="381.6" cy="711.35" r="2.9" fill="#ff9900"/><circle cx="377.85" cy="711.35" r="2.9" fill="#8b4a00"/><circle cx="380.35" cy="711.35" r="2.9" fill="#8b4a00"/><circle cx="379.1" cy="711.35" r="2.9" fill="#ff9900"/><circle cx="389.46" cy="711.35" r="2.9" fill="#ff9900"/><circle cx="395.46" cy="711.35" r="2.9" fill="#8b4a00"/><circle cx="390.96" cy="711.35" r="2.9" fill="#ff9900"/><circle cx="393.96" cy="711.35" r="2.9" fill="#8b4a00"/><circle cx="392.46" cy="711.35" r="2.9" fill="#ff9900"/><circle cx="402.82" cy="711.35" r="2.9" fill="#ff9900"/><circle cx="408.82" cy="711.35" r="2.9" fill="#8b4a00"/><circle cx="404.32" cy="711.35" r="2.9" fill="#ff9900"/><circle cx="407.32" cy="711.35" r="2.9" fill="#8b4a00"/><circle cx="405.82" cy="711.35" r="2.9" fill="#ff9900"/><circle cx="415.68" cy="711.35" r="2.9" fill="#8b4a00"/><circle cx="422.68" cy="711.35" r="2.9" fill="#ff9900"/><circle cx="417.08" cy="711.35" r="2.9" fill="#8b4a00"/><circle cx="421.28" cy="711.35" r="2.9" fill="#ff9900"/><circle cx="418.48" cy="711.35" r="2.9" fill="#8b4a00"/><circle cx="419.88" cy="711.35" r="2.9" fill="#ff9900"/>
<path d="M486.65 805.05H493.55L490.1 811.05ZM490.1 832.1L493.55 838.1H486.65ZM500.01 823.72H506.91L503.46 829.72ZM503.46 828.22L506.91 834.22H500.01ZM516.82 798.21L520.27 804.21H513.37ZM513.37 802.01H520.27L516.82 808.01ZM531.18 772.63L534.63 778.63H527.73ZM524.23 783.48H531.13L527.68 789.48ZM538.09 766.19H544.99L541.54 772.19ZM545.04 767.65L548.49 773.65H541.59ZM553.45 733.41H560.35L556.9 739.41ZM555.4 719.94L558.85 725.94H551.95ZM564.31 713.5H571.21L567.76 719.5Z" fill="#f4ffb4"/>
<circle cx="490.1" cy="845.5" r="2.9" fill="#eeffa8"/><circle cx="489.42" cy="848.27" r="2.9" fill="#a8c830"/><circle cx="490.51" cy="849.65" r="2.9" fill="#ccff00"/><circle cx="504.27" cy="835.82" r="2.9" fill="#eeffa8"/><circle cx="503.13" cy="837.8" r="2.9" fill="#eeffa8"/><circle cx="503.14" cy="839.77" r="2.9" fill="#a8c830"/><circle cx="504.27" cy="841.75" r="2.9" fill="#eeffa8"/><circle cx="502.6" cy="843.72" r="2.9" fill="#6e8800"/><circle cx="503.93" cy="845.7" r="2.9" fill="#a8c830"/><circle cx="503.63" cy="847.67" r="2.9" fill="#6e8800"/><circle cx="502.73" cy="849.65" r="2.9" fill="#ccff00"/><circle cx="516.82" cy="809.54" r="2.9" fill="#eeffa8"/><circle cx="515.97" cy="817.84" r="2.9" fill="#eeffa8"/><circle cx="516.97" cy="820.1" r="2.9" fill="#a8c830"/><circle cx="517.45" cy="822.37" r="2.9" fill="#eeffa8"/><circle cx="515.75" cy="824.63" r="2.9" fill="#a8c830"/><circle cx="517.77" cy="826.89" r="2.9" fill="#6e8800"/><circle cx="516.49" cy="829.16" r="2.9" fill="#a8c830"/><circle cx="516.35" cy="831.42" r="2.9" fill="#6e8800"/><circle cx="517.84" cy="833.68" r="2.9" fill="#a8c830"/><circle cx="515.79" cy="835.95" r="2.9" fill="#6e8800"/><circle cx="517.32" cy="838.21" r="2.9" fill="#ccff00"/><circle cx="517.11" cy="840.47" r="2.9" fill="#a8c830"/><circle cx="515.89" cy="842.74" r="2.9" fill="#6e8800"/><circle cx="531.01" cy="784.65" r="2.9" fill="#eeffa8"/><circle cx="530.33" cy="786.62" r="2.9" fill="#a8c830"/><circle cx="529.13" cy="788.6" r="2.9" fill="#6e8800"/><circle cx="531.58" cy="790.58" r="2.9" fill="#a8c830"/><circle cx="529.17" cy="792.55" r="2.9" fill="#6e8800"/><circle cx="530.27" cy="794.53" r="2.9" fill="#a8c830"/><circle cx="531.06" cy="796.5" r="2.9" fill="#6e8800"/><circle cx="528.8" cy="798.48" r="2.9" fill="#6e8800"/><circle cx="542.93" cy="743.16" r="2.9" fill="#eeffa8"/><circle cx="542.99" cy="745.3" r="2.9" fill="#a8c830"/><circle cx="544.96" cy="747.43" r="2.9" fill="#eeffa8"/><circle cx="542" cy="749.57" r="2.9" fill="#a8c830"/><circle cx="544.4" cy="751.71" r="2.9" fill="#eeffa8"/><circle cx="543.82" cy="753.85" r="2.9" fill="#a8c830"/><circle cx="542.27" cy="755.98" r="2.9" fill="#6e8800"/><circle cx="545.13" cy="758.12" r="2.9" fill="#a8c830"/><circle cx="542.47" cy="760.26" r="2.9" fill="#eeffa8"/><circle cx="543.53" cy="762.4" r="2.9" fill="#a8c830"/><circle cx="544.63" cy="764.53" r="2.9" fill="#eeffa8"/><circle cx="541.95" cy="766.67" r="2.9" fill="#a8c830"/><circle cx="557.9" cy="718.27" r="2.9" fill="#eeffa8"/><circle cx="554.4" cy="711.35" r="2.9" fill="#6e8800"/><circle cx="559.4" cy="711.35" r="2.9" fill="#ccff00"/><circle cx="555.65" cy="711.35" r="2.9" fill="#6e8800"/><circle cx="558.15" cy="711.35" r="2.9" fill="#6e8800"/><circle cx="556.9" cy="711.35" r="2.9" fill="#ccff00"/><circle cx="567.26" cy="711.35" r="2.9" fill="#6e8800"/><circle cx="573.26" cy="711.35" r="2.9" fill="#ccff00"/><circle cx="568.76" cy="711.35" r="2.9" fill="#6e8800"/><circle cx="571.76" cy="711.35" r="2.9" fill="#6e8800"/><circle cx="570.26" cy="711.35" r="2.9" fill="#ccff00"/><circle cx="580.62" cy="711.35" r="2.9" fill="#6e8800"/><circle cx="586.62" cy="711.35" r="2.9" fill="#ccff00"/><circle cx="582.12" cy="711.35" r="2.9" fill="#6e8800"/><circle cx="585.12" cy="711.35" r="2.9" fill="#6e8800"/><circle cx="583.62" cy="711.35" r="2.9" fill="#ccff00"/><circle cx="593.48" cy="711.35" r="2.9" fill="#6e8800"/><circle cx="600.48" cy="711.35" r="2.9" fill="#ccff00"/><circle cx="594.88" cy="711.35" r="2.9" fill="#6e8800"/><circle cx="599.08" cy="711.35" r="2.9" fill="#eeffa8"/><circle cx="596.28" cy="711.35" r="2.9" fill="#6e8800"/><circle cx="597.68" cy="711.35" r="2.9" fill="#ccff00"/>
<path d="M667.9 778.16L671.35 784.16H664.45ZM678.31 747.38H685.21L681.76 753.38ZM681.26 743.31L684.71 749.31H677.81ZM693.17 735.63H700.07L696.62 741.63ZM694.62 727.68L698.07 733.68H691.17ZM704.53 727.88H711.43L707.98 733.88ZM709.48 718.28L712.93 724.28H706.03ZM717.39 721.8H724.29L720.84 727.8ZM720.34 713.57L723.79 719.57H716.89ZM733.25 713.5H740.15L736.7 719.5Z" fill="#b8ffff"/>
<circle cx="667.9" cy="774.97" r="2.9" fill="#a0f4f4"/><circle cx="668.6" cy="758.37" r="2.9" fill="#007f7f"/><circle cx="667.44" cy="759.95" r="2.9" fill="#20c0c0"/><circle cx="667.89" cy="761.53" r="2.9" fill="#007f7f"/><circle cx="668.38" cy="763.11" r="2.9" fill="#00ffff"/><circle cx="667.2" cy="764.69" r="2.9" fill="#007f7f"/><circle cx="668.45" cy="766.27" r="2.9" fill="#20c0c0"/><circle cx="667.79" cy="767.86" r="2.9" fill="#007f7f"/><circle cx="667.51" cy="769.44" r="2.9" fill="#00ffff"/><circle cx="680.41" cy="714.12" r="2.9" fill="#a0f4f4"/><circle cx="681.68" cy="716.56" r="2.9" fill="#20c0c0"/><circle cx="681.49" cy="719.01" r="2.9" fill="#a0f4f4"/><circle cx="680.5" cy="721.46" r="2.9" fill="#20c0c0"/><circle cx="682.15" cy="723.9" r="2.9" fill="#007f7f"/><circle cx="680.71" cy="726.35" r="2.9" fill="#20c0c0"/><circle cx="681.18" cy="728.8" r="2.9" fill="#007f7f"/><circle cx="681.92" cy="731.24" r="2.9" fill="#20c0c0"/><circle cx="680.36" cy="733.69" r="2.9" fill="#007f7f"/><circle cx="681.92" cy="736.14" r="2.9" fill="#20c0c0"/><circle cx="681.18" cy="738.58" r="2.9" fill="#007f7f"/><circle cx="680.71" cy="741.03" r="2.9" fill="#00ffff"/><circle cx="682.15" cy="743.48" r="2.9" fill="#20c0c0"/><circle cx="680.5" cy="745.93" r="2.9" fill="#00ffff"/><circle cx="694.62" cy="724.21" r="2.9" fill="#a0f4f4"/><circle cx="694.62" cy="720.34" r="2.9" fill="#a0f4f4"/><circle cx="695.54" cy="711.35" r="2.9" fill="#a0f4f4"/><circle cx="694.36" cy="712.46" r="2.9" fill="#007f7f"/><circle cx="694.09" cy="713.56" r="2.9" fill="#00ffff"/><circle cx="695.66" cy="714.67" r="2.9" fill="#007f7f"/><circle cx="693.61" cy="715.78" r="2.9" fill="#00ffff"/><circle cx="695.06" cy="716.88" r="2.9" fill="#007f7f"/><circle cx="707.98" cy="716.19" r="2.9" fill="#a0f4f4"/><circle cx="706.58" cy="711.35" r="2.9" fill="#007f7f"/><circle cx="709.38" cy="711.35" r="2.9" fill="#00ffff"/><circle cx="707.51" cy="711.35" r="2.9" fill="#007f7f"/><circle cx="708.45" cy="711.35" r="2.9" fill="#00ffff"/><circle cx="719.74" cy="711.35" r="2.9" fill="#007f7f"/><circle cx="722.94" cy="711.35" r="2.9" fill="#00ffff"/><circle cx="720.54" cy="711.35" r="2.9" fill="#007f7f"/><circle cx="722.14" cy="711.35" r="2.9" fill="#007f7f"/><circle cx="721.34" cy="711.35" r="2.9" fill="#00ffff"/><circle cx="732.2" cy="711.35" r="2.9" fill="#007f7f"/><circle cx="737.2" cy="711.35" r="2.9" fill="#00ffff"/><circle cx="733.45" cy="711.35" r="2.9" fill="#007f7f"/><circle cx="735.95" cy="711.35" r="2.9" fill="#007f7f"/><circle cx="734.7" cy="711.35" r="2.9" fill="#00ffff"/><circle cx="745.06" cy="711.35" r="2.9" fill="#007f7f"/><circle cx="751.06" cy="711.35" r="2.9" fill="#00ffff"/><circle cx="746.56" cy="711.35" r="2.9" fill="#007f7f"/><circle cx="749.56" cy="711.35" r="2.9" fill="#007f7f"/><circle cx="748.06" cy="711.35" r="2.9" fill="#00ffff"/><circle cx="758.42" cy="711.35" r="2.9" fill="#007f7f"/><circle cx="764.42" cy="711.35" r="2.9" fill="#00ffff"/><circle cx="759.92" cy="711.35" r="2.9" fill="#007f7f"/><circle cx="762.92" cy="711.35" r="2.9" fill="#007f7f"/><circle cx="761.42" cy="711.35" r="2.9" fill="#00ffff"/><circle cx="771.28" cy="711.35" r="2.9" fill="#007f7f"/><circle cx="778.28" cy="711.35" r="2.9" fill="#00ffff"/><circle cx="772.68" cy="711.35" r="2.9" fill="#007f7f"/><circle cx="776.88" cy="711.35" r="2.9" fill="#007f7f"/><circle cx="774.08" cy="711.35" r="2.9" fill="#007f7f"/><circle cx="775.48" cy="711.35" r="2.9" fill="#00ffff"/>
<path d="M845.7 788.81L849.15 794.81H842.25ZM842.25 792.88H849.15L845.7 798.88ZM859.06 762.67L862.51 768.67H855.61ZM869.47 762.87H876.37L872.92 768.87ZM871.92 740.96L875.37 746.96H868.47ZM883.83 741.85H890.73L887.28 747.85ZM884.28 728.79L887.73 734.79H880.83ZM897.19 728.02H904.09L900.64 734.02ZM897.64 717.72L901.09 723.72H894.19ZM909.05 714.19H915.95L912.5 720.19Z" fill="#b8d4ff"/>
<circle cx="845" cy="808.16" r="2.9" fill="#0a6eff"/><circle cx="846.22" cy="810.67" r="2.9" fill="#3070d8"/><circle cx="845.64" cy="813.19" r="2.9" fill="#003090"/><circle cx="845.28" cy="815.7" r="2.9" fill="#3070d8"/><circle cx="846.39" cy="818.22" r="2.9" fill="#a8c8ff"/><circle cx="845.11" cy="820.73" r="2.9" fill="#3070d8"/><circle cx="845.88" cy="823.25" r="2.9" fill="#003090"/><circle cx="846.02" cy="825.76" r="2.9" fill="#3070d8"/><circle cx="845.04" cy="828.28" r="2.9" fill="#003090"/><circle cx="846.35" cy="830.79" r="2.9" fill="#0a6eff"/><circle cx="845.4" cy="833.31" r="2.9" fill="#003090"/><circle cx="845.49" cy="835.82" r="2.9" fill="#0a6eff"/><circle cx="859.94" cy="739.01" r="2.9" fill="#003090"/><circle cx="858.56" cy="741.27" r="2.9" fill="#3070d8"/><circle cx="858.93" cy="743.54" r="2.9" fill="#003090"/><circle cx="859.76" cy="745.8" r="2.9" fill="#3070d8"/><circle cx="858.16" cy="748.06" r="2.9" fill="#003090"/><circle cx="859.68" cy="750.33" r="2.9" fill="#0a6eff"/><circle cx="859.04" cy="752.59" r="2.9" fill="#003090"/><circle cx="858.47" cy="754.85" r="2.9" fill="#3070d8"/><circle cx="859.95" cy="757.11" r="2.9" fill="#003090"/><circle cx="858.34" cy="759.38" r="2.9" fill="#0a6eff"/><circle cx="859.23" cy="761.64" r="2.9" fill="#003090"/><circle cx="859.53" cy="763.9" r="2.9" fill="#0a6eff"/><circle cx="872.42" cy="737.63" r="2.9" fill="#a8c8ff"/><circle cx="872.42" cy="733.48" r="2.9" fill="#a8c8ff"/><circle cx="872.42" cy="729.33" r="2.9" fill="#a8c8ff"/><circle cx="872.42" cy="725.18" r="2.9" fill="#a8c8ff"/><circle cx="871.09" cy="711.35" r="2.9" fill="#a8c8ff"/><circle cx="872.94" cy="713.72" r="2.9" fill="#003090"/><circle cx="872.99" cy="716.09" r="2.9" fill="#3070d8"/><circle cx="871.06" cy="718.46" r="2.9" fill="#003090"/><circle cx="873.85" cy="720.83" r="2.9" fill="#0a6eff"/><circle cx="871.67" cy="723.2" r="2.9" fill="#003090"/><circle cx="872.09" cy="725.58" r="2.9" fill="#0a6eff"/><circle cx="873.65" cy="727.95" r="2.9" fill="#003090"/><circle cx="885.78" cy="722.41" r="2.9" fill="#a8c8ff"/><circle cx="885.78" cy="718.68" r="2.9" fill="#a8c8ff"/><circle cx="884.38" cy="711.35" r="2.9" fill="#003090"/><circle cx="887.18" cy="711.35" r="2.9" fill="#0a6eff"/><circle cx="885.08" cy="711.35" r="2.9" fill="#003090"/><circle cx="886.48" cy="711.35" r="2.9" fill="#003090"/><circle cx="885.78" cy="711.35" r="2.9" fill="#0a6eff"/><circle cx="900.14" cy="716.19" r="2.9" fill="#a8c8ff"/><circle cx="897.54" cy="711.35" r="2.9" fill="#003090"/><circle cx="900.74" cy="711.35" r="2.9" fill="#0a6eff"/><circle cx="898.34" cy="711.35" r="2.9" fill="#003090"/><circle cx="899.94" cy="711.35" r="2.9" fill="#003090"/><circle cx="899.14" cy="711.35" r="2.9" fill="#0a6eff"/><circle cx="910" cy="711.35" r="2.9" fill="#003090"/><circle cx="915" cy="711.35" r="2.9" fill="#0a6eff"/><circle cx="911.25" cy="711.35" r="2.9" fill="#003090"/><circle cx="913.75" cy="711.35" r="2.9" fill="#003090"/><circle cx="912.5" cy="711.35" r="2.9" fill="#0a6eff"/><circle cx="922.86" cy="711.35" r="2.9" fill="#003090"/><circle cx="928.86" cy="711.35" r="2.9" fill="#0a6eff"/><circle cx="924.36" cy="711.35" r="2.9" fill="#003090"/><circle cx="927.36" cy="711.35" r="2.9" fill="#003090"/><circle cx="925.86" cy="711.35" r="2.9" fill="#0a6eff"/><circle cx="936.22" cy="711.35" r="2.9" fill="#003090"/><circle cx="942.22" cy="711.35" r="2.9" fill="#0a6eff"/><circle cx="937.72" cy="711.35" r="2.9" fill="#003090"/><circle cx="940.72" cy="711.35" r="2.9" fill="#003090"/><circle cx="939.22" cy="711.35" r="2.9" fill="#0a6eff"/><circle cx="949.08" cy="711.35" r="2.9" fill="#003090"/><circle cx="956.08" cy="711.35" r="2.9" fill="#0a6eff"/><circle cx="950.48" cy="711.35" r="2.9" fill="#003090"/><circle cx="954.68" cy="711.35" r="2.9" fill="#003090"/><circle cx="951.88" cy="711.35" r="2.9" fill="#003090"/><circle cx="953.28" cy="711.35" r="2.9" fill="#0a6eff"/>
<path d="M1020.05 847.65H1026.95L1023.5 853.65ZM1023.5 845.65L1026.95 851.65H1020.05ZM1033.41 847.65H1040.31L1036.86 853.65ZM1036.86 845.65L1040.31 851.65H1033.41ZM1046.77 818.75H1053.67L1050.22 824.75ZM1050.22 839.84L1053.67 845.84H1046.77ZM1060.13 827.6H1067.03L1063.58 833.6ZM1064.58 833.76L1068.03 839.76H1061.13ZM1073.49 802.01H1080.39L1076.94 808.01ZM1076.94 825.73L1080.39 831.73H1073.49ZM1093.3 773.73L1096.75 779.73H1089.85ZM1104.61 720.69H1111.51L1108.06 726.69ZM1103.66 711.5L1107.11 717.5H1100.21Z" fill="#c8c0ff"/>
<circle cx="1023.5" cy="849.65" r="2.9" fill="#3300ff"/><circle cx="1036.86" cy="849.65" r="2.9" fill="#3300ff"/><circle cx="1049.12" cy="849.65" r="2.9" fill="#3300ff"/><circle cx="1051.32" cy="849.65" r="2.9" fill="#1a0090"/><circle cx="1063.58" cy="840.94" r="2.9" fill="#b0a4ff"/><circle cx="1062.18" cy="849.65" r="2.9" fill="#1a0090"/><circle cx="1064.98" cy="849.65" r="2.9" fill="#3300ff"/><circle cx="1063.58" cy="849.65" r="2.9" fill="#1a0090"/><circle cx="1076.94" cy="837.2" r="2.9" fill="#b0a4ff"/><circle cx="1078" cy="841.35" r="2.9" fill="#b0a4ff"/><circle cx="1076.98" cy="843.01" r="2.9" fill="#6a50f0"/><circle cx="1075.83" cy="844.67" r="2.9" fill="#1a0090"/><circle cx="1078.54" cy="846.33" r="2.9" fill="#3300ff"/><circle cx="1075.7" cy="847.99" r="2.9" fill="#1a0090"/><circle cx="1077.18" cy="849.65" r="2.9" fill="#1a0090"/><circle cx="1088.92" cy="777.73" r="2.9" fill="#b0a4ff"/><circle cx="1089.52" cy="778.92" r="2.9" fill="#1a0090"/><circle cx="1092.83" cy="780.1" r="2.9" fill="#6a50f0"/><circle cx="1087.35" cy="781.29" r="2.9" fill="#3300ff"/><circle cx="1092.12" cy="782.48" r="2.9" fill="#1a0090"/><circle cx="1090.58" cy="783.66" r="2.9" fill="#6a50f0"/><circle cx="1088.08" cy="784.85" r="2.9" fill="#1a0090"/><circle cx="1093.3" cy="786.03" r="2.9" fill="#b0a4ff"/><circle cx="1100.66" cy="711.35" r="2.9" fill="#1a0090"/><circle cx="1106.66" cy="711.35" r="2.9" fill="#3300ff"/><circle cx="1102.16" cy="711.35" r="2.9" fill="#1a0090"/><circle cx="1105.16" cy="711.35" r="2.9" fill="#1a0090"/><circle cx="1103.66" cy="711.35" r="2.9" fill="#3300ff"/><circle cx="1114.02" cy="711.35" r="2.9" fill="#1a0090"/><circle cx="1120.02" cy="711.35" r="2.9" fill="#3300ff"/><circle cx="1115.52" cy="711.35" r="2.9" fill="#1a0090"/><circle cx="1118.52" cy="711.35" r="2.9" fill="#1a0090"/><circle cx="1117.02" cy="711.35" r="2.9" fill="#3300ff"/><circle cx="1126.88" cy="711.35" r="2.9" fill="#1a0090"/><circle cx="1133.88" cy="711.35" r="2.9" fill="#3300ff"/><circle cx="1128.28" cy="711.35" r="2.9" fill="#1a0090"/><circle cx="1132.48" cy="711.35" r="2.9" fill="#1a0090"/><circle cx="1129.68" cy="711.35" r="2.9" fill="#1a0090"/><circle cx="1131.08" cy="711.35" r="2.9" fill="#3300ff"/>
<path d="M134.5 978.55L137.95 984.55H131.05ZM144.41 954.42H151.31L147.86 960.42ZM147.86 949.93L151.31 955.93H144.41ZM156.77 954.97H163.67L160.22 960.97ZM161.22 934.71L164.67 940.71H157.77ZM171.13 937.68H178.03L174.58 943.68ZM174.58 928.07L178.03 934.07H171.13ZM184.49 929.38H191.39L187.94 935.38ZM197.85 925.65H204.75L201.3 931.65Z" fill="#ffb6c1"/>
<circle cx="134.18" cy="991.27" r="2.9" fill="#8b0000"/><circle cx="134.32" cy="992.65" r="2.9" fill="#d02020"/><circle cx="135.09" cy="994.03" r="2.9" fill="#8b0000"/><circle cx="133.81" cy="995.42" r="2.9" fill="#ff0000"/><circle cx="134.92" cy="996.8" r="2.9" fill="#ff0000"/><circle cx="148.07" cy="924.88" r="2.9" fill="#f4a0a0"/><circle cx="148.3" cy="927.01" r="2.9" fill="#d02020"/><circle cx="147.01" cy="929.14" r="2.9" fill="#f4a0a0"/><circle cx="148.68" cy="931.27" r="2.9" fill="#d02020"/><circle cx="147.5" cy="933.39" r="2.9" fill="#8b0000"/><circle cx="147.56" cy="935.52" r="2.9" fill="#d02020"/><circle cx="148.65" cy="937.65" r="2.9" fill="#8b0000"/><circle cx="146.99" cy="939.78" r="2.9" fill="#d02020"/><circle cx="148.35" cy="941.9" r="2.9" fill="#8b0000"/><circle cx="148.01" cy="944.03" r="2.9" fill="#d02020"/><circle cx="147.15" cy="946.16" r="2.9" fill="#8b0000"/><circle cx="148.76" cy="948.29" r="2.9" fill="#ff0000"/><circle cx="147.25" cy="950.42" r="2.9" fill="#8b0000"/><circle cx="147.87" cy="952.54" r="2.9" fill="#ff0000"/><circle cx="161.22" cy="931.8" r="2.9" fill="#f4a0a0"/><circle cx="161.23" cy="923.5" r="2.9" fill="#8b0000"/><circle cx="160.47" cy="924.88" r="2.9" fill="#d02020"/><circle cx="162.32" cy="926.27" r="2.9" fill="#8b0000"/><circle cx="160.35" cy="927.65" r="2.9" fill="#ff0000"/><circle cx="161.4" cy="929.03" r="2.9" fill="#8b0000"/><circle cx="174.58" cy="928.34" r="2.9" fill="#f4a0a0"/><circle cx="173.18" cy="923.5" r="2.9" fill="#8b0000"/><circle cx="175.98" cy="923.5" r="2.9" fill="#ff0000"/><circle cx="174.11" cy="923.5" r="2.9" fill="#8b0000"/><circle cx="175.05" cy="923.5" r="2.9" fill="#ff0000"/><circle cx="186.34" cy="923.5" r="2.9" fill="#8b0000"/><circle cx="189.54" cy="923.5" r="2.9" fill="#ff0000"/><circle cx="187.14" cy="923.5" r="2.9" fill="#8b0000"/><circle cx="188.74" cy="923.5" r="2.9" fill="#8b0000"/><circle cx="187.94" cy="923.5" r="2.9" fill="#ff0000"/><circle cx="198.8" cy="923.5" r="2.9" fill="#8b0000"/><circle cx="203.8" cy="923.5" r="2.9" fill="#ff0000"/><circle cx="200.05" cy="923.5" r="2.9" fill="#8b0000"/><circle cx="202.55" cy="923.5" r="2.9" fill="#8b0000"/><circle cx="201.3" cy="923.5" r="2.9" fill="#ff0000"/><circle cx="211.66" cy="923.5" r="2.9" fill="#8b0000"/><circle cx="217.66" cy="923.5" r="2.9" fill="#ff0000"/><circle cx="213.16" cy="923.5" r="2.9" fill="#8b0000"/><circle cx="216.16" cy="923.5" r="2.9" fill="#8b0000"/><circle cx="214.66" cy="923.5" r="2.9" fill="#ff0000"/><circle cx="225.02" cy="923.5" r="2.9" fill="#8b0000"/><circle cx="231.02" cy="923.5" r="2.9" fill="#ff0000"/><circle cx="226.52" cy="923.5" r="2.9" fill="#8b0000"/><circle cx="229.52" cy="923.5" r="2.9" fill="#8b0000"/><circle cx="228.02" cy="923.5" r="2.9" fill="#ff0000"/><circle cx="237.88" cy="923.5" r="2.9" fill="#8b0000"/><circle cx="244.88" cy="923.5" r="2.9" fill="#ff0000"/><circle cx="239.28" cy="923.5" r="2.9" fill="#8b0000"/><circle cx="243.48" cy="923.5" r="2.9" fill="#8b0000"/><circle cx="240.68" cy="923.5" r="2.9" fill="#8b0000"/><circle cx="242.08" cy="923.5" r="2.9" fill="#ff0000"/>
<path d="M312.3 965.28L315.75 971.28H308.85ZM322.21 954.42H329.11L325.66 960.42ZM325.66 936.37L329.11 942.37H322.21ZM336.57 933.26H343.47L340.02 939.26ZM338.02 926.41L341.47 932.41H334.57ZM350.43 932.7H357.33L353.88 938.7ZM362.29 926.76H369.19L365.74 932.76Z" fill="#ffe4b5"/>
<circle cx="312.3" cy="961.81" r="2.9" fill="#ffd8a0"/><circle cx="312.69" cy="929.03" r="2.9" fill="#ffd8a0"/><circle cx="312.41" cy="931.3" r="2.9" fill="#d07a10"/><circle cx="311.75" cy="933.56" r="2.9" fill="#ffd8a0"/><circle cx="313" cy="935.82" r="2.9" fill="#d07a10"/><circle cx="311.82" cy="938.08" r="2.9" fill="#8b4a00"/><circle cx="312.31" cy="940.35" r="2.9" fill="#d07a10"/><circle cx="312.77" cy="942.61" r="2.9" fill="#8b4a00"/><circle cx="311.6" cy="944.87" r="2.9" fill="#d07a10"/><circle cx="312.86" cy="947.14" r="2.9" fill="#8b4a00"/><circle cx="312.17" cy="949.4" r="2.9" fill="#ff9900"/><circle cx="311.93" cy="951.66" r="2.9" fill="#8b4a00"/><circle cx="312.97" cy="953.93" r="2.9" fill="#ff9900"/><circle cx="325.66" cy="933.18" r="2.9" fill="#ffd8a0"/><circle cx="325.66" cy="930.41" r="2.9" fill="#ffd8a0"/><circle cx="325.36" cy="923.5" r="2.9" fill="#8b4a00"/><circle cx="325.31" cy="924.88" r="2.9" fill="#ff9900"/><circle cx="326.48" cy="926.27" r="2.9" fill="#8b4a00"/><circle cx="324.8" cy="927.65" r="2.9" fill="#ff9900"/><circle cx="337.92" cy="923.5" r="2.9" fill="#8b4a00"/><circle cx="340.12" cy="923.5" r="2.9" fill="#ff9900"/><circle cx="338.65" cy="923.5" r="2.9" fill="#8b4a00"/><circle cx="339.39" cy="923.5" r="2.9" fill="#ff9900"/><circle cx="350.98" cy="923.5" r="2.9" fill="#ff9900"/><circle cx="353.78" cy="923.5" r="2.9" fill="#8b4a00"/><circle cx="351.91" cy="923.5" r="2.9" fill="#8b4a00"/><circle cx="352.85" cy="923.5" r="2.9" fill="#ff9900"/><circle cx="364.14" cy="923.5" r="2.9" fill="#8b4a00"/><circle cx="367.34" cy="923.5" r="2.9" fill="#ff9900"/><circle cx="364.94" cy="923.5" r="2.9" fill="#8b4a00"/><circle cx="366.54" cy="923.5" r="2.9" fill="#8b4a00"/><circle cx="365.74" cy="923.5" r="2.9" fill="#ff9900"/><circle cx="376.6" cy="923.5" r="2.9" fill="#8b4a00"/><circle cx="381.6" cy="923.5" r="2.9" fill="#ff9900"/><circle cx="377.85" cy="923.5" r="2.9" fill="#8b4a00"/><circle cx="380.35" cy="923.5" r="2.9" fill="#8b4a00"/><circle cx="379.1" cy="923.5" r="2.9" fill="#ff9900"/><circle cx="389.46" cy="923.5" r="2.9" fill="#ff9900"/><circle cx="395.46" cy="923.5" r="2.9" fill="#8b4a00"/><circle cx="390.96" cy="923.5" r="2.9" fill="#ff9900"/><circle cx="393.96" cy="923.5" r="2.9" fill="#8b4a00"/><circle cx="392.46" cy="923.5" r="2.9" fill="#ff9900"/><circle cx="402.82" cy="923.5" r="2.9" fill="#8b4a00"/><circle cx="408.82" cy="923.5" r="2.9" fill="#ff9900"/><circle cx="404.32" cy="923.5" r="2.9" fill="#8b4a00"/><circle cx="407.32" cy="923.5" r="2.9" fill="#8b4a00"/><circle cx="405.82" cy="923.5" r="2.9" fill="#ff9900"/><circle cx="415.68" cy="923.5" r="2.9" fill="#8b4a00"/><circle cx="422.68" cy="923.5" r="2.9" fill="#ff9900"/><circle cx="417.08" cy="923.5" r="2.9" fill="#8b4a00"/><circle cx="421.28" cy="923.5" r="2.9" fill="#ff9900"/><circle cx="418.48" cy="923.5" r="2.9" fill="#8b4a00"/><circle cx="419.88" cy="923.5" r="2.9" fill="#ff9900"/>
<path d="M486.65 1006H493.55L490.1 1012ZM490.1 1037.75L493.55 1043.75H486.65ZM500.01 1026.05H506.91L503.46 1032.05ZM503.46 1025.99L506.91 1031.99H500.01ZM516.82 988.1L520.27 994.1H513.37ZM528.23 976.82H535.13L531.68 982.82ZM543.54 955.87L546.99 961.87H540.09ZM540.09 963.27H546.99L543.54 969.27ZM551.45 933.26H558.35L554.9 939.26ZM558.9 922.27L562.35 928.27H555.45ZM596.98 919.5L600.43 925.5H593.53Z" fill="#f4ffb4"/>
<circle cx="490.1" cy="1054.06" r="2.9" fill="#eeffa8"/><circle cx="489.65" cy="1060.42" r="2.9" fill="#6e8800"/><circle cx="490.07" cy="1061.8" r="2.9" fill="#ccff00"/><circle cx="503.85" cy="1031.37" r="2.9" fill="#eeffa8"/><circle cx="503.72" cy="1033.89" r="2.9" fill="#eeffa8"/><circle cx="502.69" cy="1036.4" r="2.9" fill="#a8c830"/><circle cx="504.34" cy="1038.92" r="2.9" fill="#eeffa8"/><circle cx="502.93" cy="1041.43" r="2.9" fill="#a8c830"/><circle cx="503.35" cy="1043.95" r="2.9" fill="#eeffa8"/><circle cx="504.14" cy="1046.46" r="2.9" fill="#6e8800"/><circle cx="502.56" cy="1048.98" r="2.9" fill="#a8c830"/><circle cx="504.1" cy="1051.49" r="2.9" fill="#6e8800"/><circle cx="503.41" cy="1054" r="2.9" fill="#a8c830"/><circle cx="502.89" cy="1056.52" r="2.9" fill="#ccff00"/><circle cx="504.35" cy="1059.03" r="2.9" fill="#6e8800"/><circle cx="516.59" cy="998.18" r="2.9" fill="#6e8800"/><circle cx="516.26" cy="999.56" r="2.9" fill="#a8c830"/><circle cx="517.87" cy="1000.95" r="2.9" fill="#6e8800"/><circle cx="515.83" cy="1002.33" r="2.9" fill="#ccff00"/><circle cx="517.23" cy="1003.71" r="2.9" fill="#6e8800"/><circle cx="517.21" cy="1005.1" r="2.9" fill="#a8c830"/><circle cx="515.84" cy="1006.48" r="2.9" fill="#ccff00"/><circle cx="530.18" cy="969.55" r="2.9" fill="#eeffa8"/><circle cx="530.14" cy="940.1" r="2.9" fill="#eeffa8"/><circle cx="531.16" cy="942.01" r="2.9" fill="#a8c830"/><circle cx="528.78" cy="943.93" r="2.9" fill="#eeffa8"/><circle cx="531.26" cy="945.84" r="2.9" fill="#a8c830"/><circle cx="529.98" cy="947.76" r="2.9" fill="#eeffa8"/><circle cx="529.39" cy="949.67" r="2.9" fill="#a8c830"/><circle cx="531.54" cy="951.59" r="2.9" fill="#6e8800"/><circle cx="528.96" cy="953.5" r="2.9" fill="#a8c830"/><circle cx="530.61" cy="955.42" r="2.9" fill="#eeffa8"/><circle cx="530.77" cy="957.33" r="2.9" fill="#a8c830"/><circle cx="528.89" cy="959.25" r="2.9" fill="#6e8800"/><circle cx="531.5" cy="961.16" r="2.9" fill="#ccff00"/><circle cx="529.53" cy="963.08" r="2.9" fill="#a8c830"/><circle cx="529.82" cy="964.99" r="2.9" fill="#6e8800"/><circle cx="544.54" cy="947.98" r="2.9" fill="#eeffa8"/><circle cx="543.54" cy="941.48" r="2.9" fill="#eeffa8"/><circle cx="544.08" cy="923.5" r="2.9" fill="#eeffa8"/><circle cx="541.84" cy="925.48" r="2.9" fill="#a8c830"/><circle cx="545.51" cy="927.45" r="2.9" fill="#6e8800"/><circle cx="542.34" cy="929.43" r="2.9" fill="#ccff00"/><circle cx="543.34" cy="931.4" r="2.9" fill="#6e8800"/><circle cx="545.03" cy="933.38" r="2.9" fill="#a8c830"/><circle cx="541.54" cy="935.35" r="2.9" fill="#6e8800"/><circle cx="544.99" cy="937.33" r="2.9" fill="#ccff00"/><circle cx="554.4" cy="923.5" r="2.9" fill="#6e8800"/><circle cx="559.4" cy="923.5" r="2.9" fill="#ccff00"/><circle cx="555.65" cy="923.5" r="2.9" fill="#6e8800"/><circle cx="558.15" cy="923.5" r="2.9" fill="#eeffa8"/><circle cx="556.9" cy="923.5" r="2.9" fill="#6e8800"/><circle cx="567.26" cy="923.5" r="2.9" fill="#6e8800"/><circle cx="573.26" cy="923.5" r="2.9" fill="#ccff00"/><circle cx="568.76" cy="923.5" r="2.9" fill="#6e8800"/><circle cx="571.76" cy="923.5" r="2.9" fill="#6e8800"/><circle cx="570.26" cy="923.5" r="2.9" fill="#ccff00"/><circle cx="580.62" cy="923.5" r="2.9" fill="#6e8800"/><circle cx="586.62" cy="923.5" r="2.9" fill="#ccff00"/><circle cx="582.12" cy="923.5" r="2.9" fill="#6e8800"/><circle cx="585.12" cy="923.5" r="2.9" fill="#6e8800"/><circle cx="583.62" cy="923.5" r="2.9" fill="#ccff00"/><circle cx="593.48" cy="923.5" r="2.9" fill="#6e8800"/><circle cx="600.48" cy="923.5" r="2.9" fill="#ccff00"/><circle cx="594.88" cy="923.5" r="2.9" fill="#6e8800"/><circle cx="599.08" cy="923.5" r="2.9" fill="#ccff00"/><circle cx="596.28" cy="923.5" r="2.9" fill="#6e8800"/><circle cx="597.68" cy="923.5" r="2.9" fill="#ccff00"/>
<path d="M664.45 964.37H671.35L667.9 970.37ZM667.9 962.37L671.35 968.37H664.45ZM677.81 943.21H684.71L681.26 949.21ZM681.26 935.27L684.71 941.27H677.81ZM691.17 933.26H698.07L694.62 939.26ZM694.62 928.07L698.07 934.07H691.17ZM704.53 928.83H711.43L707.98 934.83ZM717.89 925.65H724.79L721.34 931.65Z" fill="#b8ffff"/>
<circle cx="667.9" cy="958.07" r="2.9" fill="#a0f4f4"/><circle cx="667.9" cy="953.93" r="2.9" fill="#a0f4f4"/><circle cx="667.9" cy="947.98" r="2.9" fill="#a0f4f4"/><circle cx="668.4" cy="927.65" r="2.9" fill="#a0f4f4"/><circle cx="667.86" cy="929.49" r="2.9" fill="#20c0c0"/><circle cx="667.46" cy="931.34" r="2.9" fill="#007f7f"/><circle cx="668.59" cy="933.18" r="2.9" fill="#20c0c0"/><circle cx="667.32" cy="935.02" r="2.9" fill="#007f7f"/><circle cx="668.06" cy="936.87" r="2.9" fill="#20c0c0"/><circle cx="668.24" cy="938.71" r="2.9" fill="#007f7f"/><circle cx="667.23" cy="940.56" r="2.9" fill="#00ffff"/><circle cx="668.54" cy="942.4" r="2.9" fill="#20c0c0"/><circle cx="667.63" cy="944.24" r="2.9" fill="#00ffff"/><circle cx="681.26" cy="933.18" r="2.9" fill="#a0f4f4"/><circle cx="681.26" cy="930.41" r="2.9" fill="#a0f4f4"/><circle cx="680.78" cy="923.5" r="2.9" fill="#007f7f"/><circle cx="681.1" cy="924.88" r="2.9" fill="#20c0c0"/><circle cx="681.98" cy="926.27" r="2.9" fill="#007f7f"/><circle cx="680.36" cy="927.65" r="2.9" fill="#00ffff"/><circle cx="693.52" cy="923.5" r="2.9" fill="#007f7f"/><circle cx="695.72" cy="923.5" r="2.9" fill="#00ffff"/><circle cx="694.25" cy="923.5" r="2.9" fill="#007f7f"/><circle cx="694.99" cy="923.5" r="2.9" fill="#00ffff"/><circle cx="706.58" cy="923.5" r="2.9" fill="#007f7f"/><circle cx="709.38" cy="923.5" r="2.9" fill="#00ffff"/><circle cx="707.51" cy="923.5" r="2.9" fill="#007f7f"/><circle cx="708.45" cy="923.5" r="2.9" fill="#00ffff"/><circle cx="719.74" cy="923.5" r="2.9" fill="#007f7f"/><circle cx="722.94" cy="923.5" r="2.9" fill="#00ffff"/><circle cx="720.54" cy="923.5" r="2.9" fill="#007f7f"/><circle cx="722.14" cy="923.5" r="2.9" fill="#007f7f"/><circle cx="721.34" cy="923.5" r="2.9" fill="#00ffff"/><circle cx="732.2" cy="923.5" r="2.9" fill="#007f7f"/><circle cx="737.2" cy="923.5" r="2.9" fill="#00ffff"/><circle cx="733.45" cy="923.5" r="2.9" fill="#007f7f"/><circle cx="735.95" cy="923.5" r="2.9" fill="#007f7f"/><circle cx="734.7" cy="923.5" r="2.9" fill="#00ffff"/><circle cx="745.06" cy="923.5" r="2.9" fill="#a0f4f4"/><circle cx="751.06" cy="923.5" r="2.9" fill="#007f7f"/><circle cx="746.56" cy="923.5" r="2.9" fill="#00ffff"/><circle cx="749.56" cy="923.5" r="2.9" fill="#007f7f"/><circle cx="748.06" cy="923.5" r="2.9" fill="#00ffff"/><circle cx="758.42" cy="923.5" r="2.9" fill="#007f7f"/><circle cx="764.42" cy="923.5" r="2.9" fill="#00ffff"/><circle cx="759.92" cy="923.5" r="2.9" fill="#007f7f"/><circle cx="762.92" cy="923.5" r="2.9" fill="#007f7f"/><circle cx="761.42" cy="923.5" r="2.9" fill="#00ffff"/><circle cx="771.28" cy="923.5" r="2.9" fill="#007f7f"/><circle cx="778.28" cy="923.5" r="2.9" fill="#00ffff"/><circle cx="772.68" cy="923.5" r="2.9" fill="#007f7f"/><circle cx="776.88" cy="923.5" r="2.9" fill="#a0f4f4"/><circle cx="774.08" cy="923.5" r="2.9" fill="#007f7f"/><circle cx="775.48" cy="923.5" r="2.9" fill="#00ffff"/>
<path d="M845.7 979.11L849.15 985.11H842.25ZM855.61 953.31H862.51L859.06 959.31ZM859.06 951.31L862.51 957.31H855.61ZM868.97 954.42H875.87L872.42 960.42ZM872.42 934.71L875.87 940.71H868.97ZM883.53 937.68H890.43L886.98 943.68ZM885.78 928.07L889.23 934.07H882.33ZM896.89 928.28H903.79L900.34 934.28Z" fill="#b8d4ff"/>
<circle cx="845.15" cy="992.65" r="2.9" fill="#003090"/><circle cx="845.82" cy="994.03" r="2.9" fill="#3070d8"/><circle cx="846.08" cy="995.42" r="2.9" fill="#003090"/><circle cx="845.02" cy="996.8" r="2.9" fill="#0a6eff"/><circle cx="859.06" cy="947.01" r="2.9" fill="#a8c8ff"/><circle cx="859.62" cy="926.27" r="2.9" fill="#a8c8ff"/><circle cx="859.13" cy="928.28" r="2.9" fill="#3070d8"/><circle cx="858.4" cy="930.29" r="2.9" fill="#a8c8ff"/><circle cx="859.96" cy="932.3" r="2.9" fill="#3070d8"/><circle cx="858.39" cy="934.31" r="2.9" fill="#003090"/><circle cx="859.15" cy="936.32" r="2.9" fill="#3070d8"/><circle cx="859.6" cy="938.34" r="2.9" fill="#003090"/><circle cx="858.18" cy="940.35" r="2.9" fill="#3070d8"/><circle cx="859.82" cy="942.36" r="2.9" fill="#003090"/><circle cx="858.82" cy="944.37" r="2.9" fill="#0a6eff"/><circle cx="858.65" cy="946.38" r="2.9" fill="#003090"/><circle cx="859.9" cy="948.39" r="2.9" fill="#0a6eff"/><circle cx="872.42" cy="931.8" r="2.9" fill="#a8c8ff"/><circle cx="871.96" cy="923.5" r="2.9" fill="#003090"/><circle cx="872.08" cy="924.88" r="2.9" fill="#0a6eff"/><circle cx="873.38" cy="926.27" r="2.9" fill="#003090"/><circle cx="871.35" cy="927.65" r="2.9" fill="#0a6eff"/><circle cx="884.38" cy="923.5" r="2.9" fill="#003090"/><circle cx="887.18" cy="923.5" r="2.9" fill="#0a6eff"/><circle cx="885.31" cy="923.5" r="2.9" fill="#003090"/><circle cx="886.25" cy="923.5" r="2.9" fill="#0a6eff"/><circle cx="897.54" cy="923.5" r="2.9" fill="#003090"/><circle cx="900.74" cy="923.5" r="2.9" fill="#0a6eff"/><circle cx="898.34" cy="923.5" r="2.9" fill="#003090"/><circle cx="899.94" cy="923.5" r="2.9" fill="#003090"/><circle cx="899.14" cy="923.5" r="2.9" fill="#0a6eff"/><circle cx="910" cy="923.5" r="2.9" fill="#003090"/><circle cx="915" cy="923.5" r="2.9" fill="#0a6eff"/><circle cx="911.25" cy="923.5" r="2.9" fill="#003090"/><circle cx="913.75" cy="923.5" r="2.9" fill="#003090"/><circle cx="912.5" cy="923.5" r="2.9" fill="#0a6eff"/><circle cx="922.86" cy="923.5" r="2.9" fill="#003090"/><circle cx="928.86" cy="923.5" r="2.9" fill="#0a6eff"/><circle cx="924.36" cy="923.5" r="2.9" fill="#003090"/><circle cx="927.36" cy="923.5" r="2.9" fill="#003090"/><circle cx="925.86" cy="923.5" r="2.9" fill="#0a6eff"/><circle cx="936.22" cy="923.5" r="2.9" fill="#003090"/><circle cx="942.22" cy="923.5" r="2.9" fill="#0a6eff"/><circle cx="937.72" cy="923.5" r="2.9" fill="#003090"/><circle cx="940.72" cy="923.5" r="2.9" fill="#003090"/><circle cx="939.22" cy="923.5" r="2.9" fill="#0a6eff"/><circle cx="949.08" cy="923.5" r="2.9" fill="#003090"/><circle cx="956.08" cy="923.5" r="2.9" fill="#0a6eff"/><circle cx="950.48" cy="923.5" r="2.9" fill="#003090"/><circle cx="954.68" cy="923.5" r="2.9" fill="#003090"/><circle cx="951.88" cy="923.5" r="2.9" fill="#003090"/><circle cx="953.28" cy="923.5" r="2.9" fill="#0a6eff"/>
<path d="M1020.05 1059.8H1026.95L1023.5 1065.8ZM1023.5 1057.8L1026.95 1063.8H1020.05ZM1033.41 1059.8H1040.31L1036.86 1065.8ZM1036.86 1057.8L1040.31 1063.8H1033.41ZM1046.77 1021.08H1053.67L1050.22 1027.08ZM1050.22 1046.87L1053.67 1052.87H1046.77ZM1060.13 1029.93H1067.03L1063.58 1035.93ZM1063.58 1036.92L1067.03 1042.92H1060.13ZM1073.49 999.92H1080.39L1076.94 1005.92ZM1076.94 1021.43L1080.39 1027.43H1073.49ZM1088.85 976.54H1095.75L1092.3 982.54ZM1092.8 959.19L1096.25 965.19H1089.35ZM1100.21 925.65H1107.11L1103.66 931.65Z" fill="#c8c0ff"/>
<circle cx="1023.5" cy="1061.8" r="2.9" fill="#3300ff"/><circle cx="1036.86" cy="1061.8" r="2.9" fill="#3300ff"/><circle cx="1050.22" cy="1057.65" r="2.9" fill="#b0a4ff"/><circle cx="1049.12" cy="1061.8" r="2.9" fill="#3300ff"/><circle cx="1051.32" cy="1061.8" r="2.9" fill="#1a0090"/><circle cx="1063.58" cy="1042.85" r="2.9" fill="#b0a4ff"/><circle cx="1063.17" cy="1053.5" r="2.9" fill="#b0a4ff"/><circle cx="1062.97" cy="1055.16" r="2.9" fill="#6a50f0"/><circle cx="1064.88" cy="1056.82" r="2.9" fill="#1a0090"/><circle cx="1062.27" cy="1058.48" r="2.9" fill="#6a50f0"/><circle cx="1064.21" cy="1060.14" r="2.9" fill="#1a0090"/><circle cx="1063.96" cy="1061.8" r="2.9" fill="#3300ff"/><circle cx="1077.03" cy="1034.14" r="2.9" fill="#b0a4ff"/><circle cx="1077.96" cy="1036.4" r="2.9" fill="#6a50f0"/><circle cx="1075.36" cy="1038.67" r="2.9" fill="#b0a4ff"/><circle cx="1078.26" cy="1040.93" r="2.9" fill="#6a50f0"/><circle cx="1076.58" cy="1043.19" r="2.9" fill="#1a0090"/><circle cx="1076.15" cy="1045.46" r="2.9" fill="#6a50f0"/><circle cx="1078.46" cy="1047.72" r="2.9" fill="#1a0090"/><circle cx="1075.49" cy="1049.98" r="2.9" fill="#6a50f0"/><circle cx="1077.56" cy="1052.24" r="2.9" fill="#1a0090"/><circle cx="1077.48" cy="1054.51" r="2.9" fill="#3300ff"/><circle cx="1075.52" cy="1056.77" r="2.9" fill="#1a0090"/><circle cx="1078.49" cy="1059.03" r="2.9" fill="#6a50f0"/><circle cx="1090.77" cy="930.41" r="2.9" fill="#b0a4ff"/><circle cx="1088.3" cy="932.22" r="2.9" fill="#6a50f0"/><circle cx="1092.79" cy="934.03" r="2.9" fill="#b0a4ff"/><circle cx="1088.64" cy="935.84" r="2.9" fill="#6a50f0"/><circle cx="1090.26" cy="937.65" r="2.9" fill="#b0a4ff"/><circle cx="1092.02" cy="939.46" r="2.9" fill="#1a0090"/><circle cx="1087.81" cy="941.27" r="2.9" fill="#6a50f0"/><circle cx="1092.25" cy="943.07" r="2.9" fill="#1a0090"/><circle cx="1089.91" cy="944.88" r="2.9" fill="#6a50f0"/><circle cx="1088.91" cy="946.69" r="2.9" fill="#1a0090"/><circle cx="1092.73" cy="948.5" r="2.9" fill="#6a50f0"/><circle cx="1088.11" cy="950.31" r="2.9" fill="#3300ff"/><circle cx="1091.1" cy="952.12" r="2.9" fill="#1a0090"/><circle cx="1091.31" cy="953.93" r="2.9" fill="#6a50f0"/><circle cx="1100.66" cy="923.5" r="2.9" fill="#1a0090"/><circle cx="1106.66" cy="923.5" r="2.9" fill="#3300ff"/><circle cx="1102.16" cy="923.5" r="2.9" fill="#1a0090"/><circle cx="1105.16" cy="923.5" r="2.9" fill="#1a0090"/><circle cx="1103.66" cy="923.5" r="2.9" fill="#3300ff"/><circle cx="1114.02" cy="923.5" r="2.9" fill="#1a0090"/><circle cx="1120.02" cy="923.5" r="2.9" fill="#3300ff"/><circle cx="1115.52" cy="923.5" r="2.9" fill="#1a0090"/><circle cx="1118.52" cy="923.5" r="2.9" fill="#1a0090"/><circle cx="1117.02" cy="923.5" r="2.9" fill="#3300ff"/><circle cx="1126.88" cy="923.5" r="2.9" fill="#1a0090"/><circle cx="1133.88" cy="923.5" r="2.9" fill="#3300ff"/><circle cx="1128.28" cy="923.5" r="2.9" fill="#1a0090"/><circle cx="1132.48" cy="923.5" r="2.9" fill="#3300ff"/><circle cx="1129.68" cy="923.5" r="2.9" fill="#1a0090"/><circle cx="1131.08" cy="923.5" r="2.9" fill="#3300ff"/>
<path d="M131.05 1165.26H137.95L134.5 1171.26ZM134.5 1145.55L137.95 1151.55H131.05ZM143.41 1140.22H150.31L146.86 1146.22ZM157.77 1138.84H164.67L161.22 1144.84ZM171.13 1134H178.03L174.58 1140ZM174.58 1132L178.03 1138H171.13Z" fill="#ffb6c1"/>
<circle cx="134.5" cy="1149.83" r="2.9" fill="#f4a0a0"/><circle cx="134.5" cy="1145.68" r="2.9" fill="#f4a0a0"/><circle cx="134.63" cy="1136" r="2.9" fill="#8b0000"/><circle cx="133.94" cy="1138.07" r="2.9" fill="#d02020"/><circle cx="135.2" cy="1140.15" r="2.9" fill="#8b0000"/><circle cx="134.04" cy="1142.22" r="2.9" fill="#ff0000"/><circle cx="134.49" cy="1144.3" r="2.9" fill="#ff0000"/><circle cx="147.48" cy="1136" r="2.9" fill="#8b0000"/><circle cx="148.69" cy="1138.07" r="2.9" fill="#d02020"/><circle cx="147.01" cy="1140.15" r="2.9" fill="#ff0000"/><circle cx="160.12" cy="1136" r="2.9" fill="#8b0000"/><circle cx="162.32" cy="1136" r="2.9" fill="#ff0000"/><circle cx="161.22" cy="1136" r="2.9" fill="#ff0000"/><circle cx="173.18" cy="1136" r="2.9" fill="#8b0000"/><circle cx="175.98" cy="1136" r="2.9" fill="#ff0000"/><circle cx="174.11" cy="1136" r="2.9" fill="#8b0000"/><circle cx="175.05" cy="1136" r="2.9" fill="#ff0000"/><circle cx="186.34" cy="1136" r="2.9" fill="#8b0000"/><circle cx="189.54" cy="1136" r="2.9" fill="#ff0000"/><circle cx="187.41" cy="1136" r="2.9" fill="#8b0000"/><circle cx="188.47" cy="1136" r="2.9" fill="#ff0000"/><circle cx="198.8" cy="1136" r="2.9" fill="#8b0000"/><circle cx="203.8" cy="1136" r="2.9" fill="#ff0000"/><circle cx="200.05" cy="1136" r="2.9" fill="#8b0000"/><circle cx="202.55" cy="1136" r="2.9" fill="#8b0000"/><circle cx="201.3" cy="1136" r="2.9" fill="#ff0000"/><circle cx="211.66" cy="1136" r="2.9" fill="#ff0000"/><circle cx="217.66" cy="1136" r="2.9" fill="#8b0000"/><circle cx="213.16" cy="1136" r="2.9" fill="#ff0000"/><circle cx="216.16" cy="1136" r="2.9" fill="#8b0000"/><circle cx="214.66" cy="1136" r="2.9" fill="#ff0000"/><circle cx="225.02" cy="1136" r="2.9" fill="#8b0000"/><circle cx="231.02" cy="1136" r="2.9" fill="#ff0000"/><circle cx="226.52" cy="1136" r="2.9" fill="#8b0000"/><circle cx="229.52" cy="1136" r="2.9" fill="#8b0000"/><circle cx="228.02" cy="1136" r="2.9" fill="#ff0000"/><circle cx="237.88" cy="1136" r="2.9" fill="#8b0000"/><circle cx="244.88" cy="1136" r="2.9" fill="#ff0000"/><circle cx="239.28" cy="1136" r="2.9" fill="#8b0000"/><circle cx="243.48" cy="1136" r="2.9" fill="#8b0000"/><circle cx="240.68" cy="1136" r="2.9" fill="#8b0000"/><circle cx="242.08" cy="1136" r="2.9" fill="#ff0000"/>
<path d="M308.85 1142.99H315.75L312.3 1148.99ZM312.3 1140.3L315.75 1146.3H308.85ZM322.21 1139.67H329.11L325.66 1145.67ZM335.57 1134H342.47L339.02 1140ZM339.02 1132L342.47 1138H335.57ZM348.93 1134H355.83L352.38 1140ZM352.38 1132L355.83 1138H348.93ZM362.29 1134H369.19L365.74 1140ZM365.74 1132L369.19 1138H362.29Z" fill="#ffe4b5"/>
<circle cx="312.3" cy="1142.91" r="2.9" fill="#ffd8a0"/><circle cx="312.24" cy="1136" r="2.9" fill="#8b4a00"/><circle cx="312.81" cy="1137.38" r="2.9" fill="#d07a10"/><circle cx="311.6" cy="1138.77" r="2.9" fill="#ff9900"/><circle cx="324.76" cy="1136" r="2.9" fill="#8b4a00"/><circle cx="326.56" cy="1136" r="2.9" fill="#d07a10"/><circle cx="325.66" cy="1136" r="2.9" fill="#ff9900"/><circle cx="337.92" cy="1136" r="2.9" fill="#8b4a00"/><circle cx="340.12" cy="1136" r="2.9" fill="#ff9900"/><circle cx="339.02" cy="1136" r="2.9" fill="#ff9900"/><circle cx="350.98" cy="1136" r="2.9" fill="#8b4a00"/><circle cx="353.78" cy="1136" r="2.9" fill="#ff9900"/><circle cx="352.38" cy="1136" r="2.9" fill="#ff9900"/><circle cx="364.14" cy="1136" r="2.9" fill="#8b4a00"/><circle cx="367.34" cy="1136" r="2.9" fill="#ff9900"/><circle cx="365.21" cy="1136" r="2.9" fill="#8b4a00"/><circle cx="366.27" cy="1136" r="2.9" fill="#ff9900"/><circle cx="376.6" cy="1136" r="2.9" fill="#8b4a00"/><circle cx="381.6" cy="1136" r="2.9" fill="#ff9900"/><circle cx="377.85" cy="1136" r="2.9" fill="#8b4a00"/><circle cx="380.35" cy="1136" r="2.9" fill="#8b4a00"/><circle cx="379.1" cy="1136" r="2.9" fill="#ff9900"/><circle cx="389.46" cy="1136" r="2.9" fill="#8b4a00"/><circle cx="395.46" cy="1136" r="2.9" fill="#ff9900"/><circle cx="390.96" cy="1136" r="2.9" fill="#8b4a00"/><circle cx="393.96" cy="1136" r="2.9" fill="#8b4a00"/><circle cx="392.46" cy="1136" r="2.9" fill="#ff9900"/><circle cx="402.82" cy="1136" r="2.9" fill="#ff9900"/><circle cx="408.82" cy="1136" r="2.9" fill="#8b4a00"/><circle cx="404.32" cy="1136" r="2.9" fill="#ff9900"/><circle cx="407.32" cy="1136" r="2.9" fill="#8b4a00"/><circle cx="405.82" cy="1136" r="2.9" fill="#ff9900"/><circle cx="415.68" cy="1136" r="2.9" fill="#8b4a00"/><circle cx="422.68" cy="1136" r="2.9" fill="#ff9900"/><circle cx="417.08" cy="1136" r="2.9" fill="#8b4a00"/><circle cx="421.28" cy="1136" r="2.9" fill="#ffd8a0"/><circle cx="418.48" cy="1136" r="2.9" fill="#8b4a00"/><circle cx="419.88" cy="1136" r="2.9" fill="#ff9900"/>
<path d="M486.65 1186.83H493.55L490.1 1192.83ZM490.1 1219.96L493.55 1225.96H486.65ZM500.01 1208.82H506.91L503.46 1214.82ZM503.46 1191.05L506.91 1197.05H500.01ZM513.37 1167.19H520.27L516.82 1173.19ZM517.82 1150.53L521.27 1156.53H514.37ZM528.23 1150.73H535.13L531.68 1156.73ZM530.18 1138.91L533.63 1144.91H526.73ZM542.09 1141.33H548.99L545.54 1147.33ZM543.54 1134.77L546.99 1140.77H540.09Z" fill="#f4ffb4"/>
<circle cx="490.1" cy="1242.49" r="2.9" fill="#eeffa8"/><circle cx="490.1" cy="1253.56" r="2.9" fill="#eeffa8"/><circle cx="490.1" cy="1261.85" r="2.9" fill="#eeffa8"/><circle cx="490.08" cy="1267.38" r="2.9" fill="#eeffa8"/><circle cx="489.64" cy="1269.11" r="2.9" fill="#eeffa8"/><circle cx="490.8" cy="1270.84" r="2.9" fill="#a8c830"/><circle cx="489.53" cy="1272.57" r="2.9" fill="#6e8800"/><circle cx="490.24" cy="1274.3" r="2.9" fill="#ccff00"/><circle cx="503.46" cy="1187.17" r="2.9" fill="#eeffa8"/><circle cx="503.27" cy="1169.19" r="2.9" fill="#eeffa8"/><circle cx="504.2" cy="1170.92" r="2.9" fill="#a8c830"/><circle cx="502.57" cy="1172.65" r="2.9" fill="#6e8800"/><circle cx="504.04" cy="1174.38" r="2.9" fill="#a8c830"/><circle cx="503.5" cy="1176.11" r="2.9" fill="#6e8800"/><circle cx="502.82" cy="1177.84" r="2.9" fill="#a8c830"/><circle cx="504.36" cy="1179.56" r="2.9" fill="#6e8800"/><circle cx="502.77" cy="1181.29" r="2.9" fill="#ccff00"/><circle cx="503.58" cy="1183.02" r="2.9" fill="#6e8800"/><circle cx="516.82" cy="1148.45" r="2.9" fill="#eeffa8"/><circle cx="516.82" cy="1145.68" r="2.9" fill="#eeffa8"/><circle cx="517.3" cy="1136" r="2.9" fill="#6e8800"/><circle cx="515.8" cy="1137.73" r="2.9" fill="#a8c830"/><circle cx="517.85" cy="1139.46" r="2.9" fill="#6e8800"/><circle cx="516.33" cy="1141.19" r="2.9" fill="#ccff00"/><circle cx="516.51" cy="1142.91" r="2.9" fill="#ccff00"/><circle cx="528.78" cy="1136" r="2.9" fill="#6e8800"/><circle cx="531.58" cy="1136" r="2.9" fill="#ccff00"/><circle cx="529.71" cy="1136" r="2.9" fill="#6e8800"/><circle cx="530.65" cy="1136" r="2.9" fill="#ccff00"/><circle cx="541.94" cy="1136" r="2.9" fill="#6e8800"/><circle cx="545.14" cy="1136" r="2.9" fill="#ccff00"/><circle cx="543.01" cy="1136" r="2.9" fill="#6e8800"/><circle cx="544.07" cy="1136" r="2.9" fill="#ccff00"/><circle cx="554.4" cy="1136" r="2.9" fill="#6e8800"/><circle cx="559.4" cy="1136" r="2.9" fill="#ccff00"/><circle cx="555.65" cy="1136" r="2.9" fill="#6e8800"/><circle cx="558.15" cy="1136" r="2.9" fill="#6e8800"/><circle cx="556.9" cy="1136" r="2.9" fill="#ccff00"/><circle cx="567.26" cy="1136" r="2.9" fill="#6e8800"/><circle cx="573.26" cy="1136" r="2.9" fill="#ccff00"/><circle cx="568.76" cy="1136" r="2.9" fill="#6e8800"/><circle cx="571.76" cy="1136" r="2.9" fill="#6e8800"/><circle cx="570.26" cy="1136" r="2.9" fill="#ccff00"/><circle cx="580.62" cy="1136" r="2.9" fill="#6e8800"/><circle cx="586.62" cy="1136" r="2.9" fill="#ccff00"/><circle cx="582.12" cy="1136" r="2.9" fill="#6e8800"/><circle cx="585.12" cy="1136" r="2.9" fill="#6e8800"/><circle cx="583.62" cy="1136" r="2.9" fill="#ccff00"/><circle cx="593.48" cy="1136" r="2.9" fill="#6e8800"/><circle cx="600.48" cy="1136" r="2.9" fill="#ccff00"/><circle cx="595.23" cy="1136" r="2.9" fill="#6e8800"/><circle cx="598.73" cy="1136" r="2.9" fill="#6e8800"/><circle cx="596.98" cy="1136" r="2.9" fill="#ccff00"/>
<path d="M664.45 1141.33H671.35L667.9 1147.33ZM667.9 1137.53L671.35 1143.53H664.45ZM677.81 1136.07H684.71L681.26 1142.07ZM691.17 1134H698.07L694.62 1140ZM694.62 1132L698.07 1138H691.17ZM704.53 1134H711.43L707.98 1140ZM707.98 1132L711.43 1138H704.53ZM717.89 1134H724.79L721.34 1140ZM721.34 1132L724.79 1138H717.89Z" fill="#b8ffff"/>
<circle cx="667.2" cy="1136" r="2.9" fill="#20c0c0"/><circle cx="668.6" cy="1136" r="2.9" fill="#00ffff"/><circle cx="680.36" cy="1136" r="2.9" fill="#007f7f"/><circle cx="682.16" cy="1136" r="2.9" fill="#00ffff"/><circle cx="693.52" cy="1136" r="2.9" fill="#007f7f"/><circle cx="695.72" cy="1136" r="2.9" fill="#00ffff"/><circle cx="694.62" cy="1136" r="2.9" fill="#00ffff"/><circle cx="706.58" cy="1136" r="2.9" fill="#007f7f"/><circle cx="709.38" cy="1136" r="2.9" fill="#00ffff"/><circle cx="707.98" cy="1136" r="2.9" fill="#00ffff"/><circle cx="719.74" cy="1136" r="2.9" fill="#007f7f"/><circle cx="722.94" cy="1136" r="2.9" fill="#00ffff"/><circle cx="720.81" cy="1136" r="2.9" fill="#007f7f"/><circle cx="721.87" cy="1136" r="2.9" fill="#00ffff"/><circle cx="732.2" cy="1136" r="2.9" fill="#007f7f"/><circle cx="737.2" cy="1136" r="2.9" fill="#00ffff"/><circle cx="733.45" cy="1136" r="2.9" fill="#007f7f"/><circle cx="735.95" cy="1136" r="2.9" fill="#007f7f"/><circle cx="734.7" cy="1136" r="2.9" fill="#00ffff"/><circle cx="745.06" cy="1136" r="2.9" fill="#007f7f"/><circle cx="751.06" cy="1136" r="2.9" fill="#00ffff"/><circle cx="746.56" cy="1136" r="2.9" fill="#007f7f"/><circle cx="749.56" cy="1136" r="2.9" fill="#007f7f"/><circle cx="748.06" cy="1136" r="2.9" fill="#00ffff"/><circle cx="758.42" cy="1136" r="2.9" fill="#007f7f"/><circle cx="764.42" cy="1136" r="2.9" fill="#00ffff"/><circle cx="759.92" cy="1136" r="2.9" fill="#007f7f"/><circle cx="762.92" cy="1136" r="2.9" fill="#007f7f"/><circle cx="761.42" cy="1136" r="2.9" fill="#00ffff"/><circle cx="771.28" cy="1136" r="2.9" fill="#007f7f"/><circle cx="778.28" cy="1136" r="2.9" fill="#00ffff"/><circle cx="773.03" cy="1136" r="2.9" fill="#007f7f"/><circle cx="776.53" cy="1136" r="2.9" fill="#007f7f"/><circle cx="774.78" cy="1136" r="2.9" fill="#00ffff"/>
<path d="M842.25 1164.15H849.15L845.7 1170.15ZM845.7 1147.21L849.15 1153.21H842.25ZM856.61 1140.22H863.51L860.06 1146.22ZM867.97 1139.26H874.87L871.42 1145.26ZM882.33 1134H889.23L885.78 1140ZM885.78 1132L889.23 1138H882.33ZM895.69 1134H902.59L899.14 1140ZM899.14 1132L902.59 1138H895.69ZM909.05 1134H915.95L912.5 1140ZM912.5 1132L915.95 1138H909.05Z" fill="#b8d4ff"/>
<circle cx="845.7" cy="1151.21" r="2.9" fill="#a8c8ff"/><circle cx="845.53" cy="1136" r="2.9" fill="#003090"/><circle cx="845.37" cy="1138.42" r="2.9" fill="#3070d8"/><circle cx="846.36" cy="1140.84" r="2.9" fill="#003090"/><circle cx="845.06" cy="1143.26" r="2.9" fill="#0a6eff"/><circle cx="845.98" cy="1145.68" r="2.9" fill="#0a6eff"/><circle cx="858.16" cy="1136" r="2.9" fill="#003090"/><circle cx="859.96" cy="1136" r="2.9" fill="#0a6eff"/><circle cx="859.06" cy="1136" r="2.9" fill="#0a6eff"/><circle cx="871.32" cy="1136" r="2.9" fill="#003090"/><circle cx="873.52" cy="1136" r="2.9" fill="#0a6eff"/><circle cx="872.42" cy="1136" r="2.9" fill="#0a6eff"/><circle cx="884.38" cy="1136" r="2.9" fill="#003090"/><circle cx="887.18" cy="1136" r="2.9" fill="#0a6eff"/><circle cx="885.78" cy="1136" r="2.9" fill="#0a6eff"/><circle cx="897.54" cy="1136" r="2.9" fill="#003090"/><circle cx="900.74" cy="1136" r="2.9" fill="#0a6eff"/><circle cx="898.61" cy="1136" r="2.9" fill="#003090"/><circle cx="899.67" cy="1136" r="2.9" fill="#0a6eff"/><circle cx="910" cy="1136" r="2.9" fill="#003090"/><circle cx="915" cy="1136" r="2.9" fill="#0a6eff"/><circle cx="911.67" cy="1136" r="2.9" fill="#003090"/><circle cx="913.33" cy="1136" r="2.9" fill="#0a6eff"/><circle cx="922.86" cy="1136" r="2.9" fill="#003090"/><circle cx="928.86" cy="1136" r="2.9" fill="#0a6eff"/><circle cx="924.36" cy="1136" r="2.9" fill="#003090"/><circle cx="927.36" cy="1136" r="2.9" fill="#003090"/><circle cx="925.86" cy="1136" r="2.9" fill="#0a6eff"/><circle cx="936.22" cy="1136" r="2.9" fill="#003090"/><circle cx="942.22" cy="1136" r="2.9" fill="#0a6eff"/><circle cx="937.72" cy="1136" r="2.9" fill="#003090"/><circle cx="940.72" cy="1136" r="2.9" fill="#003090"/><circle cx="939.22" cy="1136" r="2.9" fill="#0a6eff"/><circle cx="949.08" cy="1136" r="2.9" fill="#003090"/><circle cx="956.08" cy="1136" r="2.9" fill="#0a6eff"/><circle cx="950.83" cy="1136" r="2.9" fill="#003090"/><circle cx="954.33" cy="1136" r="2.9" fill="#003090"/><circle cx="952.58" cy="1136" r="2.9" fill="#0a6eff"/>
<path d="M1020.05 1272.3H1026.95L1023.5 1278.3ZM1023.5 1270.3L1026.95 1276.3H1020.05ZM1033.41 1272.3H1040.31L1036.86 1278.3ZM1036.86 1270.3L1040.31 1276.3H1033.41ZM1048.77 1202.74H1055.67L1052.22 1208.74ZM1050.22 1233.37L1053.67 1239.37H1046.77ZM1064.58 1196.03L1068.03 1202.03H1061.13ZM1059.13 1209.65H1066.03L1062.58 1215.65ZM1076.94 1178.88L1080.39 1184.88H1073.49ZM1075.49 1167.47H1082.39L1078.94 1173.47ZM1088.85 1145.76H1095.75L1092.3 1151.76ZM1090.3 1134.77L1093.75 1140.77H1086.85Z" fill="#c8c0ff"/>
<circle cx="1023.5" cy="1274.3" r="2.9" fill="#3300ff"/><circle cx="1036.86" cy="1274.3" r="2.9" fill="#3300ff"/><circle cx="1050.22" cy="1254.94" r="2.9" fill="#b0a4ff"/><circle cx="1050.22" cy="1260.47" r="2.9" fill="#b0a4ff"/><circle cx="1050.08" cy="1264.62" r="2.9" fill="#b0a4ff"/><circle cx="1051.06" cy="1266.23" r="2.9" fill="#6a50f0"/><circle cx="1049.12" cy="1267.85" r="2.9" fill="#1a0090"/><circle cx="1051" cy="1269.46" r="2.9" fill="#6a50f0"/><circle cx="1050.17" cy="1271.07" r="2.9" fill="#1a0090"/><circle cx="1049.51" cy="1272.69" r="2.9" fill="#3300ff"/><circle cx="1051.31" cy="1274.3" r="2.9" fill="#1a0090"/><circle cx="1063.58" cy="1199.2" r="2.9" fill="#b0a4ff"/><circle cx="1065.58" cy="1208.75" r="2.9" fill="#b0a4ff"/><circle cx="1064.09" cy="1216.21" r="2.9" fill="#b0a4ff"/><circle cx="1062.32" cy="1218.06" r="2.9" fill="#6a50f0"/><circle cx="1064.92" cy="1219.9" r="2.9" fill="#1a0090"/><circle cx="1062.86" cy="1221.75" r="2.9" fill="#6a50f0"/><circle cx="1063.3" cy="1223.59" r="2.9" fill="#1a0090"/><circle cx="1064.71" cy="1225.43" r="2.9" fill="#6a50f0"/><circle cx="1062.19" cy="1227.28" r="2.9" fill="#1a0090"/><circle cx="1064.5" cy="1229.12" r="2.9" fill="#3300ff"/><circle cx="1063.62" cy="1230.97" r="2.9" fill="#1a0090"/><circle cx="1062.6" cy="1232.81" r="2.9" fill="#b0a4ff"/><circle cx="1076.02" cy="1147.06" r="2.9" fill="#b0a4ff"/><circle cx="1078.5" cy="1150.08" r="2.9" fill="#6a50f0"/><circle cx="1075.56" cy="1153.1" r="2.9" fill="#1a0090"/><circle cx="1077.42" cy="1156.12" r="2.9" fill="#6a50f0"/><circle cx="1077.62" cy="1159.13" r="2.9" fill="#b0a4ff"/><circle cx="1075.46" cy="1162.15" r="2.9" fill="#6a50f0"/><circle cx="1078.44" cy="1165.17" r="2.9" fill="#1a0090"/><circle cx="1076.21" cy="1168.19" r="2.9" fill="#6a50f0"/><circle cx="1076.51" cy="1171.2" r="2.9" fill="#1a0090"/><circle cx="1078.3" cy="1174.22" r="2.9" fill="#3300ff"/><circle cx="1075.37" cy="1177.24" r="2.9" fill="#1a0090"/><circle cx="1077.9" cy="1180.26" r="2.9" fill="#6a50f0"/><circle cx="1087.8" cy="1136" r="2.9" fill="#1a0090"/><circle cx="1092.8" cy="1136" r="2.9" fill="#3300ff"/><circle cx="1089.05" cy="1136" r="2.9" fill="#1a0090"/><circle cx="1091.55" cy="1136" r="2.9" fill="#1a0090"/><circle cx="1090.3" cy="1136" r="2.9" fill="#3300ff"/><circle cx="1100.66" cy="1136" r="2.9" fill="#1a0090"/><circle cx="1106.66" cy="1136" r="2.9" fill="#3300ff"/><circle cx="1102.16" cy="1136" r="2.9" fill="#1a0090"/><circle cx="1105.16" cy="1136" r="2.9" fill="#1a0090"/><circle cx="1103.66" cy="1136" r="2.9" fill="#3300ff"/><circle cx="1114.02" cy="1136" r="2.9" fill="#1a0090"/><circle cx="1120.02" cy="1136" r="2.9" fill="#3300ff"/><circle cx="1115.52" cy="1136" r="2.9" fill="#1a0090"/><circle cx="1118.52" cy="1136" r="2.9" fill="#1a0090"/><circle cx="1117.02" cy="1136" r="2.9" fill="#3300ff"/><circle cx="1126.88" cy="1136" r="2.9" fill="#1a0090"/><circle cx="1133.88" cy="1136" r="2.9" fill="#3300ff"/><circle cx="1128.63" cy="1136" r="2.9" fill="#1a0090"/><circle cx="1132.13" cy="1136" r="2.9" fill="#1a0090"/><circle cx="1130.38" cy="1136" r="2.9" fill="#3300ff"/>
<path d="M130.55 1346H137.45L134 1352ZM134 1344L137.45 1350H130.55ZM143.91 1346H150.81L147.36 1352ZM147.36 1344L150.81 1350H143.91ZM157.27 1346H164.17L160.72 1352ZM160.72 1344L164.17 1350H157.27ZM170.63 1346H177.53L174.08 1352ZM174.08 1344L177.53 1350H170.63ZM183.99 1346H190.89L187.44 1352ZM187.44 1344L190.89 1350H183.99ZM197.35 1346H204.25L200.8 1352ZM200.8 1344L204.25 1350H197.35ZM210.71 1346H217.61L214.16 1352ZM214.16 1344L217.61 1350H210.71ZM224.07 1346H230.97L227.52 1352ZM227.52 1344L230.97 1350H224.07ZM237.43 1346H244.33L240.88 1352ZM240.88 1344L244.33 1350H237.43Z" fill="#ffb6c1"/>
<circle cx="134" cy="1348" r="2.9" fill="#ff0000"/><circle cx="147.36" cy="1348" r="2.9" fill="#ff0000"/><circle cx="159.62" cy="1348" r="2.9" fill="#ff0000"/><circle cx="161.82" cy="1348" r="2.9" fill="#ff0000"/><circle cx="172.68" cy="1348" r="2.9" fill="#8b0000"/><circle cx="175.48" cy="1348" r="2.9" fill="#ff0000"/><circle cx="174.08" cy="1348" r="2.9" fill="#8b0000"/><circle cx="185.84" cy="1348" r="2.9" fill="#8b0000"/><circle cx="189.04" cy="1348" r="2.9" fill="#ff0000"/><circle cx="187.44" cy="1348" r="2.9" fill="#8b0000"/><circle cx="198.3" cy="1348" r="2.9" fill="#8b0000"/><circle cx="203.3" cy="1348" r="2.9" fill="#ff0000"/><circle cx="199.97" cy="1348" r="2.9" fill="#8b0000"/><circle cx="201.63" cy="1348" r="2.9" fill="#8b0000"/><circle cx="211.16" cy="1348" r="2.9" fill="#8b0000"/><circle cx="217.16" cy="1348" r="2.9" fill="#ff0000"/><circle cx="213.16" cy="1348" r="2.9" fill="#8b0000"/><circle cx="215.16" cy="1348" r="2.9" fill="#ff0000"/><circle cx="224.52" cy="1348" r="2.9" fill="#8b0000"/><circle cx="230.52" cy="1348" r="2.9" fill="#ff0000"/><circle cx="226.02" cy="1348" r="2.9" fill="#8b0000"/><circle cx="229.02" cy="1348" r="2.9" fill="#8b0000"/><circle cx="227.52" cy="1348" r="2.9" fill="#ff0000"/><circle cx="237.38" cy="1348" r="2.9" fill="#8b0000"/><circle cx="244.38" cy="1348" r="2.9" fill="#ff0000"/><circle cx="239.13" cy="1348" r="2.9" fill="#8b0000"/><circle cx="242.63" cy="1348" r="2.9" fill="#ff0000"/><circle cx="240.88" cy="1348" r="2.9" fill="#ff0000"/>
<path d="M308.35 1346H315.25L311.8 1352ZM311.8 1344L315.25 1350H308.35ZM321.71 1346H328.61L325.16 1352ZM325.16 1344L328.61 1350H321.71ZM335.07 1346H341.97L338.52 1352ZM338.52 1344L341.97 1350H335.07ZM348.43 1346H355.33L351.88 1352ZM351.88 1344L355.33 1350H348.43ZM361.79 1346H368.69L365.24 1352ZM365.24 1344L368.69 1350H361.79ZM375.15 1346H382.05L378.6 1352ZM378.6 1344L382.05 1350H375.15ZM388.51 1346H395.41L391.96 1352ZM391.96 1344L395.41 1350H388.51ZM401.87 1346H408.77L405.32 1352ZM405.32 1344L408.77 1350H401.87ZM415.23 1346H422.13L418.68 1352ZM418.68 1344L422.13 1350H415.23Z" fill="#ffe4b5"/>
<circle cx="311.8" cy="1348" r="2.9" fill="#ff9900"/><circle cx="325.16" cy="1348" r="2.9" fill="#ff9900"/><circle cx="337.42" cy="1348" r="2.9" fill="#ff9900"/><circle cx="339.62" cy="1348" r="2.9" fill="#ff9900"/><circle cx="350.48" cy="1348" r="2.9" fill="#8b4a00"/><circle cx="353.28" cy="1348" r="2.9" fill="#ff9900"/><circle cx="351.88" cy="1348" r="2.9" fill="#8b4a00"/><circle cx="363.64" cy="1348" r="2.9" fill="#8b4a00"/><circle cx="366.84" cy="1348" r="2.9" fill="#ff9900"/><circle cx="365.24" cy="1348" r="2.9" fill="#8b4a00"/><circle cx="376.1" cy="1348" r="2.9" fill="#8b4a00"/><circle cx="381.1" cy="1348" r="2.9" fill="#ff9900"/><circle cx="377.77" cy="1348" r="2.9" fill="#8b4a00"/><circle cx="379.43" cy="1348" r="2.9" fill="#8b4a00"/><circle cx="388.96" cy="1348" r="2.9" fill="#8b4a00"/><circle cx="394.96" cy="1348" r="2.9" fill="#ff9900"/><circle cx="390.96" cy="1348" r="2.9" fill="#8b4a00"/><circle cx="392.96" cy="1348" r="2.9" fill="#ff9900"/><circle cx="402.32" cy="1348" r="2.9" fill="#8b4a00"/><circle cx="408.32" cy="1348" r="2.9" fill="#ff9900"/><circle cx="403.82" cy="1348" r="2.9" fill="#8b4a00"/><circle cx="406.82" cy="1348" r="2.9" fill="#8b4a00"/><circle cx="405.32" cy="1348" r="2.9" fill="#ff9900"/><circle cx="415.18" cy="1348" r="2.9" fill="#8b4a00"/><circle cx="422.18" cy="1348" r="2.9" fill="#ff9900"/><circle cx="416.93" cy="1348" r="2.9" fill="#8b4a00"/><circle cx="420.43" cy="1348" r="2.9" fill="#ff9900"/><circle cx="418.68" cy="1348" r="2.9" fill="#ff9900"/>
<path d="M486.15 1353.88H493.05L489.6 1359.88ZM489.6 1356.45L493.05 1362.45H486.15ZM499.51 1354.99H506.41L502.96 1360.99ZM512.87 1346H519.77L516.32 1352ZM516.32 1344L519.77 1350H512.87ZM526.23 1346H533.13L529.68 1352ZM529.68 1344L533.13 1350H526.23ZM539.59 1346H546.49L543.04 1352ZM543.04 1344L546.49 1350H539.59ZM552.95 1346H559.85L556.4 1352ZM556.4 1344L559.85 1350H552.95ZM566.31 1346H573.21L569.76 1352ZM569.76 1344L573.21 1350H566.31ZM579.67 1346H586.57L583.12 1352ZM583.12 1344L586.57 1350H579.67ZM593.03 1346H599.93L596.48 1352ZM596.48 1344L599.93 1350H593.03Z" fill="#f4ffb4"/>
<circle cx="489.6" cy="1368.05" r="2.9" fill="#eeffa8"/><circle cx="489.6" cy="1374.28" r="2.9" fill="#eeffa8"/><circle cx="490.02" cy="1382.58" r="2.9" fill="#eeffa8"/><circle cx="488.91" cy="1386.72" r="2.9" fill="#a8c830"/><circle cx="490.2" cy="1390.87" r="2.9" fill="#eeffa8"/><circle cx="489.41" cy="1395.02" r="2.9" fill="#a8c830"/><circle cx="489.28" cy="1399.17" r="2.9" fill="#eeffa8"/><circle cx="490.26" cy="1403.32" r="2.9" fill="#a8c830"/><circle cx="488.95" cy="1407.47" r="2.9" fill="#eeffa8"/><circle cx="489.9" cy="1411.62" r="2.9" fill="#a8c830"/><circle cx="489.8" cy="1415.77" r="2.9" fill="#6e8800"/><circle cx="489" cy="1419.92" r="2.9" fill="#a8c830"/><circle cx="490.28" cy="1424.07" r="2.9" fill="#eeffa8"/><circle cx="489.19" cy="1428.21" r="2.9" fill="#a8c830"/><circle cx="489.51" cy="1432.36" r="2.9" fill="#6e8800"/><circle cx="490.13" cy="1436.51" r="2.9" fill="#a8c830"/><circle cx="502.06" cy="1348" r="2.9" fill="#6e8800"/><circle cx="503.86" cy="1348" r="2.9" fill="#ccff00"/><circle cx="515.22" cy="1348" r="2.9" fill="#6e8800"/><circle cx="517.42" cy="1348" r="2.9" fill="#ccff00"/><circle cx="516.32" cy="1348" r="2.9" fill="#6e8800"/><circle cx="528.28" cy="1348" r="2.9" fill="#6e8800"/><circle cx="531.08" cy="1348" r="2.9" fill="#ccff00"/><circle cx="529.68" cy="1348" r="2.9" fill="#6e8800"/><circle cx="541.44" cy="1348" r="2.9" fill="#6e8800"/><circle cx="544.64" cy="1348" r="2.9" fill="#ccff00"/><circle cx="542.51" cy="1348" r="2.9" fill="#6e8800"/><circle cx="543.57" cy="1348" r="2.9" fill="#ccff00"/><circle cx="553.9" cy="1348" r="2.9" fill="#6e8800"/><circle cx="558.9" cy="1348" r="2.9" fill="#ccff00"/><circle cx="555.57" cy="1348" r="2.9" fill="#6e8800"/><circle cx="557.23" cy="1348" r="2.9" fill="#6e8800"/><circle cx="566.76" cy="1348" r="2.9" fill="#6e8800"/><circle cx="572.76" cy="1348" r="2.9" fill="#ccff00"/><circle cx="568.26" cy="1348" r="2.9" fill="#6e8800"/><circle cx="571.26" cy="1348" r="2.9" fill="#eeffa8"/><circle cx="569.76" cy="1348" r="2.9" fill="#ccff00"/><circle cx="580.12" cy="1348" r="2.9" fill="#6e8800"/><circle cx="586.12" cy="1348" r="2.9" fill="#ccff00"/><circle cx="581.62" cy="1348" r="2.9" fill="#6e8800"/><circle cx="584.62" cy="1348" r="2.9" fill="#6e8800"/><circle cx="583.12" cy="1348" r="2.9" fill="#ccff00"/><circle cx="592.98" cy="1348" r="2.9" fill="#6e8800"/><circle cx="599.98" cy="1348" r="2.9" fill="#ccff00"/><circle cx="594.38" cy="1348" r="2.9" fill="#6e8800"/><circle cx="598.58" cy="1348" r="2.9" fill="#eeffa8"/><circle cx="595.78" cy="1348" r="2.9" fill="#6e8800"/><circle cx="597.18" cy="1348" r="2.9" fill="#ccff00"/>
<path d="M663.95 1346H670.85L667.4 1352ZM667.4 1344L670.85 1350H663.95ZM677.31 1346H684.21L680.76 1352ZM680.76 1344L684.21 1350H677.31ZM690.67 1346H697.57L694.12 1352ZM694.12 1344L697.57 1350H690.67ZM704.03 1346H710.93L707.48 1352ZM707.48 1344L710.93 1350H704.03ZM717.39 1346H724.29L720.84 1352ZM720.84 1344L724.29 1350H717.39ZM730.75 1346H737.65L734.2 1352ZM734.2 1344L737.65 1350H730.75ZM744.11 1346H751.01L747.56 1352ZM747.56 1344L751.01 1350H744.11ZM757.47 1346H764.37L760.92 1352ZM760.92 1344L764.37 1350H757.47ZM770.83 1346H777.73L774.28 1352ZM774.28 1344L777.73 1350H770.83Z" fill="#b8ffff"/>
<circle cx="667.4" cy="1348" r="2.9" fill="#00ffff"/><circle cx="680.76" cy="1348" r="2.9" fill="#00ffff"/><circle cx="693.02" cy="1348" r="2.9" fill="#00ffff"/><circle cx="695.22" cy="1348" r="2.9" fill="#00ffff"/><circle cx="706.08" cy="1348" r="2.9" fill="#007f7f"/><circle cx="708.88" cy="1348" r="2.9" fill="#00ffff"/><circle cx="707.48" cy="1348" r="2.9" fill="#007f7f"/><circle cx="719.24" cy="1348" r="2.9" fill="#007f7f"/><circle cx="722.44" cy="1348" r="2.9" fill="#00ffff"/><circle cx="720.84" cy="1348" r="2.9" fill="#007f7f"/><circle cx="731.7" cy="1348" r="2.9" fill="#007f7f"/><circle cx="736.7" cy="1348" r="2.9" fill="#00ffff"/><circle cx="733.37" cy="1348" r="2.9" fill="#007f7f"/><circle cx="735.03" cy="1348" r="2.9" fill="#007f7f"/><circle cx="744.56" cy="1348" r="2.9" fill="#007f7f"/><circle cx="750.56" cy="1348" r="2.9" fill="#00ffff"/><circle cx="746.56" cy="1348" r="2.9" fill="#007f7f"/><circle cx="748.56" cy="1348" r="2.9" fill="#00ffff"/><circle cx="757.92" cy="1348" r="2.9" fill="#007f7f"/><circle cx="763.92" cy="1348" r="2.9" fill="#00ffff"/><circle cx="759.42" cy="1348" r="2.9" fill="#007f7f"/><circle cx="762.42" cy="1348" r="2.9" fill="#007f7f"/><circle cx="760.92" cy="1348" r="2.9" fill="#00ffff"/><circle cx="770.78" cy="1348" r="2.9" fill="#007f7f"/><circle cx="777.78" cy="1348" r="2.9" fill="#00ffff"/><circle cx="772.53" cy="1348" r="2.9" fill="#007f7f"/><circle cx="776.03" cy="1348" r="2.9" fill="#00ffff"/><circle cx="774.28" cy="1348" r="2.9" fill="#00ffff"/>
<path d="M841.75 1346H848.65L845.2 1352ZM845.2 1344L848.65 1350H841.75ZM855.11 1346H862.01L858.56 1352ZM858.56 1344L862.01 1350H855.11ZM868.47 1346H875.37L871.92 1352ZM871.92 1344L875.37 1350H868.47ZM881.83 1346H888.73L885.28 1352ZM885.28 1344L888.73 1350H881.83ZM895.19 1346H902.09L898.64 1352ZM898.64 1344L902.09 1350H895.19ZM908.55 1346H915.45L912 1352ZM912 1344L915.45 1350H908.55ZM921.91 1346H928.81L925.36 1352ZM925.36 1344L928.81 1350H921.91ZM935.27 1346H942.17L938.72 1352ZM938.72 1344L942.17 1350H935.27ZM948.63 1346H955.53L952.08 1352ZM952.08 1344L955.53 1350H948.63Z" fill="#b8d4ff"/>
<circle cx="845.2" cy="1348" r="2.9" fill="#0a6eff"/><circle cx="858.56" cy="1348" r="2.9" fill="#0a6eff"/><circle cx="870.82" cy="1348" r="2.9" fill="#0a6eff"/><circle cx="873.02" cy="1348" r="2.9" fill="#0a6eff"/><circle cx="883.88" cy="1348" r="2.9" fill="#003090"/><circle cx="886.68" cy="1348" r="2.9" fill="#0a6eff"/><circle cx="885.28" cy="1348" r="2.9" fill="#003090"/><circle cx="897.04" cy="1348" r="2.9" fill="#003090"/><circle cx="900.24" cy="1348" r="2.9" fill="#0a6eff"/><circle cx="898.64" cy="1348" r="2.9" fill="#003090"/><circle cx="909.5" cy="1348" r="2.9" fill="#003090"/><circle cx="914.5" cy="1348" r="2.9" fill="#0a6eff"/><circle cx="911.17" cy="1348" r="2.9" fill="#003090"/><circle cx="912.83" cy="1348" r="2.9" fill="#003090"/><circle cx="922.36" cy="1348" r="2.9" fill="#003090"/><circle cx="928.36" cy="1348" r="2.9" fill="#0a6eff"/><circle cx="924.36" cy="1348" r="2.9" fill="#003090"/><circle cx="926.36" cy="1348" r="2.9" fill="#0a6eff"/><circle cx="935.72" cy="1348" r="2.9" fill="#003090"/><circle cx="941.72" cy="1348" r="2.9" fill="#0a6eff"/><circle cx="937.22" cy="1348" r="2.9" fill="#003090"/><circle cx="940.22" cy="1348" r="2.9" fill="#003090"/><circle cx="938.72" cy="1348" r="2.9" fill="#0a6eff"/><circle cx="948.58" cy="1348" r="2.9" fill="#003090"/><circle cx="955.58" cy="1348" r="2.9" fill="#0a6eff"/><circle cx="950.33" cy="1348" r="2.9" fill="#003090"/><circle cx="953.83" cy="1348" r="2.9" fill="#0a6eff"/><circle cx="952.08" cy="1348" r="2.9" fill="#0a6eff"/>
<path d="M1019.55 1484.3H1026.45L1023 1490.3ZM1023 1482.3L1026.45 1488.3H1019.55ZM1032.91 1484.3H1039.81L1036.36 1490.3ZM1036.36 1482.3L1039.81 1488.3H1032.91ZM1049.72 1365.85L1053.17 1371.85H1046.27ZM1060.63 1356.65H1067.53L1064.08 1362.65ZM1063.08 1346.77L1066.53 1352.77H1059.63ZM1072.99 1346H1079.89L1076.44 1352ZM1076.44 1344L1079.89 1350H1072.99ZM1086.35 1346H1093.25L1089.8 1352ZM1089.8 1344L1093.25 1350H1086.35ZM1099.71 1346H1106.61L1103.16 1352ZM1103.16 1344L1106.61 1350H1099.71ZM1113.07 1346H1119.97L1116.52 1352ZM1116.52 1344L1119.97 1350H1113.07ZM1126.43 1346H1133.33L1129.88 1352ZM1129.88 1344L1133.33 1350H1126.43Z" fill="#c8c0ff"/>
<circle cx="1023" cy="1486.3" r="2.9" fill="#3300ff"/><circle cx="1036.36" cy="1486.3" r="2.9" fill="#3300ff"/><circle cx="1049.72" cy="1388.52" r="2.9" fill="#b0a4ff"/><circle cx="1049.72" cy="1379.67" r="2.9" fill="#b0a4ff"/><circle cx="1049.72" cy="1371.93" r="2.9" fill="#b0a4ff"/><circle cx="1048.93" cy="1350.77" r="2.9" fill="#6a50f0"/><circle cx="1050.82" cy="1352.61" r="2.9" fill="#1a0090"/><circle cx="1048.89" cy="1354.45" r="2.9" fill="#6a50f0"/><circle cx="1049.85" cy="1356.3" r="2.9" fill="#1a0090"/><circle cx="1050.36" cy="1358.14" r="2.9" fill="#3300ff"/><circle cx="1048.64" cy="1359.99" r="2.9" fill="#1a0090"/><circle cx="1050.66" cy="1361.83" r="2.9" fill="#6a50f0"/><circle cx="1049.41" cy="1363.67" r="2.9" fill="#1a0090"/><circle cx="1049.24" cy="1365.52" r="2.9" fill="#3300ff"/><circle cx="1050.74" cy="1367.36" r="2.9" fill="#1a0090"/><circle cx="1061.68" cy="1348" r="2.9" fill="#1a0090"/><circle cx="1064.48" cy="1348" r="2.9" fill="#3300ff"/><circle cx="1063.08" cy="1348" r="2.9" fill="#1a0090"/><circle cx="1074.84" cy="1348" r="2.9" fill="#1a0090"/><circle cx="1078.04" cy="1348" r="2.9" fill="#3300ff"/><circle cx="1075.91" cy="1348" r="2.9" fill="#1a0090"/><circle cx="1076.97" cy="1348" r="2.9" fill="#3300ff"/><circle cx="1087.3" cy="1348" r="2.9" fill="#1a0090"/><circle cx="1092.3" cy="1348" r="2.9" fill="#3300ff"/><circle cx="1088.97" cy="1348" r="2.9" fill="#1a0090"/><circle cx="1090.63" cy="1348" r="2.9" fill="#3300ff"/><circle cx="1100.16" cy="1348" r="2.9" fill="#1a0090"/><circle cx="1106.16" cy="1348" r="2.9" fill="#3300ff"/><circle cx="1101.66" cy="1348" r="2.9" fill="#1a0090"/><circle cx="1104.66" cy="1348" r="2.9" fill="#1a0090"/><circle cx="1103.16" cy="1348" r="2.9" fill="#3300ff"/><circle cx="1113.52" cy="1348" r="2.9" fill="#1a0090"/><circle cx="1119.52" cy="1348" r="2.9" fill="#3300ff"/><circle cx="1115.02" cy="1348" r="2.9" fill="#1a0090"/><circle cx="1118.02" cy="1348" r="2.9" fill="#1a0090"/><circle cx="1116.52" cy="1348" r="2.9" fill="#3300ff"/><circle cx="1126.38" cy="1348" r="2.9" fill="#1a0090"/><circle cx="1133.38" cy="1348" r="2.9" fill="#3300ff"/><circle cx="1128.13" cy="1348" r="2.9" fill="#1a0090"/><circle cx="1131.63" cy="1348" r="2.9" fill="#1a0090"/><circle cx="1129.88" cy="1348" r="2.9" fill="#3300ff"/>
<path d="M130.55 1560.5H137.45L134 1566.5ZM134 1558.5L137.45 1564.5H130.55ZM143.91 1560.5H150.81L147.36 1566.5ZM147.36 1558.5L150.81 1564.5H143.91ZM157.27 1560.5H164.17L160.72 1566.5ZM160.72 1558.5L164.17 1564.5H157.27ZM170.63 1560.5H177.53L174.08 1566.5ZM174.08 1558.5L177.53 1564.5H170.63ZM183.99 1560.5H190.89L187.44 1566.5ZM187.44 1558.5L190.89 1564.5H183.99ZM197.35 1560.5H204.25L200.8 1566.5ZM200.8 1558.5L204.25 1564.5H197.35ZM210.71 1560.5H217.61L214.16 1566.5ZM214.16 1558.5L217.61 1564.5H210.71ZM224.07 1560.5H230.97L227.52 1566.5ZM227.52 1558.5L230.97 1564.5H224.07ZM237.43 1560.5H244.33L240.88 1566.5ZM240.88 1558.5L244.33 1564.5H237.43Z" fill="#ffb6c1"/>
<circle cx="134" cy="1562.5" r="2.9" fill="#ff0000"/><circle cx="147.36" cy="1562.5" r="2.9" fill="#ff0000"/><circle cx="159.62" cy="1562.5" r="2.9" fill="#ff0000"/><circle cx="161.82" cy="1562.5" r="2.9" fill="#ff0000"/><circle cx="172.68" cy="1562.5" r="2.9" fill="#8b0000"/><circle cx="175.48" cy="1562.5" r="2.9" fill="#ff0000"/><circle cx="174.08" cy="1562.5" r="2.9" fill="#8b0000"/><circle cx="185.84" cy="1562.5" r="2.9" fill="#8b0000"/><circle cx="189.04" cy="1562.5" r="2.9" fill="#ff0000"/><circle cx="187.44" cy="1562.5" r="2.9" fill="#8b0000"/><circle cx="198.3" cy="1562.5" r="2.9" fill="#8b0000"/><circle cx="203.3" cy="1562.5" r="2.9" fill="#ff0000"/><circle cx="199.97" cy="1562.5" r="2.9" fill="#8b0000"/><circle cx="201.63" cy="1562.5" r="2.9" fill="#8b0000"/><circle cx="211.16" cy="1562.5" r="2.9" fill="#8b0000"/><circle cx="217.16" cy="1562.5" r="2.9" fill="#ff0000"/><circle cx="213.16" cy="1562.5" r="2.9" fill="#8b0000"/><circle cx="215.16" cy="1562.5" r="2.9" fill="#ff0000"/><circle cx="224.52" cy="1562.5" r="2.9" fill="#8b0000"/><circle cx="230.52" cy="1562.5" r="2.9" fill="#ff0000"/><circle cx="226.02" cy="1562.5" r="2.9" fill="#8b0000"/><circle cx="229.02" cy="1562.5" r="2.9" fill="#8b0000"/><circle cx="227.52" cy="1562.5" r="2.9" fill="#ff0000"/><circle cx="237.38" cy="1562.5" r="2.9" fill="#8b0000"/><circle cx="244.38" cy="1562.5" r="2.9" fill="#ff0000"/><circle cx="239.13" cy="1562.5" r="2.9" fill="#8b0000"/><circle cx="242.63" cy="1562.5" r="2.9" fill="#ff0000"/><circle cx="240.88" cy="1562.5" r="2.9" fill="#ff0000"/>
<path d="M308.35 1560.5H315.25L311.8 1566.5ZM311.8 1558.5L315.25 1564.5H308.35ZM321.71 1560.5H328.61L325.16 1566.5ZM325.16 1558.5L328.61 1564.5H321.71ZM335.07 1560.5H341.97L338.52 1566.5ZM338.52 1558.5L341.97 1564.5H335.07ZM348.43 1560.5H355.33L351.88 1566.5ZM351.88 1558.5L355.33 1564.5H348.43ZM361.79 1560.5H368.69L365.24 1566.5ZM365.24 1558.5L368.69 1564.5H361.79ZM375.15 1560.5H382.05L378.6 1566.5ZM378.6 1558.5L382.05 1564.5H375.15ZM388.51 1560.5H395.41L391.96 1566.5ZM391.96 1558.5L395.41 1564.5H388.51ZM401.87 1560.5H408.77L405.32 1566.5ZM405.32 1558.5L408.77 1564.5H401.87ZM415.23 1560.5H422.13L418.68 1566.5ZM418.68 1558.5L422.13 1564.5H415.23Z" fill="#ffe4b5"/>
<circle cx="311.8" cy="1562.5" r="2.9" fill="#ff9900"/><circle cx="325.16" cy="1562.5" r="2.9" fill="#ff9900"/><circle cx="337.42" cy="1562.5" r="2.9" fill="#ff9900"/><circle cx="339.62" cy="1562.5" r="2.9" fill="#ff9900"/><circle cx="350.48" cy="1562.5" r="2.9" fill="#8b4a00"/><circle cx="353.28" cy="1562.5" r="2.9" fill="#ff9900"/><circle cx="351.88" cy="1562.5" r="2.9" fill="#8b4a00"/><circle cx="363.64" cy="1562.5" r="2.9" fill="#8b4a00"/><circle cx="366.84" cy="1562.5" r="2.9" fill="#ff9900"/><circle cx="365.24" cy="1562.5" r="2.9" fill="#8b4a00"/><circle cx="376.1" cy="1562.5" r="2.9" fill="#8b4a00"/><circle cx="381.1" cy="1562.5" r="2.9" fill="#ff9900"/><circle cx="377.77" cy="1562.5" r="2.9" fill="#8b4a00"/><circle cx="379.43" cy="1562.5" r="2.9" fill="#8b4a00"/><circle cx="388.96" cy="1562.5" r="2.9" fill="#8b4a00"/><circle cx="394.96" cy="1562.5" r="2.9" fill="#ff9900"/><circle cx="390.96" cy="1562.5" r="2.9" fill="#8b4a00"/><circle cx="392.96" cy="1562.5" r="2.9" fill="#ff9900"/><circle cx="402.32" cy="1562.5" r="2.9" fill="#8b4a00"/><circle cx="408.32" cy="1562.5" r="2.9" fill="#ff9900"/><circle cx="403.82" cy="1562.5" r="2.9" fill="#8b4a00"/><circle cx="406.82" cy="1562.5" r="2.9" fill="#8b4a00"/><circle cx="405.32" cy="1562.5" r="2.9" fill="#ff9900"/><circle cx="415.18" cy="1562.5" r="2.9" fill="#8b4a00"/><circle cx="422.18" cy="1562.5" r="2.9" fill="#ff9900"/><circle cx="416.93" cy="1562.5" r="2.9" fill="#8b4a00"/><circle cx="420.43" cy="1562.5" r="2.9" fill="#ff9900"/><circle cx="418.68" cy="1562.5" r="2.9" fill="#ff9900"/>
<path d="M486.15 1560.5H493.05L489.6 1566.5ZM489.6 1558.5L493.05 1564.5H486.15ZM499.51 1560.5H506.41L502.96 1566.5ZM502.96 1558.5L506.41 1564.5H499.51ZM512.87 1560.5H519.77L516.32 1566.5ZM516.32 1558.5L519.77 1564.5H512.87ZM526.23 1560.5H533.13L529.68 1566.5ZM529.68 1558.5L533.13 1564.5H526.23ZM539.59 1560.5H546.49L543.04 1566.5ZM543.04 1558.5L546.49 1564.5H539.59ZM552.95 1560.5H559.85L556.4 1566.5ZM556.4 1558.5L559.85 1564.5H552.95ZM566.31 1560.5H573.21L569.76 1566.5ZM569.76 1558.5L573.21 1564.5H566.31ZM579.67 1560.5H586.57L583.12 1566.5ZM583.12 1558.5L586.57 1564.5H579.67ZM593.03 1560.5H599.93L596.48 1566.5ZM596.48 1558.5L599.93 1564.5H593.03Z" fill="#f4ffb4"/>
<circle cx="489.6" cy="1562.5" r="2.9" fill="#ccff00"/><circle cx="502.96" cy="1562.5" r="2.9" fill="#ccff00"/><circle cx="515.22" cy="1562.5" r="2.9" fill="#ccff00"/><circle cx="517.42" cy="1562.5" r="2.9" fill="#ccff00"/><circle cx="528.28" cy="1562.5" r="2.9" fill="#6e8800"/><circle cx="531.08" cy="1562.5" r="2.9" fill="#ccff00"/><circle cx="529.68" cy="1562.5" r="2.9" fill="#6e8800"/><circle cx="541.44" cy="1562.5" r="2.9" fill="#6e8800"/><circle cx="544.64" cy="1562.5" r="2.9" fill="#ccff00"/><circle cx="543.04" cy="1562.5" r="2.9" fill="#6e8800"/><circle cx="553.9" cy="1562.5" r="2.9" fill="#6e8800"/><circle cx="558.9" cy="1562.5" r="2.9" fill="#ccff00"/><circle cx="555.57" cy="1562.5" r="2.9" fill="#6e8800"/><circle cx="557.23" cy="1562.5" r="2.9" fill="#6e8800"/><circle cx="566.76" cy="1562.5" r="2.9" fill="#6e8800"/><circle cx="572.76" cy="1562.5" r="2.9" fill="#ccff00"/><circle cx="568.76" cy="1562.5" r="2.9" fill="#6e8800"/><circle cx="570.76" cy="1562.5" r="2.9" fill="#ccff00"/><circle cx="580.12" cy="1562.5" r="2.9" fill="#6e8800"/><circle cx="586.12" cy="1562.5" r="2.9" fill="#ccff00"/><circle cx="581.62" cy="1562.5" r="2.9" fill="#6e8800"/><circle cx="584.62" cy="1562.5" r="2.9" fill="#6e8800"/><circle cx="583.12" cy="1562.5" r="2.9" fill="#ccff00"/><circle cx="592.98" cy="1562.5" r="2.9" fill="#6e8800"/><circle cx="599.98" cy="1562.5" r="2.9" fill="#ccff00"/><circle cx="594.73" cy="1562.5" r="2.9" fill="#6e8800"/><circle cx="598.23" cy="1562.5" r="2.9" fill="#ccff00"/><circle cx="596.48" cy="1562.5" r="2.9" fill="#ccff00"/>
<path d="M663.95 1560.5H670.85L667.4 1566.5ZM667.4 1558.5L670.85 1564.5H663.95ZM677.31 1560.5H684.21L680.76 1566.5ZM680.76 1558.5L684.21 1564.5H677.31ZM690.67 1560.5H697.57L694.12 1566.5ZM694.12 1558.5L697.57 1564.5H690.67ZM704.03 1560.5H710.93L707.48 1566.5ZM707.48 1558.5L710.93 1564.5H704.03ZM717.39 1560.5H724.29L720.84 1566.5ZM720.84 1558.5L724.29 1564.5H717.39ZM730.75 1560.5H737.65L734.2 1566.5ZM734.2 1558.5L737.65 1564.5H730.75ZM744.11 1560.5H751.01L747.56 1566.5ZM747.56 1558.5L751.01 1564.5H744.11ZM757.47 1560.5H764.37L760.92 1566.5ZM760.92 1558.5L764.37 1564.5H757.47ZM770.83 1560.5H777.73L774.28 1566.5ZM774.28 1558.5L777.73 1564.5H770.83Z" fill="#b8ffff"/>
<circle cx="667.4" cy="1562.5" r="2.9" fill="#00ffff"/><circle cx="680.76" cy="1562.5" r="2.9" fill="#00ffff"/><circle cx="693.02" cy="1562.5" r="2.9" fill="#00ffff"/><circle cx="695.22" cy="1562.5" r="2.9" fill="#00ffff"/><circle cx="706.08" cy="1562.5" r="2.9" fill="#007f7f"/><circle cx="708.88" cy="1562.5" r="2.9" fill="#00ffff"/><circle cx="707.48" cy="1562.5" r="2.9" fill="#007f7f"/><circle cx="719.24" cy="1562.5" r="2.9" fill="#007f7f"/><circle cx="722.44" cy="1562.5" r="2.9" fill="#00ffff"/><circle cx="720.84" cy="1562.5" r="2.9" fill="#007f7f"/><circle cx="731.7" cy="1562.5" r="2.9" fill="#007f7f"/><circle cx="736.7" cy="1562.5" r="2.9" fill="#00ffff"/><circle cx="733.37" cy="1562.5" r="2.9" fill="#007f7f"/><circle cx="735.03" cy="1562.5" r="2.9" fill="#007f7f"/><circle cx="744.56" cy="1562.5" r="2.9" fill="#007f7f"/><circle cx="750.56" cy="1562.5" r="2.9" fill="#00ffff"/><circle cx="746.56" cy="1562.5" r="2.9" fill="#007f7f"/><circle cx="748.56" cy="1562.5" r="2.9" fill="#00ffff"/><circle cx="757.92" cy="1562.5" r="2.9" fill="#007f7f"/><circle cx="763.92" cy="1562.5" r="2.9" fill="#00ffff"/><circle cx="759.42" cy="1562.5" r="2.9" fill="#007f7f"/><circle cx="762.42" cy="1562.5" r="2.9" fill="#007f7f"/><circle cx="760.92" cy="1562.5" r="2.9" fill="#00ffff"/><circle cx="770.78" cy="1562.5" r="2.9" fill="#007f7f"/><circle cx="777.78" cy="1562.5" r="2.9" fill="#00ffff"/><circle cx="772.53" cy="1562.5" r="2.9" fill="#007f7f"/><circle cx="776.03" cy="1562.5" r="2.9" fill="#00ffff"/><circle cx="774.28" cy="1562.5" r="2.9" fill="#00ffff"/>
<path d="M841.75 1560.5H848.65L845.2 1566.5ZM845.2 1558.5L848.65 1564.5H841.75ZM855.11 1560.5H862.01L858.56 1566.5ZM858.56 1558.5L862.01 1564.5H855.11ZM868.47 1560.5H875.37L871.92 1566.5ZM871.92 1558.5L875.37 1564.5H868.47ZM881.83 1560.5H888.73L885.28 1566.5ZM885.28 1558.5L888.73 1564.5H881.83ZM895.19 1560.5H902.09L898.64 1566.5ZM898.64 1558.5L902.09 1564.5H895.19ZM908.55 1560.5H915.45L912 1566.5ZM912 1558.5L915.45 1564.5H908.55ZM921.91 1560.5H928.81L925.36 1566.5ZM925.36 1558.5L928.81 1564.5H921.91ZM935.27 1560.5H942.17L938.72 1566.5ZM938.72 1558.5L942.17 1564.5H935.27ZM948.63 1560.5H955.53L952.08 1566.5ZM952.08 1558.5L955.53 1564.5H948.63Z" fill="#b8d4ff"/>
<circle cx="845.2" cy="1562.5" r="2.9" fill="#0a6eff"/><circle cx="858.56" cy="1562.5" r="2.9" fill="#0a6eff"/><circle cx="870.82" cy="1562.5" r="2.9" fill="#0a6eff"/><circle cx="873.02" cy="1562.5" r="2.9" fill="#0a6eff"/><circle cx="883.88" cy="1562.5" r="2.9" fill="#003090"/><circle cx="886.68" cy="1562.5" r="2.9" fill="#0a6eff"/><circle cx="885.28" cy="1562.5" r="2.9" fill="#003090"/><circle cx="897.04" cy="1562.5" r="2.9" fill="#003090"/><circle cx="900.24" cy="1562.5" r="2.9" fill="#0a6eff"/><circle cx="898.64" cy="1562.5" r="2.9" fill="#003090"/><circle cx="909.5" cy="1562.5" r="2.9" fill="#003090"/><circle cx="914.5" cy="1562.5" r="2.9" fill="#0a6eff"/><circle cx="911.17" cy="1562.5" r="2.9" fill="#003090"/><circle cx="912.83" cy="1562.5" r="2.9" fill="#003090"/><circle cx="922.36" cy="1562.5" r="2.9" fill="#003090"/><circle cx="928.36" cy="1562.5" r="2.9" fill="#0a6eff"/><circle cx="924.36" cy="1562.5" r="2.9" fill="#003090"/><circle cx="926.36" cy="1562.5" r="2.9" fill="#0a6eff"/><circle cx="935.72" cy="1562.5" r="2.9" fill="#003090"/><circle cx="941.72" cy="1562.5" r="2.9" fill="#0a6eff"/><circle cx="937.22" cy="1562.5" r="2.9" fill="#003090"/><circle cx="940.22" cy="1562.5" r="2.9" fill="#003090"/><circle cx="938.72" cy="1562.5" r="2.9" fill="#0a6eff"/><circle cx="948.58" cy="1562.5" r="2.9" fill="#003090"/><circle cx="955.58" cy="1562.5" r="2.9" fill="#0a6eff"/><circle cx="950.33" cy="1562.5" r="2.9" fill="#003090"/><circle cx="953.83" cy="1562.5" r="2.9" fill="#0a6eff"/><circle cx="952.08" cy="1562.5" r="2.9" fill="#0a6eff"/>
<path d="M1019.55 1698.8H1026.45L1023 1704.8ZM1023 1696.8L1026.45 1702.8H1019.55ZM1032.91 1698.8H1039.81L1036.36 1704.8ZM1036.36 1696.8L1039.81 1702.8H1032.91ZM1046.27 1560.5H1053.17L1049.72 1566.5ZM1049.72 1558.5L1053.17 1564.5H1046.27ZM1059.63 1560.5H1066.53L1063.08 1566.5ZM1063.08 1558.5L1066.53 1564.5H1059.63ZM1072.99 1560.5H1079.89L1076.44 1566.5ZM1076.44 1558.5L1079.89 1564.5H1072.99ZM1086.35 1560.5H1093.25L1089.8 1566.5ZM1089.8 1558.5L1093.25 1564.5H1086.35ZM1099.71 1560.5H1106.61L1103.16 1566.5ZM1103.16 1558.5L1106.61 1564.5H1099.71ZM1113.07 1560.5H1119.97L1116.52 1566.5ZM1116.52 1558.5L1119.97 1564.5H1113.07ZM1126.43 1560.5H1133.33L1129.88 1566.5ZM1129.88 1558.5L1133.33 1564.5H1126.43Z" fill="#c8c0ff"/>
<circle cx="1023" cy="1700.8" r="2.9" fill="#3300ff"/><circle cx="1036.36" cy="1700.8" r="2.9" fill="#3300ff"/><circle cx="1048.62" cy="1562.5" r="2.9" fill="#3300ff"/><circle cx="1050.82" cy="1562.5" r="2.9" fill="#1a0090"/><circle cx="1061.68" cy="1562.5" r="2.9" fill="#1a0090"/><circle cx="1064.48" cy="1562.5" r="2.9" fill="#3300ff"/><circle cx="1063.08" cy="1562.5" r="2.9" fill="#1a0090"/><circle cx="1074.84" cy="1562.5" r="2.9" fill="#1a0090"/><circle cx="1078.04" cy="1562.5" r="2.9" fill="#3300ff"/><circle cx="1076.44" cy="1562.5" r="2.9" fill="#1a0090"/><circle cx="1087.3" cy="1562.5" r="2.9" fill="#1a0090"/><circle cx="1092.3" cy="1562.5" r="2.9" fill="#3300ff"/><circle cx="1088.97" cy="1562.5" r="2.9" fill="#1a0090"/><circle cx="1090.63" cy="1562.5" r="2.9" fill="#1a0090"/><circle cx="1100.16" cy="1562.5" r="2.9" fill="#1a0090"/><circle cx="1106.16" cy="1562.5" r="2.9" fill="#3300ff"/><circle cx="1102.16" cy="1562.5" r="2.9" fill="#1a0090"/><circle cx="1104.16" cy="1562.5" r="2.9" fill="#3300ff"/><circle cx="1113.52" cy="1562.5" r="2.9" fill="#1a0090"/><circle cx="1119.52" cy="1562.5" r="2.9" fill="#3300ff"/><circle cx="1115.02" cy="1562.5" r="2.9" fill="#1a0090"/><circle cx="1118.02" cy="1562.5" r="2.9" fill="#1a0090"/><circle cx="1116.52" cy="1562.5" r="2.9" fill="#3300ff"/><circle cx="1126.38" cy="1562.5" r="2.9" fill="#1a0090"/><circle cx="1133.38" cy="1562.5" r="2.9" fill="#3300ff"/><circle cx="1128.13" cy="1562.5" r="2.9" fill="#1a0090"/><circle cx="1131.63" cy="1562.5" r="2.9" fill="#3300ff"/><circle cx="1129.88" cy="1562.5" r="2.9" fill="#3300ff"/>
</g>
<g fill="none" stroke="#000" stroke-width="1.4">
<path d="M1082.3 75.9H1094.3L1088.3 85.3Z"/>
<path d="M1082.3 105.8H1094.3L1088.3 96.2Z"/>
<circle cx="1088.3" cy="126.7" r="4.6"/>
</g>
<g font-size="19.5">
<text x="1106.1" y="85.8">num marker = 1</text>
<text x="1106.1" y="109.6">num marker = 2</text>
<text x="1106.1" y="133.6">num marker &gt;= 3</text>
</g>
<text x="502.05" y="1790.4" font-size="25">Coverage in RNA-seq</text>
</svg></body></html>
